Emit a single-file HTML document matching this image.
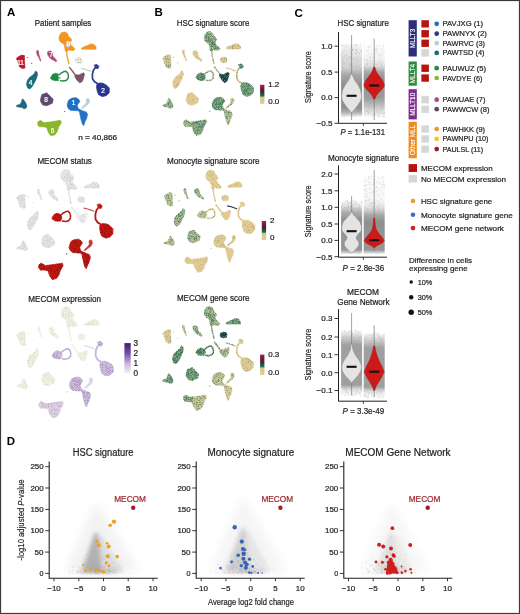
<!DOCTYPE html><html><head><meta charset="utf-8"><style>html,body{margin:0;padding:0;background:#fff;}svg{display:block;will-change:transform;}</style></head><body><svg width="520" height="614" viewBox="0 0 520 614" font-family="Liberation Sans, sans-serif">
<rect x="0" y="0" width="520" height="614" fill="#fff"/>
<defs><filter id="sp35" x="0" y="0" width="520" height="614" filterUnits="userSpaceOnUse"><feTurbulence type="fractalNoise" baseFrequency="1.5" numOctaves="2" seed="3" result="n"/><feColorMatrix in="n" type="matrix" values="0 0 0 0 0  0 0 0 0 0  0 0 0 0 0  0 0 0 6 -2.812" result="m"/><feComposite in="SourceGraphic" in2="m" operator="in" result="c"/><feGaussianBlur in="c" stdDeviation="0.5"/></filter><filter id="sp40" x="0" y="0" width="520" height="614" filterUnits="userSpaceOnUse"><feTurbulence type="fractalNoise" baseFrequency="1.5" numOctaves="2" seed="3" result="n"/><feColorMatrix in="n" type="matrix" values="0 0 0 0 0  0 0 0 0 0  0 0 0 0 0  0 0 0 6 -2.708" result="m"/><feComposite in="SourceGraphic" in2="m" operator="in" result="c"/><feGaussianBlur in="c" stdDeviation="0.5"/></filter><filter id="sp30" x="0" y="0" width="520" height="614" filterUnits="userSpaceOnUse"><feTurbulence type="fractalNoise" baseFrequency="1.5" numOctaves="2" seed="3" result="n"/><feColorMatrix in="n" type="matrix" values="0 0 0 0 0  0 0 0 0 0  0 0 0 0 0  0 0 0 6 -2.917" result="m"/><feComposite in="SourceGraphic" in2="m" operator="in" result="c"/><feGaussianBlur in="c" stdDeviation="0.5"/></filter><filter id="sp32" x="0" y="0" width="520" height="614" filterUnits="userSpaceOnUse"><feTurbulence type="fractalNoise" baseFrequency="1.5" numOctaves="2" seed="3" result="n"/><feColorMatrix in="n" type="matrix" values="0 0 0 0 0  0 0 0 0 0  0 0 0 0 0  0 0 0 6 -2.875" result="m"/><feComposite in="SourceGraphic" in2="m" operator="in" result="c"/><feGaussianBlur in="c" stdDeviation="0.5"/></filter><filter id="sp50" x="0" y="0" width="520" height="614" filterUnits="userSpaceOnUse"><feTurbulence type="fractalNoise" baseFrequency="1.5" numOctaves="2" seed="3" result="n"/><feColorMatrix in="n" type="matrix" values="0 0 0 0 0  0 0 0 0 0  0 0 0 0 0  0 0 0 6 -2.500" result="m"/><feComposite in="SourceGraphic" in2="m" operator="in" result="c"/><feGaussianBlur in="c" stdDeviation="0.5"/></filter><filter id="sp45" x="0" y="0" width="520" height="614" filterUnits="userSpaceOnUse"><feTurbulence type="fractalNoise" baseFrequency="1.5" numOctaves="2" seed="3" result="n"/><feColorMatrix in="n" type="matrix" values="0 0 0 0 0  0 0 0 0 0  0 0 0 0 0  0 0 0 6 -2.604" result="m"/><feComposite in="SourceGraphic" in2="m" operator="in" result="c"/><feGaussianBlur in="c" stdDeviation="0.5"/></filter><filter id="sp42" x="0" y="0" width="520" height="614" filterUnits="userSpaceOnUse"><feTurbulence type="fractalNoise" baseFrequency="1.5" numOctaves="2" seed="3" result="n"/><feColorMatrix in="n" type="matrix" values="0 0 0 0 0  0 0 0 0 0  0 0 0 0 0  0 0 0 6 -2.667" result="m"/><feComposite in="SourceGraphic" in2="m" operator="in" result="c"/><feGaussianBlur in="c" stdDeviation="0.5"/></filter><filter id="sp22" x="0" y="0" width="520" height="614" filterUnits="userSpaceOnUse"><feTurbulence type="fractalNoise" baseFrequency="1.5" numOctaves="2" seed="3" result="n"/><feColorMatrix in="n" type="matrix" values="0 0 0 0 0  0 0 0 0 0  0 0 0 0 0  0 0 0 6 -3.125" result="m"/><feComposite in="SourceGraphic" in2="m" operator="in" result="c"/><feGaussianBlur in="c" stdDeviation="0.5"/></filter><filter id="sp26" x="0" y="0" width="520" height="614" filterUnits="userSpaceOnUse"><feTurbulence type="fractalNoise" baseFrequency="1.5" numOctaves="2" seed="3" result="n"/><feColorMatrix in="n" type="matrix" values="0 0 0 0 0  0 0 0 0 0  0 0 0 0 0  0 0 0 6 -3.000" result="m"/><feComposite in="SourceGraphic" in2="m" operator="in" result="c"/><feGaussianBlur in="c" stdDeviation="0.5"/></filter><filter id="sp33" x="0" y="0" width="520" height="614" filterUnits="userSpaceOnUse"><feTurbulence type="fractalNoise" baseFrequency="1.5" numOctaves="2" seed="3" result="n"/><feColorMatrix in="n" type="matrix" values="0 0 0 0 0  0 0 0 0 0  0 0 0 0 0  0 0 0 6 -2.854" result="m"/><feComposite in="SourceGraphic" in2="m" operator="in" result="c"/><feGaussianBlur in="c" stdDeviation="0.5"/></filter><filter id="sp14" x="0" y="0" width="520" height="614" filterUnits="userSpaceOnUse"><feTurbulence type="fractalNoise" baseFrequency="1.5" numOctaves="2" seed="3" result="n"/><feColorMatrix in="n" type="matrix" values="0 0 0 0 0  0 0 0 0 0  0 0 0 0 0  0 0 0 6 -3.375" result="m"/><feComposite in="SourceGraphic" in2="m" operator="in" result="c"/><feGaussianBlur in="c" stdDeviation="0.5"/></filter><filter id="sp46" x="0" y="0" width="520" height="614" filterUnits="userSpaceOnUse"><feTurbulence type="fractalNoise" baseFrequency="1.5" numOctaves="2" seed="3" result="n"/><feColorMatrix in="n" type="matrix" values="0 0 0 0 0  0 0 0 0 0  0 0 0 0 0  0 0 0 6 -2.583" result="m"/><feComposite in="SourceGraphic" in2="m" operator="in" result="c"/><feGaussianBlur in="c" stdDeviation="0.5"/></filter><filter id="sp48" x="0" y="0" width="520" height="614" filterUnits="userSpaceOnUse"><feTurbulence type="fractalNoise" baseFrequency="1.5" numOctaves="2" seed="3" result="n"/><feColorMatrix in="n" type="matrix" values="0 0 0 0 0  0 0 0 0 0  0 0 0 0 0  0 0 0 6 -2.542" result="m"/><feComposite in="SourceGraphic" in2="m" operator="in" result="c"/><feGaussianBlur in="c" stdDeviation="0.5"/></filter><filter id="sp18" x="0" y="0" width="520" height="614" filterUnits="userSpaceOnUse"><feTurbulence type="fractalNoise" baseFrequency="1.5" numOctaves="2" seed="3" result="n"/><feColorMatrix in="n" type="matrix" values="0 0 0 0 0  0 0 0 0 0  0 0 0 0 0  0 0 0 6 -3.250" result="m"/><feComposite in="SourceGraphic" in2="m" operator="in" result="c"/><feGaussianBlur in="c" stdDeviation="0.5"/></filter><filter id="sp39" x="0" y="0" width="520" height="614" filterUnits="userSpaceOnUse"><feTurbulence type="fractalNoise" baseFrequency="1.5" numOctaves="2" seed="3" result="n"/><feColorMatrix in="n" type="matrix" values="0 0 0 0 0  0 0 0 0 0  0 0 0 0 0  0 0 0 6 -2.729" result="m"/><feComposite in="SourceGraphic" in2="m" operator="in" result="c"/><feGaussianBlur in="c" stdDeviation="0.5"/></filter><filter id="sp65" x="0" y="0" width="520" height="614" filterUnits="userSpaceOnUse"><feTurbulence type="fractalNoise" baseFrequency="1.5" numOctaves="2" seed="3" result="n"/><feColorMatrix in="n" type="matrix" values="0 0 0 0 0  0 0 0 0 0  0 0 0 0 0  0 0 0 6 -2.188" result="m"/><feComposite in="SourceGraphic" in2="m" operator="in" result="c"/><feGaussianBlur in="c" stdDeviation="0.5"/></filter><filter id="sp36" x="0" y="0" width="520" height="614" filterUnits="userSpaceOnUse"><feTurbulence type="fractalNoise" baseFrequency="1.5" numOctaves="2" seed="3" result="n"/><feColorMatrix in="n" type="matrix" values="0 0 0 0 0  0 0 0 0 0  0 0 0 0 0  0 0 0 6 -2.792" result="m"/><feComposite in="SourceGraphic" in2="m" operator="in" result="c"/><feGaussianBlur in="c" stdDeviation="0.5"/></filter><filter id="sp10" x="0" y="0" width="520" height="614" filterUnits="userSpaceOnUse"><feTurbulence type="fractalNoise" baseFrequency="1.5" numOctaves="2" seed="3" result="n"/><feColorMatrix in="n" type="matrix" values="0 0 0 0 0  0 0 0 0 0  0 0 0 0 0  0 0 0 6 -3.500" result="m"/><feComposite in="SourceGraphic" in2="m" operator="in" result="c"/><feGaussianBlur in="c" stdDeviation="0.5"/></filter><filter id="sp47" x="0" y="0" width="520" height="614" filterUnits="userSpaceOnUse"><feTurbulence type="fractalNoise" baseFrequency="1.5" numOctaves="2" seed="3" result="n"/><feColorMatrix in="n" type="matrix" values="0 0 0 0 0  0 0 0 0 0  0 0 0 0 0  0 0 0 6 -2.562" result="m"/><feComposite in="SourceGraphic" in2="m" operator="in" result="c"/><feGaussianBlur in="c" stdDeviation="0.5"/></filter><filter id="sp20" x="0" y="0" width="520" height="614" filterUnits="userSpaceOnUse"><feTurbulence type="fractalNoise" baseFrequency="1.5" numOctaves="2" seed="3" result="n"/><feColorMatrix in="n" type="matrix" values="0 0 0 0 0  0 0 0 0 0  0 0 0 0 0  0 0 0 6 -3.188" result="m"/><feComposite in="SourceGraphic" in2="m" operator="in" result="c"/><feGaussianBlur in="c" stdDeviation="0.5"/></filter></defs>
<text x="7.0" y="16.2" font-size="11.5" fill="#000" text-anchor="start" font-weight="bold" >A</text>
<text x="154.4" y="16.1" font-size="11.5" fill="#000" text-anchor="start" font-weight="bold" >B</text>
<text x="294.5" y="16.6" font-size="11.5" fill="#000" text-anchor="start" font-weight="bold" >C</text>
<text x="6.7" y="444.8" font-size="11.5" fill="#000" text-anchor="start" font-weight="bold" >D</text>
<path d="M81.40,48.30L83.90,46.80L87.80,45.40L90.70,43.90L94.10,44.40L96.10,46.80L96.10,49.30L81.90,49.30Z" fill="#f29422" stroke="#f29422" stroke-width="0.6" stroke-linejoin="round"/><path d="M76.00,58.20L78.50,57.60L81.50,58.00L82.20,60.20L81.50,62.80L78.50,63.00L76.00,62.20L75.40,60.20Z" fill="#cdc7b2" stroke="#cdc7b2" stroke-width="0.6" stroke-linejoin="round"/><path d="M16.30,58.50L18.70,56.50L21.60,55.10L24.50,55.60L24.50,60.40L25.00,68.10L22.60,68.60L19.70,67.10L18.70,64.20L17.80,61.30Z" fill="#c0172b" stroke="#c0172b" stroke-width="0.6" stroke-linejoin="round"/><ellipse cx="27.40" cy="57.50" rx="0.60" ry="0.60" fill="#c0172b"/><ellipse cx="31.70" cy="63.30" rx="0.60" ry="0.60" fill="#c0172b"/><path d="M37.00,50.30L38.40,50.80L38.90,54.60L40.80,60.40L40.40,61.30L38.90,57.50L37.50,55.60L36.50,52.70Z" fill="#b0457a" stroke="#b0457a" stroke-width="0.6" stroke-linejoin="round"/><path d="M47.60,51.70L50.50,50.80L52.40,52.70L52.60,56.00L54.50,58.00L56.70,60.40L56.20,61.80L53.50,60.20L51.50,59.20L49.50,57.50L47.60,54.60Z" fill="#b0457a" stroke="#b0457a" stroke-width="0.6" stroke-linejoin="round"/><path d="M35.50,71.00L37.10,72.10L37.60,74.40L36.60,78.20L34.50,82.50L32.20,86.60L29.90,89.10L27.70,88.00L26.50,84.60L27.20,80.70L29.40,77.60L32.20,75.40L34.50,73.30Z" fill="#1b6a7a" stroke="#1b6a7a" stroke-width="0.6" stroke-linejoin="round"/><path d="M22.60,98.80L24.00,100.20L25.80,103.10L26.90,106.00L26.20,108.10L24.00,108.80L21.90,107.40L18.30,107.00L16.10,106.30L16.90,105.20L19.70,104.50L21.20,102.40L21.90,100.20Z" fill="#1b6a7a" stroke="#1b6a7a" stroke-width="0.6" stroke-linejoin="round"/><path d="M41.90,94.50L46.70,92.80L50.00,96.10L53.20,99.30L52.40,103.30L46.70,105.80L42.70,105.00L40.30,100.90L41.10,96.90Z" fill="#5b4a6e" stroke="#5b4a6e" stroke-width="0.6" stroke-linejoin="round"/><path d="M37.80,121.90L40.30,120.30L44.30,122.70L47.00,122.30L47.20,127.40L42.70,126.80L39.50,126.80L37.80,125.20Z" fill="#8ab52e" stroke="#8ab52e" stroke-width="0.6" stroke-linejoin="round"/><path d="M46.20,122.40L50.00,121.90L55.60,121.10L60.50,120.30L61.30,122.70L58.80,126.80L57.20,131.60L54.80,134.90L50.80,135.70L48.30,132.40L46.70,127.60Z" fill="#8ab52e" stroke="#8ab52e" stroke-width="0.6" stroke-linejoin="round"/><path d="M81.40,68.30L85.00,69.20L88.00,70.20L90.70,71.30" fill="none" stroke="#b4cad4" stroke-width="1.10" stroke-linecap="round" stroke-linejoin="round"/><path d="M69.50,67.40L72.00,70.50L74.50,74.00" fill="none" stroke="#8a5a70" stroke-width="1.40" stroke-linecap="round" stroke-linejoin="round"/><path d="M74.90,74.30L78.80,75.10L81.80,73.50L83.80,72.80L84.50,74.30L83.40,78.90L81.80,82.00L79.50,82.80L77.20,80.50L74.90,77.00Z" fill="#7d5268" stroke="#7d5268" stroke-width="0.6" stroke-linejoin="round"/><path d="M95.50,67.50L93.40,70.30L92.40,74.20L92.50,78.80L94.50,81.80L97.50,83.50" fill="none" stroke="#2f3a92" stroke-width="1.70" stroke-linecap="round" stroke-linejoin="round"/><path d="M94.10,64.90L97.10,64.40L99.00,66.40L98.00,68.80L95.60,68.30Z" fill="#2f3a92" stroke="#2f3a92" stroke-width="0.6" stroke-linejoin="round"/><path d="M96.80,84.50L99.00,83.00L102.40,83.00L106.30,84.90L109.30,87.90L109.30,92.80L106.30,95.70L102.40,96.70L98.50,94.70L97.10,90.80L96.40,87.00Z" fill="#2b3590" stroke="#2b3590" stroke-width="0.6" stroke-linejoin="round"/><path d="M67.40,103.40L68.70,100.10L72.10,98.10L76.20,97.70L78.80,99.40L79.90,101.40L78.20,103.80L77.20,105.50L78.20,108.50L80.20,109.80L76.80,110.80L73.50,110.50L70.10,110.20L68.10,108.20L67.10,105.50Z" fill="#1f6fc5" stroke="#1f6fc5" stroke-width="0.6" stroke-linejoin="round"/><ellipse cx="64.70" cy="111.50" rx="0.70" ry="0.60" fill="#1f6fc5"/><path d="M80.20,109.80L83.60,111.20L86.20,111.90L87.60,114.20L86.90,117.60L85.20,121.60L83.60,125.70L82.50,124.30L81.20,120.30L80.20,115.60L79.50,112.20L78.20,110.50Z" fill="#2272c6" stroke="#2272c6" stroke-width="0.6" stroke-linejoin="round"/><path d="M86.90,98.40L88.90,98.70L89.60,101.40L88.30,104.10L85.60,106.10L82.90,108.20L81.50,108.50L82.50,106.80L84.90,104.80L86.60,102.40L86.20,100.10Z" fill="#b7ccd6" stroke="#b7ccd6" stroke-width="0.6" stroke-linejoin="round"/><path d="M50.30,78.20L52.60,74.30L55.70,73.20L58.80,74.30L60.20,77.40L58.80,80.50L55.70,80.80L52.60,80.10Z" fill="#1e8a3e" stroke="#1e8a3e" stroke-width="0.6" stroke-linejoin="round"/><path d="M58.50,75.50L61.00,73.20L63.50,71.80L65.70,71.20L67.60,72.80L68.40,75.50L68.20,78.20L66.50,80.20L63.50,81.00L60.50,80.60" fill="none" stroke="#2a8a46" stroke-width="1.40" stroke-linecap="round" stroke-linejoin="round"/><path d="M66.40,50.00L66.90,55.30L67.90,59.30L68.90,63.80" fill="none" stroke="#f09a30" stroke-width="1.30" stroke-linecap="round" stroke-linejoin="round"/><path d="M59.60,35.20L61.50,32.60L64.80,31.90L67.40,33.20L68.70,36.50L71.00,38.40L71.60,40.40L70.00,42.30L70.60,44.90L73.20,46.90L74.90,48.80L73.90,50.50L70.60,50.50L68.70,49.50L67.40,51.40L66.30,51.30L65.10,50.80L64.80,47.50L63.80,44.00L61.50,43.00L59.60,41.00L58.90,38.40Z" fill="#f29422" stroke="#f29422" stroke-width="0.6" stroke-linejoin="round"/><ellipse cx="68.00" cy="44.80" rx="2.30" ry="2.60" fill="#d2cad8"/>
<text x="73.5" y="104.8" font-size="6.5" fill="#fff" stroke="#fff" stroke-width="0.22" text-anchor="middle" font-weight="normal" >1</text>
<text x="103" y="93" font-size="6.5" fill="#fff" stroke="#fff" stroke-width="0.22" text-anchor="middle" font-weight="normal" >2</text>
<text x="30.5" y="84.5" font-size="6.5" fill="#fff" stroke="#fff" stroke-width="0.22" text-anchor="middle" font-weight="normal" >4</text>
<text x="60" y="79.5" font-size="6.5" fill="#fff" stroke="#fff" stroke-width="0.22" text-anchor="middle" font-weight="normal" >5</text>
<text x="52.5" y="133" font-size="6.5" fill="#fff" stroke="#fff" stroke-width="0.22" text-anchor="middle" font-weight="normal" >6</text>
<text x="46" y="101.8" font-size="6.5" fill="#fff" stroke="#fff" stroke-width="0.22" text-anchor="middle" font-weight="normal" >8</text>
<text x="20.5" y="64.5" font-size="6.5" fill="#fff" stroke="#fff" stroke-width="0.22" text-anchor="middle" font-weight="normal" >11</text>
<text x="78.5" y="62" font-size="6.5" fill="#fff" stroke="#fff" stroke-width="0.22" text-anchor="middle" font-weight="normal" >10</text>
<text x="68.3" y="46" font-size="6.5" fill="#fff" stroke="#fff" stroke-width="0.22" text-anchor="middle" font-weight="normal" >9</text>
<text x="51" y="57" font-size="6.5" fill="#fff" stroke="#fff" stroke-width="0.22" text-anchor="middle" font-weight="normal" >7</text>
<text x="34.7" y="26" font-size="8.3" fill="#231f20" stroke="#231f20" stroke-width="0.22" text-anchor="start" font-weight="normal" textLength="56.6" lengthAdjust="spacingAndGlyphs" >Patient samples</text>
<text x="78.2" y="140.1" font-size="7.5" fill="#231f20" stroke="#231f20" stroke-width="0.22" text-anchor="start" font-weight="normal" textLength="39" lengthAdjust="spacingAndGlyphs" >n = 40,866</text>
<path d="M83.99,186.89L86.58,185.30L90.62,183.81L93.63,182.23L97.15,182.76L99.22,185.30L99.22,187.94L84.51,187.94Z" fill="#e6e6e6" stroke="#e6e6e6" stroke-width="0.6" stroke-linejoin="round"/><path d="M78.40,197.37L80.99,196.73L84.10,197.16L84.82,199.49L84.10,202.24L80.99,202.45L78.40,201.61L77.78,199.49Z" fill="#e0e0e0" stroke="#e0e0e0" stroke-width="0.6" stroke-linejoin="round"/><path d="M16.55,197.69L19.04,195.57L22.04,194.09L25.04,194.62L25.04,199.70L25.56,207.85L23.08,208.38L20.07,206.79L19.04,203.72L18.10,200.65Z" fill="#e6e6e6" stroke="#e6e6e6" stroke-width="0.6" stroke-linejoin="round"/><ellipse cx="28.05" cy="196.63" rx="0.62" ry="0.64" fill="#e6e6e6"/><ellipse cx="32.50" cy="202.77" rx="0.62" ry="0.64" fill="#e6e6e6"/><path d="M37.99,189.00L39.44,189.53L39.96,193.56L41.93,199.70L41.52,200.65L39.96,196.63L38.51,194.62L37.48,191.54Z" fill="#e6e6e6" stroke="#e6e6e6" stroke-width="0.6" stroke-linejoin="round"/><path d="M48.98,190.49L51.98,189.53L53.95,191.54L54.16,195.04L56.12,197.16L58.40,199.70L57.89,201.18L55.09,199.49L53.02,198.43L50.94,196.63L48.98,193.56Z" fill="#e6e6e6" stroke="#e6e6e6" stroke-width="0.6" stroke-linejoin="round"/><path d="M36.44,210.92L38.10,212.09L38.62,214.53L37.58,218.55L35.40,223.10L33.02,227.44L30.64,230.09L28.36,228.93L27.12,225.33L27.84,221.20L30.12,217.91L33.02,215.58L35.40,213.36Z" fill="#e6e6e6" stroke="#e6e6e6" stroke-width="0.6" stroke-linejoin="round"/><path d="M23.08,240.36L24.53,241.85L26.39,244.92L27.53,247.99L26.81,250.21L24.53,250.95L22.35,249.47L18.62,249.05L16.34,248.31L17.17,247.14L20.07,246.40L21.63,244.18L22.35,241.85Z" fill="#e6e6e6" stroke="#e6e6e6" stroke-width="0.6" stroke-linejoin="round"/><path d="M43.07,235.81L48.04,234.01L51.46,237.51L54.78,240.89L53.95,245.13L48.04,247.78L43.90,246.93L41.41,242.59L42.24,238.35Z" fill="#e6e6e6" stroke="#e6e6e6" stroke-width="0.6" stroke-linejoin="round"/><path d="M38.82,264.83L41.41,263.13L45.56,265.67L48.35,265.25L48.56,270.65L43.90,270.02L40.58,270.02L38.82,268.32Z" fill="#c41c16" stroke="#c41c16" stroke-width="0.6" stroke-linejoin="round"/><path d="M47.53,265.36L51.46,264.83L57.26,263.98L62.34,263.13L63.17,265.67L60.58,270.02L58.92,275.10L56.43,278.59L52.29,279.44L49.70,275.95L48.04,270.86Z" fill="#c41c16" stroke="#c41c16" stroke-width="0.6" stroke-linejoin="round"/><path d="M83.99,208.07L87.72,209.02L90.83,210.08L93.63,211.24" fill="none" stroke="#c9524c" stroke-width="1.16" stroke-linecap="round" stroke-linejoin="round"/><path d="M71.66,207.11L74.25,210.40L76.84,214.10" fill="none" stroke="#e4e4e4" stroke-width="1.47" stroke-linecap="round" stroke-linejoin="round"/><path d="M77.26,214.42L81.30,215.27L84.41,213.57L86.48,212.83L87.20,214.42L86.06,219.29L84.41,222.57L82.02,223.42L79.64,220.99L77.26,217.28Z" fill="#ececec" stroke="#ececec" stroke-width="0.6" stroke-linejoin="round"/><path d="M98.60,207.22L96.42,210.18L95.39,214.31L95.49,219.18L97.56,222.36L100.67,224.16" fill="none" stroke="#b5140f" stroke-width="1.78" stroke-linecap="round" stroke-linejoin="round"/><path d="M97.15,204.46L100.26,203.94L102.23,206.05L101.19,208.59L98.70,208.07Z" fill="#c41c16" stroke="#c41c16" stroke-width="0.6" stroke-linejoin="round"/><path d="M99.95,225.22L102.23,223.63L105.75,223.63L109.79,225.64L112.90,228.82L112.90,234.01L109.79,237.08L105.75,238.14L101.71,236.02L100.26,231.89L99.53,227.87Z" fill="#c41c16" stroke="#c41c16" stroke-width="0.6" stroke-linejoin="round"/><path d="M69.49,245.24L70.84,241.74L74.36,239.62L78.61,239.20L81.30,241.00L82.44,243.12L80.68,245.66L79.64,247.46L80.68,250.64L82.75,252.01L79.23,253.07L75.81,252.76L72.29,252.44L70.21,250.32L69.18,247.46Z" fill="#c41c16" stroke="#c41c16" stroke-width="0.6" stroke-linejoin="round"/><ellipse cx="66.69" cy="253.81" rx="0.73" ry="0.64" fill="#c41c16"/><path d="M82.75,252.01L86.27,253.50L88.97,254.24L90.42,256.67L89.69,260.27L87.93,264.51L86.27,268.85L85.13,267.37L83.79,263.13L82.75,258.16L82.02,254.56L80.68,252.76Z" fill="#c41c16" stroke="#c41c16" stroke-width="0.6" stroke-linejoin="round"/><path d="M89.69,239.94L91.76,240.26L92.49,243.12L91.14,245.98L88.34,248.10L85.55,250.32L84.10,250.64L85.13,248.84L87.62,246.72L89.38,244.18L88.97,241.74Z" fill="#c23a34" stroke="#c23a34" stroke-width="0.6" stroke-linejoin="round"/><path d="M51.77,218.55L54.16,214.42L57.37,213.25L60.58,214.42L62.03,217.70L60.58,220.99L57.37,221.30L54.16,220.56Z" fill="#c41c16" stroke="#c41c16" stroke-width="0.6" stroke-linejoin="round"/><path d="M60.27,215.69L62.86,213.25L65.45,211.77L67.73,211.14L69.70,212.83L70.52,215.69L70.32,218.55L68.56,220.67L65.45,221.51L62.34,221.09" fill="none" stroke="#b5140f" stroke-width="1.47" stroke-linecap="round" stroke-linejoin="round"/><path d="M68.45,188.69L68.97,194.30L70.01,198.53L71.04,203.30" fill="none" stroke="#ececec" stroke-width="1.37" stroke-linecap="round" stroke-linejoin="round"/><path d="M61.41,173.01L63.38,170.26L66.79,169.52L69.49,170.89L70.84,174.39L73.22,176.40L73.84,178.52L72.18,180.53L72.80,183.28L75.50,185.40L77.26,187.41L76.22,189.22L72.80,189.22L70.84,188.16L69.49,190.17L68.35,190.06L67.11,189.53L66.79,186.04L65.76,182.33L63.38,181.27L61.41,179.15L60.68,176.40Z" fill="#e6e6e6" stroke="#e6e6e6" stroke-width="0.6" stroke-linejoin="round"/><ellipse cx="70.11" cy="183.18" rx="2.38" ry="2.75" fill="#e6e6e6"/>
<g filter="url(#sp35)"><path d="M83.99,186.89L86.58,185.30L90.62,183.81L93.63,182.23L97.15,182.76L99.22,185.30L99.22,187.94L84.51,187.94Z" fill="#d0d0d0" stroke="#d0d0d0" stroke-width="0.6" stroke-linejoin="round"/><path d="M16.55,197.69L19.04,195.57L22.04,194.09L25.04,194.62L25.04,199.70L25.56,207.85L23.08,208.38L20.07,206.79L19.04,203.72L18.10,200.65Z" fill="#d0d0d0" stroke="#d0d0d0" stroke-width="0.6" stroke-linejoin="round"/><ellipse cx="28.05" cy="196.63" rx="0.62" ry="0.64" fill="#d0d0d0"/><ellipse cx="32.50" cy="202.77" rx="0.62" ry="0.64" fill="#d0d0d0"/><path d="M37.99,189.00L39.44,189.53L39.96,193.56L41.93,199.70L41.52,200.65L39.96,196.63L38.51,194.62L37.48,191.54Z" fill="#d0d0d0" stroke="#d0d0d0" stroke-width="0.6" stroke-linejoin="round"/><path d="M48.98,190.49L51.98,189.53L53.95,191.54L54.16,195.04L56.12,197.16L58.40,199.70L57.89,201.18L55.09,199.49L53.02,198.43L50.94,196.63L48.98,193.56Z" fill="#d0d0d0" stroke="#d0d0d0" stroke-width="0.6" stroke-linejoin="round"/><path d="M36.44,210.92L38.10,212.09L38.62,214.53L37.58,218.55L35.40,223.10L33.02,227.44L30.64,230.09L28.36,228.93L27.12,225.33L27.84,221.20L30.12,217.91L33.02,215.58L35.40,213.36Z" fill="#d0d0d0" stroke="#d0d0d0" stroke-width="0.6" stroke-linejoin="round"/><path d="M23.08,240.36L24.53,241.85L26.39,244.92L27.53,247.99L26.81,250.21L24.53,250.95L22.35,249.47L18.62,249.05L16.34,248.31L17.17,247.14L20.07,246.40L21.63,244.18L22.35,241.85Z" fill="#d0d0d0" stroke="#d0d0d0" stroke-width="0.6" stroke-linejoin="round"/><path d="M43.07,235.81L48.04,234.01L51.46,237.51L54.78,240.89L53.95,245.13L48.04,247.78L43.90,246.93L41.41,242.59L42.24,238.35Z" fill="#d0d0d0" stroke="#d0d0d0" stroke-width="0.6" stroke-linejoin="round"/><path d="M61.41,173.01L63.38,170.26L66.79,169.52L69.49,170.89L70.84,174.39L73.22,176.40L73.84,178.52L72.18,180.53L72.80,183.28L75.50,185.40L77.26,187.41L76.22,189.22L72.80,189.22L70.84,188.16L69.49,190.17L68.35,190.06L67.11,189.53L66.79,186.04L65.76,182.33L63.38,181.27L61.41,179.15L60.68,176.40Z" fill="#d0d0d0" stroke="#d0d0d0" stroke-width="0.6" stroke-linejoin="round"/><ellipse cx="70.11" cy="183.18" rx="2.38" ry="2.75" fill="#d0d0d0"/></g>
<g filter="url(#sp40)"><path d="M38.82,264.83L41.41,263.13L45.56,265.67L48.35,265.25L48.56,270.65L43.90,270.02L40.58,270.02L38.82,268.32Z" fill="#9e0e0a" stroke="#9e0e0a" stroke-width="0.6" stroke-linejoin="round"/><path d="M47.53,265.36L51.46,264.83L57.26,263.98L62.34,263.13L63.17,265.67L60.58,270.02L58.92,275.10L56.43,278.59L52.29,279.44L49.70,275.95L48.04,270.86Z" fill="#9e0e0a" stroke="#9e0e0a" stroke-width="0.6" stroke-linejoin="round"/><path d="M97.15,204.46L100.26,203.94L102.23,206.05L101.19,208.59L98.70,208.07Z" fill="#9e0e0a" stroke="#9e0e0a" stroke-width="0.6" stroke-linejoin="round"/><path d="M99.95,225.22L102.23,223.63L105.75,223.63L109.79,225.64L112.90,228.82L112.90,234.01L109.79,237.08L105.75,238.14L101.71,236.02L100.26,231.89L99.53,227.87Z" fill="#9e0e0a" stroke="#9e0e0a" stroke-width="0.6" stroke-linejoin="round"/><path d="M69.49,245.24L70.84,241.74L74.36,239.62L78.61,239.20L81.30,241.00L82.44,243.12L80.68,245.66L79.64,247.46L80.68,250.64L82.75,252.01L79.23,253.07L75.81,252.76L72.29,252.44L70.21,250.32L69.18,247.46Z" fill="#9e0e0a" stroke="#9e0e0a" stroke-width="0.6" stroke-linejoin="round"/><ellipse cx="66.69" cy="253.81" rx="0.73" ry="0.64" fill="#9e0e0a"/><path d="M82.75,252.01L86.27,253.50L88.97,254.24L90.42,256.67L89.69,260.27L87.93,264.51L86.27,268.85L85.13,267.37L83.79,263.13L82.75,258.16L82.02,254.56L80.68,252.76Z" fill="#9e0e0a" stroke="#9e0e0a" stroke-width="0.6" stroke-linejoin="round"/><path d="M51.77,218.55L54.16,214.42L57.37,213.25L60.58,214.42L62.03,217.70L60.58,220.99L57.37,221.30L54.16,220.56Z" fill="#9e0e0a" stroke="#9e0e0a" stroke-width="0.6" stroke-linejoin="round"/><path d="M68.45,188.69L68.97,194.30L70.01,198.53L71.04,203.30" fill="none" stroke="#d0d0d0" stroke-width="1.37" stroke-linecap="round" stroke-linejoin="round"/></g>
<g filter="url(#sp30)"><path d="M77.26,214.42L81.30,215.27L84.41,213.57L86.48,212.83L87.20,214.42L86.06,219.29L84.41,222.57L82.02,223.42L79.64,220.99L77.26,217.28Z" fill="#d8d8d8" stroke="#d8d8d8" stroke-width="0.6" stroke-linejoin="round"/></g>
<text x="37.4" y="164.1" font-size="8.4" fill="#231f20" stroke="#231f20" stroke-width="0.22" text-anchor="start" font-weight="normal" textLength="54.5" lengthAdjust="spacingAndGlyphs" >MECOM status</text>
<path d="M84.25,324.17L86.85,322.56L90.91,321.07L93.93,319.46L97.46,320.00L99.54,322.56L99.54,325.24L84.77,325.24Z" fill="#f1f0e4" stroke="#f1f0e4" stroke-width="0.6" stroke-linejoin="round"/><path d="M78.64,334.76L81.24,334.12L84.36,334.55L85.09,336.90L84.36,339.68L81.24,339.90L78.64,339.04L78.01,336.90Z" fill="#efeee2" stroke="#efeee2" stroke-width="0.6" stroke-linejoin="round"/><path d="M16.55,335.08L19.05,332.94L22.06,331.44L25.08,331.98L25.08,337.12L25.60,345.36L23.10,345.89L20.09,344.29L19.05,341.18L18.11,338.08Z" fill="#f1f0e4" stroke="#f1f0e4" stroke-width="0.6" stroke-linejoin="round"/><ellipse cx="28.09" cy="334.01" rx="0.62" ry="0.64" fill="#f1f0e4"/><ellipse cx="32.57" cy="340.22" rx="0.62" ry="0.64" fill="#f1f0e4"/><path d="M38.08,326.31L39.53,326.84L40.05,330.91L42.03,337.12L41.61,338.08L40.05,334.01L38.60,331.98L37.56,328.88Z" fill="#f0efe4" stroke="#f0efe4" stroke-width="0.6" stroke-linejoin="round"/><path d="M49.10,327.81L52.12,326.84L54.09,328.88L54.30,332.41L56.28,334.55L58.57,337.12L58.05,338.61L55.24,336.90L53.16,335.83L51.08,334.01L49.10,330.91Z" fill="#f1f0e4" stroke="#f1f0e4" stroke-width="0.6" stroke-linejoin="round"/><path d="M36.52,348.46L38.18,349.63L38.70,352.10L37.66,356.16L35.48,360.76L33.09,365.15L30.69,367.82L28.41,366.65L27.16,363.01L27.89,358.84L30.17,355.52L33.09,353.17L35.48,350.92Z" fill="#f1f0e4" stroke="#f1f0e4" stroke-width="0.6" stroke-linejoin="round"/><path d="M23.10,378.20L24.56,379.70L26.43,382.81L27.57,385.91L26.85,388.16L24.56,388.90L22.37,387.41L18.63,386.98L16.34,386.23L17.17,385.05L20.09,384.30L21.65,382.06L22.37,379.70Z" fill="#f1f0e4" stroke="#f1f0e4" stroke-width="0.6" stroke-linejoin="round"/><path d="M43.17,373.60L48.17,371.78L51.60,375.31L54.93,378.74L54.09,383.02L48.17,385.69L44.01,384.84L41.51,380.45L42.34,376.17Z" fill="#f1f0e4" stroke="#f1f0e4" stroke-width="0.6" stroke-linejoin="round"/><path d="M38.91,402.92L41.51,401.21L45.67,403.78L48.48,403.35L48.69,408.81L44.01,408.16L40.68,408.16L38.91,406.45Z" fill="#e4d9e5" stroke="#e4d9e5" stroke-width="0.6" stroke-linejoin="round"/><path d="M47.65,403.46L51.60,402.92L57.42,402.06L62.52,401.21L63.35,403.78L60.75,408.16L59.09,413.30L56.59,416.83L52.43,417.69L49.83,414.16L48.17,409.02Z" fill="#e4d9e5" stroke="#e4d9e5" stroke-width="0.6" stroke-linejoin="round"/><path d="M84.25,345.57L88.00,346.53L91.12,347.60L93.93,348.78" fill="none" stroke="#e0d8e6" stroke-width="1.16" stroke-linecap="round" stroke-linejoin="round"/><path d="M71.88,344.61L74.48,347.92L77.08,351.67" fill="none" stroke="#f0efe2" stroke-width="1.47" stroke-linecap="round" stroke-linejoin="round"/><path d="M77.49,351.99L81.55,352.85L84.67,351.13L86.75,350.38L87.48,351.99L86.33,356.91L84.67,360.23L82.28,361.08L79.89,358.62L77.49,354.88Z" fill="#f1f0e6" stroke="#f1f0e6" stroke-width="0.6" stroke-linejoin="round"/><path d="M98.92,344.71L96.73,347.71L95.69,351.88L95.80,356.80L97.88,360.01L101.00,361.83" fill="none" stroke="#c6b4d6" stroke-width="1.78" stroke-linecap="round" stroke-linejoin="round"/><path d="M97.46,341.93L100.58,341.40L102.56,343.54L101.52,346.10L99.02,345.57Z" fill="#d0c0dc" stroke="#d0c0dc" stroke-width="0.6" stroke-linejoin="round"/><path d="M100.27,362.90L102.56,361.30L106.09,361.30L110.15,363.33L113.27,366.54L113.27,371.78L110.15,374.89L106.09,375.96L102.04,373.82L100.58,369.64L99.85,365.58Z" fill="#d0c0dc" stroke="#d0c0dc" stroke-width="0.6" stroke-linejoin="round"/><path d="M69.69,383.13L71.05,379.60L74.58,377.46L78.85,377.03L81.55,378.85L82.69,380.99L80.93,383.55L79.89,385.37L80.93,388.58L83.01,389.97L79.47,391.04L76.04,390.72L72.50,390.40L70.42,388.26L69.38,385.37Z" fill="#d0c0dc" stroke="#d0c0dc" stroke-width="0.6" stroke-linejoin="round"/><ellipse cx="66.89" cy="391.79" rx="0.73" ry="0.64" fill="#d0c0dc"/><path d="M83.01,389.97L86.54,391.47L89.25,392.22L90.70,394.68L89.97,398.32L88.21,402.60L86.54,406.99L85.40,405.49L84.05,401.21L83.01,396.18L82.28,392.54L80.93,390.72Z" fill="#d0c0dc" stroke="#d0c0dc" stroke-width="0.6" stroke-linejoin="round"/><path d="M89.97,377.78L92.05,378.10L92.78,380.99L91.43,383.88L88.62,386.01L85.81,388.26L84.36,388.58L85.40,386.76L87.89,384.62L89.66,382.06L89.25,379.60Z" fill="#ddd3e3" stroke="#ddd3e3" stroke-width="0.6" stroke-linejoin="round"/><path d="M51.91,356.16L54.30,351.99L57.53,350.81L60.75,351.99L62.21,355.31L60.75,358.62L57.53,358.94L54.30,358.19Z" fill="#d0c0dc" stroke="#d0c0dc" stroke-width="0.6" stroke-linejoin="round"/><path d="M60.44,353.27L63.04,350.81L65.64,349.31L67.93,348.67L69.90,350.38L70.73,353.27L70.53,356.16L68.76,358.30L65.64,359.16L62.52,358.73" fill="none" stroke="#bea9d2" stroke-width="1.47" stroke-linecap="round" stroke-linejoin="round"/><path d="M68.65,325.99L69.17,331.66L70.21,335.94L71.25,340.75" fill="none" stroke="#f0efe2" stroke-width="1.37" stroke-linecap="round" stroke-linejoin="round"/><path d="M61.58,310.15L63.56,307.37L66.99,306.62L69.69,308.01L71.05,311.54L73.44,313.58L74.06,315.72L72.40,317.75L73.02,320.53L75.73,322.67L77.49,324.70L76.45,326.52L73.02,326.52L71.05,325.45L69.69,327.49L68.55,327.38L67.30,326.84L66.99,323.31L65.95,319.57L63.56,318.50L61.58,316.36L60.85,313.58Z" fill="#f1f0e4" stroke="#f1f0e4" stroke-width="0.6" stroke-linejoin="round"/><ellipse cx="70.32" cy="320.42" rx="2.39" ry="2.78" fill="#f1f0e4"/>
<g filter="url(#sp32)"><path d="M84.25,324.17L86.85,322.56L90.91,321.07L93.93,319.46L97.46,320.00L99.54,322.56L99.54,325.24L84.77,325.24Z" fill="#e0dec4" stroke="#e0dec4" stroke-width="0.6" stroke-linejoin="round"/><path d="M16.55,335.08L19.05,332.94L22.06,331.44L25.08,331.98L25.08,337.12L25.60,345.36L23.10,345.89L20.09,344.29L19.05,341.18L18.11,338.08Z" fill="#e0dec4" stroke="#e0dec4" stroke-width="0.6" stroke-linejoin="round"/><ellipse cx="28.09" cy="334.01" rx="0.62" ry="0.64" fill="#e0dec4"/><ellipse cx="32.57" cy="340.22" rx="0.62" ry="0.64" fill="#e0dec4"/><path d="M49.10,327.81L52.12,326.84L54.09,328.88L54.30,332.41L56.28,334.55L58.57,337.12L58.05,338.61L55.24,336.90L53.16,335.83L51.08,334.01L49.10,330.91Z" fill="#e0dec4" stroke="#e0dec4" stroke-width="0.6" stroke-linejoin="round"/><path d="M36.52,348.46L38.18,349.63L38.70,352.10L37.66,356.16L35.48,360.76L33.09,365.15L30.69,367.82L28.41,366.65L27.16,363.01L27.89,358.84L30.17,355.52L33.09,353.17L35.48,350.92Z" fill="#e0dec4" stroke="#e0dec4" stroke-width="0.6" stroke-linejoin="round"/><path d="M23.10,378.20L24.56,379.70L26.43,382.81L27.57,385.91L26.85,388.16L24.56,388.90L22.37,387.41L18.63,386.98L16.34,386.23L17.17,385.05L20.09,384.30L21.65,382.06L22.37,379.70Z" fill="#e0dec4" stroke="#e0dec4" stroke-width="0.6" stroke-linejoin="round"/><path d="M43.17,373.60L48.17,371.78L51.60,375.31L54.93,378.74L54.09,383.02L48.17,385.69L44.01,384.84L41.51,380.45L42.34,376.17Z" fill="#e0dec4" stroke="#e0dec4" stroke-width="0.6" stroke-linejoin="round"/><path d="M61.58,310.15L63.56,307.37L66.99,306.62L69.69,308.01L71.05,311.54L73.44,313.58L74.06,315.72L72.40,317.75L73.02,320.53L75.73,322.67L77.49,324.70L76.45,326.52L73.02,326.52L71.05,325.45L69.69,327.49L68.55,327.38L67.30,326.84L66.99,323.31L65.95,319.57L63.56,318.50L61.58,316.36L60.85,313.58Z" fill="#e0dec4" stroke="#e0dec4" stroke-width="0.6" stroke-linejoin="round"/><ellipse cx="70.32" cy="320.42" rx="2.39" ry="2.78" fill="#e0dec4"/></g>
<g filter="url(#sp50)"><path d="M38.91,402.92L41.51,401.21L45.67,403.78L48.48,403.35L48.69,408.81L44.01,408.16L40.68,408.16L38.91,406.45Z" fill="#c7b5cd" stroke="#c7b5cd" stroke-width="0.6" stroke-linejoin="round"/></g>
<g filter="url(#sp45)"><path d="M47.65,403.46L51.60,402.92L57.42,402.06L62.52,401.21L63.35,403.78L60.75,408.16L59.09,413.30L56.59,416.83L52.43,417.69L49.83,414.16L48.17,409.02Z" fill="#c7b5cd" stroke="#c7b5cd" stroke-width="0.6" stroke-linejoin="round"/></g>
<g filter="url(#sp30)"><path d="M77.49,351.99L81.55,352.85L84.67,351.13L86.75,350.38L87.48,351.99L86.33,356.91L84.67,360.23L82.28,361.08L79.89,358.62L77.49,354.88Z" fill="#e2dfca" stroke="#e2dfca" stroke-width="0.6" stroke-linejoin="round"/></g>
<g filter="url(#sp42)"><path d="M97.46,341.93L100.58,341.40L102.56,343.54L101.52,346.10L99.02,345.57Z" fill="#ac96c6" stroke="#ac96c6" stroke-width="0.6" stroke-linejoin="round"/><path d="M100.27,362.90L102.56,361.30L106.09,361.30L110.15,363.33L113.27,366.54L113.27,371.78L110.15,374.89L106.09,375.96L102.04,373.82L100.58,369.64L99.85,365.58Z" fill="#ac96c6" stroke="#ac96c6" stroke-width="0.6" stroke-linejoin="round"/><path d="M69.69,383.13L71.05,379.60L74.58,377.46L78.85,377.03L81.55,378.85L82.69,380.99L80.93,383.55L79.89,385.37L80.93,388.58L83.01,389.97L79.47,391.04L76.04,390.72L72.50,390.40L70.42,388.26L69.38,385.37Z" fill="#ac96c6" stroke="#ac96c6" stroke-width="0.6" stroke-linejoin="round"/><ellipse cx="66.89" cy="391.79" rx="0.73" ry="0.64" fill="#ac96c6"/><path d="M83.01,389.97L86.54,391.47L89.25,392.22L90.70,394.68L89.97,398.32L88.21,402.60L86.54,406.99L85.40,405.49L84.05,401.21L83.01,396.18L82.28,392.54L80.93,390.72Z" fill="#ac96c6" stroke="#ac96c6" stroke-width="0.6" stroke-linejoin="round"/><path d="M51.91,356.16L54.30,351.99L57.53,350.81L60.75,351.99L62.21,355.31L60.75,358.62L57.53,358.94L54.30,358.19Z" fill="#ac96c6" stroke="#ac96c6" stroke-width="0.6" stroke-linejoin="round"/></g>
<text x="28.3" y="301.8" font-size="8.4" fill="#231f20" stroke="#231f20" stroke-width="0.22" text-anchor="start" font-weight="normal" textLength="72.7" lengthAdjust="spacingAndGlyphs" >MECOM expression</text>
<defs><linearGradient id="gpu" x1="0" y1="0" x2="0" y2="1"><stop offset="0" stop-color="#3b1d6e"/><stop offset="0.35" stop-color="#7b4fae"/><stop offset="0.7" stop-color="#cdb8e0"/><stop offset="1" stop-color="#f6eeea"/></linearGradient>
<linearGradient id="gsc" x1="0" y1="0" x2="0" y2="1"><stop offset="0" stop-color="#a8203c"/><stop offset="0.3" stop-color="#5a1a30"/><stop offset="0.45" stop-color="#1c4a3e"/><stop offset="0.58" stop-color="#207050"/><stop offset="0.66" stop-color="#d8c48e"/><stop offset="1" stop-color="#e6cb92"/></linearGradient></defs>
<rect x="124.4" y="343.1" width="6.3" height="30.1" fill="url(#gpu)"/>
<text x="133.5" y="345.5" font-size="8.2" fill="#231f20" stroke="#231f20" stroke-width="0.22" text-anchor="start" font-weight="normal" >3</text>
<text x="133.5" y="356" font-size="8.2" fill="#231f20" stroke="#231f20" stroke-width="0.22" text-anchor="start" font-weight="normal" >2</text>
<text x="133.5" y="365.6" font-size="8.2" fill="#231f20" stroke="#231f20" stroke-width="0.22" text-anchor="start" font-weight="normal" >1</text>
<text x="133.5" y="375.5" font-size="8.2" fill="#231f20" stroke="#231f20" stroke-width="0.22" text-anchor="start" font-weight="normal" >0</text>
<path d="M226.11,47.97L228.54,46.47L232.35,45.07L235.17,43.58L238.49,44.07L240.44,46.47L240.44,48.96L226.59,48.96Z" fill="#ddc994" stroke="#ddc994" stroke-width="0.6" stroke-linejoin="round"/><path d="M220.84,57.85L223.28,57.25L226.20,57.65L226.89,59.84L226.20,62.44L223.28,62.64L220.84,61.84L220.26,59.84Z" fill="#dac894" stroke="#dac894" stroke-width="0.6" stroke-linejoin="round"/><path d="M162.63,58.15L164.97,56.15L167.80,54.75L170.63,55.25L170.63,60.04L171.12,67.73L168.78,68.23L165.95,66.73L164.97,63.83L164.10,60.94Z" fill="#d2c696" stroke="#d2c696" stroke-width="0.6" stroke-linejoin="round"/><ellipse cx="173.46" cy="57.15" rx="0.59" ry="0.60" fill="#d2c696"/><ellipse cx="177.65" cy="62.94" rx="0.59" ry="0.60" fill="#d2c696"/><path d="M182.82,49.96L184.18,50.46L184.67,54.25L186.52,60.04L186.13,60.94L184.67,57.15L183.30,55.25L182.33,52.36Z" fill="#ddc994" stroke="#ddc994" stroke-width="0.6" stroke-linejoin="round"/><path d="M193.15,51.36L195.98,50.46L197.83,52.36L198.03,55.65L199.88,57.65L202.02,60.04L201.54,61.44L198.90,59.84L196.95,58.84L195.00,57.15L193.15,54.25Z" fill="#ddc994" stroke="#ddc994" stroke-width="0.6" stroke-linejoin="round"/><path d="M181.35,70.62L182.91,71.72L183.40,74.01L182.43,77.81L180.38,82.10L178.14,86.19L175.89,88.68L173.75,87.59L172.58,84.19L173.26,80.30L175.41,77.21L178.14,75.01L180.38,72.92Z" fill="#e2ca93" stroke="#e2ca93" stroke-width="0.6" stroke-linejoin="round"/><path d="M168.78,98.37L170.14,99.76L171.90,102.66L172.97,105.55L172.29,107.65L170.14,108.35L168.09,106.95L164.58,106.55L162.44,105.85L163.22,104.75L165.95,104.05L167.41,101.96L168.09,99.76Z" fill="#b0bd97" stroke="#b0bd97" stroke-width="0.6" stroke-linejoin="round"/><path d="M187.59,94.07L192.27,92.38L195.49,95.67L198.61,98.86L197.83,102.86L192.27,105.35L188.37,104.55L186.03,100.46L186.81,96.47Z" fill="#e2ca93" stroke="#e2ca93" stroke-width="0.6" stroke-linejoin="round"/><path d="M183.60,121.42L186.03,119.82L189.93,122.22L192.57,121.82L192.76,126.91L188.37,126.31L185.25,126.31L183.60,124.71Z" fill="#bec299" stroke="#bec299" stroke-width="0.6" stroke-linejoin="round"/><path d="M191.79,121.92L195.49,121.42L200.95,120.62L205.73,119.82L206.51,122.22L204.07,126.31L202.51,131.10L200.17,134.39L196.27,135.19L193.83,131.90L192.27,127.11Z" fill="#9fb692" stroke="#9fb692" stroke-width="0.6" stroke-linejoin="round"/><path d="M226.11,67.93L229.62,68.82L232.54,69.82L235.17,70.92" fill="none" stroke="#dfc993" stroke-width="1.10" stroke-linecap="round" stroke-linejoin="round"/><path d="M214.50,67.03L216.94,70.12L219.38,73.62" fill="none" stroke="#c5c398" stroke-width="1.40" stroke-linecap="round" stroke-linejoin="round"/><path d="M219.77,73.91L223.57,74.71L226.50,73.12L228.45,72.42L229.13,73.91L228.06,78.51L226.50,81.60L224.25,82.40L222.01,80.10L219.77,76.61Z" fill="#58806a" stroke="#58806a" stroke-width="0.6" stroke-linejoin="round"/><path d="M239.85,67.13L237.81,69.92L236.83,73.81L236.93,78.41L238.88,81.40L241.80,83.10" fill="none" stroke="#dac894" stroke-width="1.70" stroke-linecap="round" stroke-linejoin="round"/><path d="M238.49,64.53L241.41,64.03L243.27,66.03L242.29,68.43L239.95,67.93Z" fill="#82a782" stroke="#82a782" stroke-width="0.6" stroke-linejoin="round"/><path d="M241.12,84.09L243.27,82.60L246.58,82.60L250.38,84.49L253.31,87.49L253.31,92.38L250.38,95.27L246.58,96.27L242.78,94.27L241.41,90.38L240.73,86.59Z" fill="#8fb08c" stroke="#8fb08c" stroke-width="0.6" stroke-linejoin="round"/><path d="M212.46,102.96L213.72,99.66L217.04,97.67L221.04,97.27L223.57,98.96L224.64,100.96L222.99,103.36L222.01,105.05L222.99,108.05L224.94,109.34L221.62,110.34L218.40,110.04L215.09,109.74L213.14,107.75L212.16,105.05Z" fill="#8fb08c" stroke="#8fb08c" stroke-width="0.6" stroke-linejoin="round"/><ellipse cx="209.82" cy="111.04" rx="0.68" ry="0.60" fill="#8fb08c"/><path d="M224.94,109.34L228.25,110.74L230.79,111.44L232.15,113.73L231.47,117.13L229.81,121.12L228.25,125.21L227.18,123.81L225.91,119.82L224.94,115.13L224.25,111.74L222.99,110.04Z" fill="#c5c398" stroke="#c5c398" stroke-width="0.6" stroke-linejoin="round"/><path d="M231.47,97.97L233.42,98.27L234.10,100.96L232.83,103.66L230.20,105.65L227.57,107.75L226.20,108.05L227.18,106.35L229.52,104.35L231.18,101.96L230.79,99.66Z" fill="#d2c696" stroke="#d2c696" stroke-width="0.6" stroke-linejoin="round"/><path d="M195.78,77.81L198.03,73.91L201.05,72.82L204.07,73.91L205.44,77.01L204.07,80.10L201.05,80.40L198.03,79.70Z" fill="#82a782" stroke="#82a782" stroke-width="0.6" stroke-linejoin="round"/><path d="M203.78,75.11L206.22,72.82L208.65,71.42L210.80,70.82L212.65,72.42L213.43,75.11L213.24,77.81L211.58,79.80L208.65,80.60L205.73,80.20" fill="none" stroke="#bec299" stroke-width="1.40" stroke-linecap="round" stroke-linejoin="round"/><path d="M211.48,49.66L211.97,54.95L212.94,58.94L213.92,63.44" fill="none" stroke="#cbc597" stroke-width="1.30" stroke-linecap="round" stroke-linejoin="round"/><path d="M204.85,34.89L206.70,32.30L209.92,31.60L212.46,32.90L213.72,36.19L215.97,38.09L216.55,40.08L214.99,41.98L215.58,44.57L218.11,46.57L219.77,48.47L218.79,50.16L215.58,50.16L213.72,49.16L212.46,51.06L211.38,50.96L210.21,50.46L209.92,47.17L208.95,43.68L206.70,42.68L204.85,40.68L204.17,38.09Z" fill="#b0bd97" stroke="#b0bd97" stroke-width="0.6" stroke-linejoin="round"/><ellipse cx="213.04" cy="44.47" rx="2.24" ry="2.59" fill="#8fb08c"/>
<g filter="url(#sp22)"><path d="M226.11,47.97L228.54,46.47L232.35,45.07L235.17,43.58L238.49,44.07L240.44,46.47L240.44,48.96L226.59,48.96Z" fill="#a3aa7f" stroke="#a3aa7f" stroke-width="0.6" stroke-linejoin="round"/><path d="M182.82,49.96L184.18,50.46L184.67,54.25L186.52,60.04L186.13,60.94L184.67,57.15L183.30,55.25L182.33,52.36Z" fill="#a3aa7f" stroke="#a3aa7f" stroke-width="0.6" stroke-linejoin="round"/><path d="M193.15,51.36L195.98,50.46L197.83,52.36L198.03,55.65L199.88,57.65L202.02,60.04L201.54,61.44L198.90,59.84L196.95,58.84L195.00,57.15L193.15,54.25Z" fill="#a3aa7f" stroke="#a3aa7f" stroke-width="0.6" stroke-linejoin="round"/></g>
<g filter="url(#sp26)"><path d="M220.84,57.85L223.28,57.25L226.20,57.65L226.89,59.84L226.20,62.44L223.28,62.64L220.84,61.84L220.26,59.84Z" fill="#97a67d" stroke="#97a67d" stroke-width="0.6" stroke-linejoin="round"/><path d="M239.85,67.13L237.81,69.92L236.83,73.81L236.93,78.41L238.88,81.40L241.80,83.10" fill="none" stroke="#97a67d" stroke-width="1.70" stroke-linecap="round" stroke-linejoin="round"/></g>
<g filter="url(#sp33)"><path d="M162.63,58.15L164.97,56.15L167.80,54.75L170.63,55.25L170.63,60.04L171.12,67.73L168.78,68.23L165.95,66.73L164.97,63.83L164.10,60.94Z" fill="#819d78" stroke="#819d78" stroke-width="0.6" stroke-linejoin="round"/><ellipse cx="173.46" cy="57.15" rx="0.59" ry="0.60" fill="#819d78"/><ellipse cx="177.65" cy="62.94" rx="0.59" ry="0.60" fill="#819d78"/><path d="M231.47,97.97L233.42,98.27L234.10,100.96L232.83,103.66L230.20,105.65L227.57,107.75L226.20,108.05L227.18,106.35L229.52,104.35L231.18,101.96L230.79,99.66Z" fill="#819d78" stroke="#819d78" stroke-width="0.6" stroke-linejoin="round"/></g>
<g filter="url(#sp14)"><path d="M181.35,70.62L182.91,71.72L183.40,74.01L182.43,77.81L180.38,82.10L178.14,86.19L175.89,88.68L173.75,87.59L172.58,84.19L173.26,80.30L175.41,77.21L178.14,75.01L180.38,72.92Z" fill="#bcb182" stroke="#bcb182" stroke-width="0.6" stroke-linejoin="round"/><path d="M187.59,94.07L192.27,92.38L195.49,95.67L198.61,98.86L197.83,102.86L192.27,105.35L188.37,104.55L186.03,100.46L186.81,96.47Z" fill="#bcb182" stroke="#bcb182" stroke-width="0.6" stroke-linejoin="round"/></g>
<g filter="url(#sp46)"><path d="M168.78,98.37L170.14,99.76L171.90,102.66L172.97,105.55L172.29,107.65L170.14,108.35L168.09,106.95L164.58,106.55L162.44,105.85L163.22,104.75L165.95,104.05L167.41,101.96L168.09,99.76Z" fill="#5b8766" stroke="#5b8766" stroke-width="0.6" stroke-linejoin="round"/><path d="M204.85,34.89L206.70,32.30L209.92,31.60L212.46,32.90L213.72,36.19L215.97,38.09L216.55,40.08L214.99,41.98L215.58,44.57L218.11,46.57L219.77,48.47L218.79,50.16L215.58,50.16L213.72,49.16L212.46,51.06L211.38,50.96L210.21,50.46L209.92,47.17L208.95,43.68L206.70,42.68L204.85,40.68L204.17,38.09Z" fill="#5b8766" stroke="#5b8766" stroke-width="0.6" stroke-linejoin="round"/></g>
<g filter="url(#sp42)"><path d="M183.60,121.42L186.03,119.82L189.93,122.22L192.57,121.82L192.76,126.91L188.37,126.31L185.25,126.31L183.60,124.71Z" fill="#688f6c" stroke="#688f6c" stroke-width="0.6" stroke-linejoin="round"/><path d="M203.78,75.11L206.22,72.82L208.65,71.42L210.80,70.82L212.65,72.42L213.43,75.11L213.24,77.81L211.58,79.80L208.65,80.60L205.73,80.20" fill="none" stroke="#688f6c" stroke-width="1.40" stroke-linecap="round" stroke-linejoin="round"/></g>
<g filter="url(#sp48)"><path d="M191.79,121.92L195.49,121.42L200.95,120.62L205.73,119.82L206.51,122.22L204.07,126.31L202.51,131.10L200.17,134.39L196.27,135.19L193.83,131.90L192.27,127.11Z" fill="#528061" stroke="#528061" stroke-width="0.6" stroke-linejoin="round"/></g>
<g filter="url(#sp18)"><path d="M226.11,67.93L229.62,68.82L232.54,69.82L235.17,70.92" fill="none" stroke="#b0ad80" stroke-width="1.10" stroke-linecap="round" stroke-linejoin="round"/></g>
<g filter="url(#sp39)"><path d="M214.50,67.03L216.94,70.12L219.38,73.62" fill="none" stroke="#709470" stroke-width="1.40" stroke-linecap="round" stroke-linejoin="round"/><path d="M224.94,109.34L228.25,110.74L230.79,111.44L232.15,113.73L231.47,117.13L229.81,121.12L228.25,125.21L227.18,123.81L225.91,119.82L224.94,115.13L224.25,111.74L222.99,110.04Z" fill="#709470" stroke="#709470" stroke-width="0.6" stroke-linejoin="round"/></g>
<g filter="url(#sp65)"><path d="M219.77,73.91L223.57,74.71L226.50,73.12L228.45,72.42L229.13,73.91L228.06,78.51L226.50,81.60L224.25,82.40L222.01,80.10L219.77,76.61Z" fill="#1a3c3e" stroke="#1a3c3e" stroke-width="0.6" stroke-linejoin="round"/></g>
<g filter="url(#sp50)"><path d="M238.49,64.53L241.41,64.03L243.27,66.03L242.29,68.43L239.95,67.93Z" fill="#3f6f55" stroke="#3f6f55" stroke-width="0.6" stroke-linejoin="round"/><path d="M195.78,77.81L198.03,73.91L201.05,72.82L204.07,73.91L205.44,77.01L204.07,80.10L201.05,80.40L198.03,79.70Z" fill="#3f6f55" stroke="#3f6f55" stroke-width="0.6" stroke-linejoin="round"/><path d="M241.12,84.09L243.27,82.60L246.58,82.60L250.38,84.49L253.31,87.49L253.31,92.38L250.38,95.27L246.58,96.27L242.78,94.27L241.41,90.38L240.73,86.59Z" fill="#4a7a5c" stroke="#4a7a5c" stroke-width="0.6" stroke-linejoin="round"/><path d="M212.46,102.96L213.72,99.66L217.04,97.67L221.04,97.27L223.57,98.96L224.64,100.96L222.99,103.36L222.01,105.05L222.99,108.05L224.94,109.34L221.62,110.34L218.40,110.04L215.09,109.74L213.14,107.75L212.16,105.05Z" fill="#4a7a5c" stroke="#4a7a5c" stroke-width="0.6" stroke-linejoin="round"/><ellipse cx="209.82" cy="111.04" rx="0.68" ry="0.60" fill="#4a7a5c"/><ellipse cx="213.04" cy="44.47" rx="2.24" ry="2.59" fill="#4a7a5c"/></g>
<g filter="url(#sp36)"><path d="M211.48,49.66L211.97,54.95L212.94,58.94L213.92,63.44" fill="none" stroke="#799874" stroke-width="1.30" stroke-linecap="round" stroke-linejoin="round"/></g>
<text x="176.8" y="25.8" font-size="8.3" fill="#231f20" stroke="#231f20" stroke-width="0.22" text-anchor="start" font-weight="normal" textLength="72.5" lengthAdjust="spacingAndGlyphs" >HSC signature score</text>
<rect x="260.1" y="84.8" width="4.3" height="19.1" fill="url(#gsc)"/>
<text x="268.2" y="86.8" font-size="8" fill="#231f20" stroke="#231f20" stroke-width="0.22" text-anchor="start" font-weight="normal" >1.2</text>
<text x="268.2" y="104.4" font-size="8" fill="#231f20" stroke="#231f20" stroke-width="0.22" text-anchor="start" font-weight="normal" >0.0</text>
<path d="M227.61,186.15L230.04,184.67L233.85,183.29L236.67,181.82L239.99,182.31L241.94,184.67L241.94,187.13L228.09,187.13Z" fill="#e4ca92" stroke="#e4ca92" stroke-width="0.6" stroke-linejoin="round"/><path d="M222.34,195.90L224.78,195.31L227.70,195.70L228.39,197.87L227.70,200.43L224.78,200.63L222.34,199.84L221.76,197.87Z" fill="#dfc993" stroke="#dfc993" stroke-width="0.6" stroke-linejoin="round"/><path d="M164.13,196.20L166.47,194.23L169.30,192.85L172.13,193.34L172.13,198.07L172.62,205.65L170.28,206.14L167.45,204.67L166.47,201.81L165.60,198.95Z" fill="#cbc597" stroke="#cbc597" stroke-width="0.6" stroke-linejoin="round"/><ellipse cx="174.96" cy="195.21" rx="0.59" ry="0.59" fill="#cbc597"/><ellipse cx="179.15" cy="200.92" rx="0.59" ry="0.59" fill="#cbc597"/><path d="M184.32,188.12L185.68,188.61L186.17,192.35L188.02,198.07L187.63,198.95L186.17,195.21L184.80,193.34L183.83,190.48Z" fill="#b8c09a" stroke="#b8c09a" stroke-width="0.6" stroke-linejoin="round"/><path d="M194.65,189.50L197.48,188.61L199.33,190.48L199.53,193.73L201.38,195.70L203.52,198.07L203.04,199.45L200.40,197.87L198.45,196.89L196.50,195.21L194.65,192.35Z" fill="#bec299" stroke="#bec299" stroke-width="0.6" stroke-linejoin="round"/><path d="M182.85,208.51L184.41,209.59L184.90,211.86L183.93,215.60L181.88,219.84L179.64,223.87L177.39,226.34L175.25,225.25L174.08,221.90L174.76,218.06L176.91,215.01L179.64,212.84L181.88,210.77Z" fill="#b8c09a" stroke="#b8c09a" stroke-width="0.6" stroke-linejoin="round"/><path d="M170.28,235.89L171.64,237.27L173.40,240.13L174.47,242.98L173.79,245.05L171.64,245.74L169.59,244.36L166.08,243.97L163.94,243.28L164.72,242.20L167.45,241.51L168.91,239.44L169.59,237.27Z" fill="#c5c398" stroke="#c5c398" stroke-width="0.6" stroke-linejoin="round"/><path d="M189.09,231.66L193.77,229.98L196.99,233.23L200.11,236.38L199.33,240.32L193.77,242.79L189.87,242.00L187.53,237.96L188.31,234.02Z" fill="#bec299" stroke="#bec299" stroke-width="0.6" stroke-linejoin="round"/><path d="M185.10,258.65L187.53,257.07L191.43,259.43L194.07,259.04L194.26,264.06L189.87,263.47L186.75,263.47L185.10,261.90Z" fill="#e2ca93" stroke="#e2ca93" stroke-width="0.6" stroke-linejoin="round"/><path d="M193.29,259.14L196.99,258.65L202.45,257.86L207.23,257.07L208.01,259.43L205.57,263.47L204.01,268.20L201.67,271.45L197.77,272.24L195.33,268.99L193.77,264.26Z" fill="#e2ca93" stroke="#e2ca93" stroke-width="0.6" stroke-linejoin="round"/><path d="M227.61,205.85L231.12,206.74L234.04,207.72L236.67,208.80" fill="none" stroke="#26304e" stroke-width="1.10" stroke-linecap="round" stroke-linejoin="round"/><path d="M216.00,204.96L218.44,208.02L220.88,211.46" fill="none" stroke="#e4ca92" stroke-width="1.40" stroke-linecap="round" stroke-linejoin="round"/><path d="M221.27,211.76L225.07,212.55L228.00,210.97L229.95,210.28L230.63,211.76L229.56,216.29L228.00,219.34L225.75,220.13L223.51,217.87L221.27,214.42Z" fill="#e4ca92" stroke="#e4ca92" stroke-width="0.6" stroke-linejoin="round"/><path d="M241.35,205.06L239.31,207.82L238.33,211.66L238.43,216.19L240.38,219.15L243.30,220.82" fill="none" stroke="#e4ca92" stroke-width="1.70" stroke-linecap="round" stroke-linejoin="round"/><path d="M239.99,202.50L242.91,202.01L244.77,203.98L243.79,206.34L241.45,205.85Z" fill="#e4ca92" stroke="#e4ca92" stroke-width="0.6" stroke-linejoin="round"/><path d="M242.62,221.81L244.77,220.33L248.08,220.33L251.88,222.20L254.81,225.16L254.81,229.98L251.88,232.84L248.08,233.82L244.28,231.85L242.91,228.01L242.23,224.27Z" fill="#e2ca93" stroke="#e2ca93" stroke-width="0.6" stroke-linejoin="round"/><path d="M213.96,240.42L215.22,237.17L218.54,235.20L222.54,234.81L225.07,236.48L226.14,238.45L224.49,240.82L223.51,242.49L224.49,245.45L226.44,246.73L223.12,247.71L219.90,247.42L216.59,247.12L214.64,245.15L213.66,242.49Z" fill="#e2ca93" stroke="#e2ca93" stroke-width="0.6" stroke-linejoin="round"/><ellipse cx="211.32" cy="248.40" rx="0.68" ry="0.59" fill="#e2ca93"/><path d="M226.44,246.73L229.75,248.11L232.29,248.80L233.65,251.06L232.97,254.41L231.31,258.35L229.75,262.39L228.68,261.01L227.41,257.07L226.44,252.44L225.75,249.09L224.49,247.42Z" fill="#e4ca92" stroke="#e4ca92" stroke-width="0.6" stroke-linejoin="round"/><path d="M232.97,235.50L234.92,235.79L235.60,238.45L234.33,241.11L231.70,243.08L229.07,245.15L227.70,245.45L228.68,243.77L231.02,241.80L232.68,239.44L232.29,237.17Z" fill="#dac894" stroke="#dac894" stroke-width="0.6" stroke-linejoin="round"/><path d="M197.28,215.60L199.53,211.76L202.55,210.68L205.57,211.76L206.94,214.81L205.57,217.87L202.55,218.16L199.53,217.47Z" fill="#d2c696" stroke="#d2c696" stroke-width="0.6" stroke-linejoin="round"/><path d="M205.28,212.94L207.72,210.68L210.15,209.30L212.30,208.71L214.15,210.28L214.93,212.94L214.74,215.60L213.08,217.57L210.15,218.36L207.23,217.96" fill="none" stroke="#dac894" stroke-width="1.40" stroke-linecap="round" stroke-linejoin="round"/><path d="M212.98,187.82L213.47,193.04L214.44,196.98L215.42,201.42" fill="none" stroke="#e4ca92" stroke-width="1.30" stroke-linecap="round" stroke-linejoin="round"/><path d="M206.35,173.25L208.20,170.69L211.42,170.00L213.96,171.28L215.22,174.53L217.47,176.40L218.05,178.37L216.49,180.24L217.08,182.80L219.61,184.77L221.27,186.64L220.29,188.32L217.08,188.32L215.22,187.33L213.96,189.20L212.88,189.10L211.71,188.61L211.42,185.36L210.45,181.91L208.20,180.93L206.35,178.96L205.67,176.40Z" fill="#e2ca93" stroke="#e2ca93" stroke-width="0.6" stroke-linejoin="round"/><ellipse cx="214.54" cy="182.70" rx="2.24" ry="2.56" fill="#e4ca92"/>
<g filter="url(#sp10)"><path d="M227.61,186.15L230.04,184.67L233.85,183.29L236.67,181.82L239.99,182.31L241.94,184.67L241.94,187.13L228.09,187.13Z" fill="#c9b583" stroke="#c9b583" stroke-width="0.6" stroke-linejoin="round"/><path d="M216.00,204.96L218.44,208.02L220.88,211.46" fill="none" stroke="#c9b583" stroke-width="1.40" stroke-linecap="round" stroke-linejoin="round"/><path d="M221.27,211.76L225.07,212.55L228.00,210.97L229.95,210.28L230.63,211.76L229.56,216.29L228.00,219.34L225.75,220.13L223.51,217.87L221.27,214.42Z" fill="#c9b583" stroke="#c9b583" stroke-width="0.6" stroke-linejoin="round"/><path d="M241.35,205.06L239.31,207.82L238.33,211.66L238.43,216.19L240.38,219.15L243.30,220.82" fill="none" stroke="#c9b583" stroke-width="1.70" stroke-linecap="round" stroke-linejoin="round"/><path d="M239.99,202.50L242.91,202.01L244.77,203.98L243.79,206.34L241.45,205.85Z" fill="#c9b583" stroke="#c9b583" stroke-width="0.6" stroke-linejoin="round"/><path d="M226.44,246.73L229.75,248.11L232.29,248.80L233.65,251.06L232.97,254.41L231.31,258.35L229.75,262.39L228.68,261.01L227.41,257.07L226.44,252.44L225.75,249.09L224.49,247.42Z" fill="#c9b583" stroke="#c9b583" stroke-width="0.6" stroke-linejoin="round"/><path d="M212.98,187.82L213.47,193.04L214.44,196.98L215.42,201.42" fill="none" stroke="#c9b583" stroke-width="1.30" stroke-linecap="round" stroke-linejoin="round"/><ellipse cx="214.54" cy="182.70" rx="2.24" ry="2.56" fill="#c9b583"/></g>
<g filter="url(#sp18)"><path d="M222.34,195.90L224.78,195.31L227.70,195.70L228.39,197.87L227.70,200.43L224.78,200.63L222.34,199.84L221.76,197.87Z" fill="#b0ad80" stroke="#b0ad80" stroke-width="0.6" stroke-linejoin="round"/></g>
<g filter="url(#sp36)"><path d="M164.13,196.20L166.47,194.23L169.30,192.85L172.13,193.34L172.13,198.07L172.62,205.65L170.28,206.14L167.45,204.67L166.47,201.81L165.60,198.95Z" fill="#799874" stroke="#799874" stroke-width="0.6" stroke-linejoin="round"/><ellipse cx="174.96" cy="195.21" rx="0.59" ry="0.59" fill="#799874"/><ellipse cx="179.15" cy="200.92" rx="0.59" ry="0.59" fill="#799874"/></g>
<g filter="url(#sp45)"><path d="M184.32,188.12L185.68,188.61L186.17,192.35L188.02,198.07L187.63,198.95L186.17,195.21L184.80,193.34L183.83,190.48Z" fill="#5f8a68" stroke="#5f8a68" stroke-width="0.6" stroke-linejoin="round"/><path d="M182.85,208.51L184.41,209.59L184.90,211.86L183.93,215.60L181.88,219.84L179.64,223.87L177.39,226.34L175.25,225.25L174.08,221.90L174.76,218.06L176.91,215.01L179.64,212.84L181.88,210.77Z" fill="#5f8a68" stroke="#5f8a68" stroke-width="0.6" stroke-linejoin="round"/></g>
<g filter="url(#sp42)"><path d="M194.65,189.50L197.48,188.61L199.33,190.48L199.53,193.73L201.38,195.70L203.52,198.07L203.04,199.45L200.40,197.87L198.45,196.89L196.50,195.21L194.65,192.35Z" fill="#688f6c" stroke="#688f6c" stroke-width="0.6" stroke-linejoin="round"/><path d="M189.09,231.66L193.77,229.98L196.99,233.23L200.11,236.38L199.33,240.32L193.77,242.79L189.87,242.00L187.53,237.96L188.31,234.02Z" fill="#688f6c" stroke="#688f6c" stroke-width="0.6" stroke-linejoin="round"/></g>
<g filter="url(#sp39)"><path d="M170.28,235.89L171.64,237.27L173.40,240.13L174.47,242.98L173.79,245.05L171.64,245.74L169.59,244.36L166.08,243.97L163.94,243.28L164.72,242.20L167.45,241.51L168.91,239.44L169.59,237.27Z" fill="#709470" stroke="#709470" stroke-width="0.6" stroke-linejoin="round"/></g>
<g filter="url(#sp14)"><path d="M185.10,258.65L187.53,257.07L191.43,259.43L194.07,259.04L194.26,264.06L189.87,263.47L186.75,263.47L185.10,261.90Z" fill="#bcb182" stroke="#bcb182" stroke-width="0.6" stroke-linejoin="round"/><path d="M193.29,259.14L196.99,258.65L202.45,257.86L207.23,257.07L208.01,259.43L205.57,263.47L204.01,268.20L201.67,271.45L197.77,272.24L195.33,268.99L193.77,264.26Z" fill="#bcb182" stroke="#bcb182" stroke-width="0.6" stroke-linejoin="round"/><path d="M242.62,221.81L244.77,220.33L248.08,220.33L251.88,222.20L254.81,225.16L254.81,229.98L251.88,232.84L248.08,233.82L244.28,231.85L242.91,228.01L242.23,224.27Z" fill="#bcb182" stroke="#bcb182" stroke-width="0.6" stroke-linejoin="round"/><path d="M213.96,240.42L215.22,237.17L218.54,235.20L222.54,234.81L225.07,236.48L226.14,238.45L224.49,240.82L223.51,242.49L224.49,245.45L226.44,246.73L223.12,247.71L219.90,247.42L216.59,247.12L214.64,245.15L213.66,242.49Z" fill="#bcb182" stroke="#bcb182" stroke-width="0.6" stroke-linejoin="round"/><ellipse cx="211.32" cy="248.40" rx="0.68" ry="0.59" fill="#bcb182"/><path d="M206.35,173.25L208.20,170.69L211.42,170.00L213.96,171.28L215.22,174.53L217.47,176.40L218.05,178.37L216.49,180.24L217.08,182.80L219.61,184.77L221.27,186.64L220.29,188.32L217.08,188.32L215.22,187.33L213.96,189.20L212.88,189.10L211.71,188.61L211.42,185.36L210.45,181.91L208.20,180.93L206.35,178.96L205.67,176.40Z" fill="#bcb182" stroke="#bcb182" stroke-width="0.6" stroke-linejoin="round"/></g>
<g filter="url(#sp26)"><path d="M232.97,235.50L234.92,235.79L235.60,238.45L234.33,241.11L231.70,243.08L229.07,245.15L227.70,245.45L228.68,243.77L231.02,241.80L232.68,239.44L232.29,237.17Z" fill="#97a67d" stroke="#97a67d" stroke-width="0.6" stroke-linejoin="round"/><path d="M205.28,212.94L207.72,210.68L210.15,209.30L212.30,208.71L214.15,210.28L214.93,212.94L214.74,215.60L213.08,217.57L210.15,218.36L207.23,217.96" fill="none" stroke="#97a67d" stroke-width="1.40" stroke-linecap="round" stroke-linejoin="round"/></g>
<g filter="url(#sp33)"><path d="M197.28,215.60L199.53,211.76L202.55,210.68L205.57,211.76L206.94,214.81L205.57,217.87L202.55,218.16L199.53,217.47Z" fill="#819d78" stroke="#819d78" stroke-width="0.6" stroke-linejoin="round"/></g>
<text x="166.9" y="164.4" font-size="8.3" fill="#231f20" stroke="#231f20" stroke-width="0.22" text-anchor="start" font-weight="normal" textLength="92.7" lengthAdjust="spacingAndGlyphs" >Monocyte signature score</text>
<rect x="261.8" y="221" width="4.3" height="19.1" fill="url(#gsc)"/>
<text x="269.9" y="222.6" font-size="8" fill="#231f20" stroke="#231f20" stroke-width="0.22" text-anchor="start" font-weight="normal" >2</text>
<text x="269.9" y="240.1" font-size="8" fill="#231f20" stroke="#231f20" stroke-width="0.22" text-anchor="start" font-weight="normal" >0</text>
<path d="M226.11,323.00L228.54,321.50L232.35,320.10L235.17,318.60L238.49,319.10L240.44,321.50L240.44,324.00L226.59,324.00Z" fill="#8fb08c" stroke="#8fb08c" stroke-width="0.6" stroke-linejoin="round"/><path d="M220.84,332.90L223.28,332.30L226.20,332.70L226.89,334.90L226.20,337.50L223.28,337.70L220.84,336.90L220.26,334.90Z" fill="#58806a" stroke="#58806a" stroke-width="0.6" stroke-linejoin="round"/><path d="M162.63,333.20L164.97,331.20L167.80,329.80L170.63,330.30L170.63,335.10L171.12,342.80L168.78,343.30L165.95,341.80L164.97,338.90L164.10,336.00Z" fill="#ddc994" stroke="#ddc994" stroke-width="0.6" stroke-linejoin="round"/><ellipse cx="173.46" cy="332.20" rx="0.59" ry="0.60" fill="#ddc994"/><ellipse cx="177.65" cy="338.00" rx="0.59" ry="0.60" fill="#ddc994"/><path d="M182.82,325.00L184.18,325.50L184.67,329.30L186.52,335.10L186.13,336.00L184.67,332.20L183.30,330.30L182.33,327.40Z" fill="#d2c696" stroke="#d2c696" stroke-width="0.6" stroke-linejoin="round"/><path d="M193.15,326.40L195.98,325.50L197.83,327.40L198.03,330.70L199.88,332.70L202.02,335.10L201.54,336.50L198.90,334.90L196.95,333.90L195.00,332.20L193.15,329.30Z" fill="#b0bd97" stroke="#b0bd97" stroke-width="0.6" stroke-linejoin="round"/><path d="M181.35,345.70L182.91,346.80L183.40,349.10L182.43,352.90L180.38,357.20L178.14,361.30L175.89,363.80L173.75,362.70L172.58,359.30L173.26,355.40L175.41,352.30L178.14,350.10L180.38,348.00Z" fill="#82a782" stroke="#82a782" stroke-width="0.6" stroke-linejoin="round"/><path d="M168.78,373.50L170.14,374.90L171.90,377.80L172.97,380.70L172.29,382.80L170.14,383.50L168.09,382.10L164.58,381.70L162.44,381.00L163.22,379.90L165.95,379.20L167.41,377.10L168.09,374.90Z" fill="#8fb08c" stroke="#8fb08c" stroke-width="0.6" stroke-linejoin="round"/><path d="M187.59,369.20L192.27,367.50L195.49,370.80L198.61,374.00L197.83,378.00L192.27,380.50L188.37,379.70L186.03,375.60L186.81,371.60Z" fill="#8fb08c" stroke="#8fb08c" stroke-width="0.6" stroke-linejoin="round"/><path d="M183.60,396.60L186.03,395.00L189.93,397.40L192.57,397.00L192.76,402.10L188.37,401.50L185.25,401.50L183.60,399.90Z" fill="#9fb692" stroke="#9fb692" stroke-width="0.6" stroke-linejoin="round"/><path d="M191.79,397.10L195.49,396.60L200.95,395.80L205.73,395.00L206.51,397.40L204.07,401.50L202.51,406.30L200.17,409.60L196.27,410.40L193.83,407.10L192.27,402.30Z" fill="#d2c696" stroke="#d2c696" stroke-width="0.6" stroke-linejoin="round"/><path d="M226.11,343.00L229.62,343.90L232.54,344.90L235.17,346.00" fill="none" stroke="#b8c09a" stroke-width="1.10" stroke-linecap="round" stroke-linejoin="round"/><path d="M214.50,342.10L216.94,345.20L219.38,348.70" fill="none" stroke="#a8ba94" stroke-width="1.40" stroke-linecap="round" stroke-linejoin="round"/><path d="M219.77,349.00L223.57,349.80L226.50,348.20L228.45,347.50L229.13,349.00L228.06,353.60L226.50,356.70L224.25,357.50L222.01,355.20L219.77,351.70Z" fill="#c5c398" stroke="#c5c398" stroke-width="0.6" stroke-linejoin="round"/><path d="M239.85,342.20L237.81,345.00L236.83,348.90L236.93,353.50L238.88,356.50L241.80,358.20" fill="none" stroke="#e2ca93" stroke-width="1.70" stroke-linecap="round" stroke-linejoin="round"/><path d="M238.49,339.60L241.41,339.10L243.27,341.10L242.29,343.50L239.95,343.00Z" fill="#e2ca93" stroke="#e2ca93" stroke-width="0.6" stroke-linejoin="round"/><path d="M241.12,359.20L243.27,357.70L246.58,357.70L250.38,359.60L253.31,362.60L253.31,367.50L250.38,370.40L246.58,371.40L242.78,369.40L241.41,365.50L240.73,361.70Z" fill="#dec993" stroke="#dec993" stroke-width="0.6" stroke-linejoin="round"/><path d="M212.46,378.10L213.72,374.80L217.04,372.80L221.04,372.40L223.57,374.10L224.64,376.10L222.99,378.50L222.01,380.20L222.99,383.20L224.94,384.50L221.62,385.50L218.40,385.20L215.09,384.90L213.14,382.90L212.16,380.20Z" fill="#cbc597" stroke="#cbc597" stroke-width="0.6" stroke-linejoin="round"/><ellipse cx="209.82" cy="386.20" rx="0.68" ry="0.60" fill="#cbc597"/><path d="M224.94,384.50L228.25,385.90L230.79,386.60L232.15,388.90L231.47,392.30L229.81,396.30L228.25,400.40L227.18,399.00L225.91,395.00L224.94,390.30L224.25,386.90L222.99,385.20Z" fill="#dac894" stroke="#dac894" stroke-width="0.6" stroke-linejoin="round"/><path d="M231.47,373.10L233.42,373.40L234.10,376.10L232.83,378.80L230.20,380.80L227.57,382.90L226.20,383.20L227.18,381.50L229.52,379.50L231.18,377.10L230.79,374.80Z" fill="#d2c696" stroke="#d2c696" stroke-width="0.6" stroke-linejoin="round"/><path d="M195.78,352.90L198.03,349.00L201.05,347.90L204.07,349.00L205.44,352.10L204.07,355.20L201.05,355.50L198.03,354.80Z" fill="#7ba37e" stroke="#7ba37e" stroke-width="0.6" stroke-linejoin="round"/><path d="M203.78,350.20L206.22,347.90L208.65,346.50L210.80,345.90L212.65,347.50L213.43,350.20L213.24,352.90L211.58,354.90L208.65,355.70L205.73,355.30" fill="none" stroke="#82a782" stroke-width="1.40" stroke-linecap="round" stroke-linejoin="round"/><path d="M211.48,324.70L211.97,330.00L212.94,334.00L213.92,338.50" fill="none" stroke="#b8c09a" stroke-width="1.30" stroke-linecap="round" stroke-linejoin="round"/><path d="M204.85,309.90L206.70,307.30L209.92,306.60L212.46,307.90L213.72,311.20L215.97,313.10L216.55,315.10L214.99,317.00L215.58,319.60L218.11,321.60L219.77,323.50L218.79,325.20L215.58,325.20L213.72,324.20L212.46,326.10L211.38,326.00L210.21,325.50L209.92,322.20L208.95,318.70L206.70,317.70L204.85,315.70L204.17,313.10Z" fill="#b0bd97" stroke="#b0bd97" stroke-width="0.6" stroke-linejoin="round"/><ellipse cx="213.04" cy="319.50" rx="2.24" ry="2.60" fill="#a8ba94"/>
<g filter="url(#sp50)"><path d="M226.11,323.00L228.54,321.50L232.35,320.10L235.17,318.60L238.49,319.10L240.44,321.50L240.44,324.00L226.59,324.00Z" fill="#4a7a5c" stroke="#4a7a5c" stroke-width="0.6" stroke-linejoin="round"/><path d="M168.78,373.50L170.14,374.90L171.90,377.80L172.97,380.70L172.29,382.80L170.14,383.50L168.09,382.10L164.58,381.70L162.44,381.00L163.22,379.90L165.95,379.20L167.41,377.10L168.09,374.90Z" fill="#4a7a5c" stroke="#4a7a5c" stroke-width="0.6" stroke-linejoin="round"/><path d="M187.59,369.20L192.27,367.50L195.49,370.80L198.61,374.00L197.83,378.00L192.27,380.50L188.37,379.70L186.03,375.60L186.81,371.60Z" fill="#4a7a5c" stroke="#4a7a5c" stroke-width="0.6" stroke-linejoin="round"/><path d="M181.35,345.70L182.91,346.80L183.40,349.10L182.43,352.90L180.38,357.20L178.14,361.30L175.89,363.80L173.75,362.70L172.58,359.30L173.26,355.40L175.41,352.30L178.14,350.10L180.38,348.00Z" fill="#3f6f55" stroke="#3f6f55" stroke-width="0.6" stroke-linejoin="round"/><path d="M203.78,350.20L206.22,347.90L208.65,346.50L210.80,345.90L212.65,347.50L213.43,350.20L213.24,352.90L211.58,354.90L208.65,355.70L205.73,355.30" fill="none" stroke="#3f6f55" stroke-width="1.40" stroke-linecap="round" stroke-linejoin="round"/><path d="M195.78,352.90L198.03,349.00L201.05,347.90L204.07,349.00L205.44,352.10L204.07,355.20L201.05,355.50L198.03,354.80Z" fill="#3a6951" stroke="#3a6951" stroke-width="0.6" stroke-linejoin="round"/></g>
<g filter="url(#sp65)"><path d="M220.84,332.90L223.28,332.30L226.20,332.70L226.89,334.90L226.20,337.50L223.28,337.70L220.84,336.90L220.26,334.90Z" fill="#1a3c3e" stroke="#1a3c3e" stroke-width="0.6" stroke-linejoin="round"/></g>
<g filter="url(#sp22)"><path d="M162.63,333.20L164.97,331.20L167.80,329.80L170.63,330.30L170.63,335.10L171.12,342.80L168.78,343.30L165.95,341.80L164.97,338.90L164.10,336.00Z" fill="#a3aa7f" stroke="#a3aa7f" stroke-width="0.6" stroke-linejoin="round"/><ellipse cx="173.46" cy="332.20" rx="0.59" ry="0.60" fill="#a3aa7f"/><ellipse cx="177.65" cy="338.00" rx="0.59" ry="0.60" fill="#a3aa7f"/></g>
<g filter="url(#sp33)"><path d="M182.82,325.00L184.18,325.50L184.67,329.30L186.52,335.10L186.13,336.00L184.67,332.20L183.30,330.30L182.33,327.40Z" fill="#819d78" stroke="#819d78" stroke-width="0.6" stroke-linejoin="round"/><path d="M191.79,397.10L195.49,396.60L200.95,395.80L205.73,395.00L206.51,397.40L204.07,401.50L202.51,406.30L200.17,409.60L196.27,410.40L193.83,407.10L192.27,402.30Z" fill="#819d78" stroke="#819d78" stroke-width="0.6" stroke-linejoin="round"/><path d="M231.47,373.10L233.42,373.40L234.10,376.10L232.83,378.80L230.20,380.80L227.57,382.90L226.20,383.20L227.18,381.50L229.52,379.50L231.18,377.10L230.79,374.80Z" fill="#819d78" stroke="#819d78" stroke-width="0.6" stroke-linejoin="round"/></g>
<g filter="url(#sp46)"><path d="M193.15,326.40L195.98,325.50L197.83,327.40L198.03,330.70L199.88,332.70L202.02,335.10L201.54,336.50L198.90,334.90L196.95,333.90L195.00,332.20L193.15,329.30Z" fill="#5b8766" stroke="#5b8766" stroke-width="0.6" stroke-linejoin="round"/><path d="M204.85,309.90L206.70,307.30L209.92,306.60L212.46,307.90L213.72,311.20L215.97,313.10L216.55,315.10L214.99,317.00L215.58,319.60L218.11,321.60L219.77,323.50L218.79,325.20L215.58,325.20L213.72,324.20L212.46,326.10L211.38,326.00L210.21,325.50L209.92,322.20L208.95,318.70L206.70,317.70L204.85,315.70L204.17,313.10Z" fill="#5b8766" stroke="#5b8766" stroke-width="0.6" stroke-linejoin="round"/></g>
<g filter="url(#sp48)"><path d="M183.60,396.60L186.03,395.00L189.93,397.40L192.57,397.00L192.76,402.10L188.37,401.50L185.25,401.50L183.60,399.90Z" fill="#528061" stroke="#528061" stroke-width="0.6" stroke-linejoin="round"/></g>
<g filter="url(#sp45)"><path d="M226.11,343.00L229.62,343.90L232.54,344.90L235.17,346.00" fill="none" stroke="#5f8a68" stroke-width="1.10" stroke-linecap="round" stroke-linejoin="round"/><path d="M211.48,324.70L211.97,330.00L212.94,334.00L213.92,338.50" fill="none" stroke="#5f8a68" stroke-width="1.30" stroke-linecap="round" stroke-linejoin="round"/></g>
<g filter="url(#sp47)"><path d="M214.50,342.10L216.94,345.20L219.38,348.70" fill="none" stroke="#578463" stroke-width="1.40" stroke-linecap="round" stroke-linejoin="round"/><ellipse cx="213.04" cy="319.50" rx="2.24" ry="2.60" fill="#578463"/></g>
<g filter="url(#sp39)"><path d="M219.77,349.00L223.57,349.80L226.50,348.20L228.45,347.50L229.13,349.00L228.06,353.60L226.50,356.70L224.25,357.50L222.01,355.20L219.77,351.70Z" fill="#709470" stroke="#709470" stroke-width="0.6" stroke-linejoin="round"/></g>
<g filter="url(#sp14)"><path d="M239.85,342.20L237.81,345.00L236.83,348.90L236.93,353.50L238.88,356.50L241.80,358.20" fill="none" stroke="#bcb182" stroke-width="1.70" stroke-linecap="round" stroke-linejoin="round"/><path d="M238.49,339.60L241.41,339.10L243.27,341.10L242.29,343.50L239.95,343.00Z" fill="#bcb182" stroke="#bcb182" stroke-width="0.6" stroke-linejoin="round"/></g>
<g filter="url(#sp20)"><path d="M241.12,359.20L243.27,357.70L246.58,357.70L250.38,359.60L253.31,362.60L253.31,367.50L250.38,370.40L246.58,371.40L242.78,369.40L241.41,365.50L240.73,361.70Z" fill="#abac80" stroke="#abac80" stroke-width="0.6" stroke-linejoin="round"/></g>
<g filter="url(#sp36)"><path d="M212.46,378.10L213.72,374.80L217.04,372.80L221.04,372.40L223.57,374.10L224.64,376.10L222.99,378.50L222.01,380.20L222.99,383.20L224.94,384.50L221.62,385.50L218.40,385.20L215.09,384.90L213.14,382.90L212.16,380.20Z" fill="#799874" stroke="#799874" stroke-width="0.6" stroke-linejoin="round"/><ellipse cx="209.82" cy="386.20" rx="0.68" ry="0.60" fill="#799874"/></g>
<g filter="url(#sp26)"><path d="M224.94,384.50L228.25,385.90L230.79,386.60L232.15,388.90L231.47,392.30L229.81,396.30L228.25,400.40L227.18,399.00L225.91,395.00L224.94,390.30L224.25,386.90L222.99,385.20Z" fill="#97a67d" stroke="#97a67d" stroke-width="0.6" stroke-linejoin="round"/></g>
<text x="176.9" y="301.3" font-size="8.3" fill="#231f20" stroke="#231f20" stroke-width="0.22" text-anchor="start" font-weight="normal" textLength="72.7" lengthAdjust="spacingAndGlyphs" >MECOM gene score</text>
<rect x="260.1" y="354.6" width="4.3" height="20.5" fill="url(#gsc)"/>
<text x="268.2" y="356.6" font-size="8" fill="#231f20" stroke="#231f20" stroke-width="0.22" text-anchor="start" font-weight="normal" >0.3</text>
<text x="268.2" y="375.1" font-size="8" fill="#231f20" stroke="#231f20" stroke-width="0.22" text-anchor="start" font-weight="normal" >0.0</text>
<defs><linearGradient id="cl1" x1="0" y1="44" x2="0" y2="117" gradientUnits="userSpaceOnUse"><stop offset="0.000" stop-color="#606060" stop-opacity="0.05"/><stop offset="0.151" stop-color="#606060" stop-opacity="0.18"/><stop offset="0.329" stop-color="#606060" stop-opacity="0.3"/><stop offset="0.425" stop-color="#606060" stop-opacity="0.55"/><stop offset="0.562" stop-color="#606060" stop-opacity="0.7"/><stop offset="0.877" stop-color="#606060" stop-opacity="0.7"/><stop offset="0.945" stop-color="#606060" stop-opacity="0.45"/><stop offset="1.000" stop-color="#606060" stop-opacity="0.05"/></linearGradient></defs>
<rect x="341.1" y="44" width="21.0" height="73" fill="url(#cl1)"/>
<g fill="#8a8a8a" fill-opacity="0.55"><circle cx="354.3" cy="57.5" r="0.45"/><circle cx="347.5" cy="101.9" r="0.45"/><circle cx="361.7" cy="94.6" r="0.45"/><circle cx="342.4" cy="45.1" r="0.45"/><circle cx="341.7" cy="57.9" r="0.45"/><circle cx="342.6" cy="60.8" r="0.45"/><circle cx="360.2" cy="44.0" r="0.45"/><circle cx="354.3" cy="73.0" r="0.45"/><circle cx="361.3" cy="50.4" r="0.45"/><circle cx="346.3" cy="99.3" r="0.45"/><circle cx="357.8" cy="51.4" r="0.45"/><circle cx="350.5" cy="57.0" r="0.45"/><circle cx="343.5" cy="53.6" r="0.45"/><circle cx="361.9" cy="90.9" r="0.45"/><circle cx="357.3" cy="59.6" r="0.45"/><circle cx="342.6" cy="68.0" r="0.45"/><circle cx="346.2" cy="50.6" r="0.45"/><circle cx="361.3" cy="51.6" r="0.45"/><circle cx="352.8" cy="49.0" r="0.45"/><circle cx="346.8" cy="58.9" r="0.45"/><circle cx="344.8" cy="76.5" r="0.45"/><circle cx="359.8" cy="53.6" r="0.45"/><circle cx="341.5" cy="54.2" r="0.45"/><circle cx="354.5" cy="114.3" r="0.45"/><circle cx="356.6" cy="49.5" r="0.45"/><circle cx="354.5" cy="88.4" r="0.45"/><circle cx="351.2" cy="46.2" r="0.45"/><circle cx="355.3" cy="44.8" r="0.45"/><circle cx="360.1" cy="58.8" r="0.45"/><circle cx="351.5" cy="67.1" r="0.45"/><circle cx="350.6" cy="64.2" r="0.45"/><circle cx="349.8" cy="64.1" r="0.45"/><circle cx="342.7" cy="115.7" r="0.45"/><circle cx="344.0" cy="101.8" r="0.45"/><circle cx="358.5" cy="77.2" r="0.45"/><circle cx="342.1" cy="61.3" r="0.45"/><circle cx="356.1" cy="44.8" r="0.45"/><circle cx="348.4" cy="57.1" r="0.45"/><circle cx="360.7" cy="110.2" r="0.45"/><circle cx="350.6" cy="96.7" r="0.45"/><circle cx="352.7" cy="50.0" r="0.45"/><circle cx="357.6" cy="56.6" r="0.45"/><circle cx="351.9" cy="54.3" r="0.45"/><circle cx="352.2" cy="50.3" r="0.45"/><circle cx="358.9" cy="66.8" r="0.45"/><circle cx="351.7" cy="58.7" r="0.45"/><circle cx="361.5" cy="88.2" r="0.45"/><circle cx="349.8" cy="48.8" r="0.45"/><circle cx="343.8" cy="63.7" r="0.45"/><circle cx="354.1" cy="67.2" r="0.45"/><circle cx="357.5" cy="111.5" r="0.45"/><circle cx="345.9" cy="45.7" r="0.45"/><circle cx="346.4" cy="53.0" r="0.45"/><circle cx="350.3" cy="58.4" r="0.45"/><circle cx="354.5" cy="58.9" r="0.45"/><circle cx="360.5" cy="67.1" r="0.45"/><circle cx="346.1" cy="108.8" r="0.45"/><circle cx="355.5" cy="53.2" r="0.45"/><circle cx="355.4" cy="45.3" r="0.45"/><circle cx="357.0" cy="52.4" r="0.45"/><circle cx="343.3" cy="57.8" r="0.45"/><circle cx="351.9" cy="46.7" r="0.45"/><circle cx="345.0" cy="85.5" r="0.45"/><circle cx="361.1" cy="51.0" r="0.45"/><circle cx="351.9" cy="67.9" r="0.45"/><circle cx="341.4" cy="56.1" r="0.45"/><circle cx="348.3" cy="96.8" r="0.45"/><circle cx="348.6" cy="78.2" r="0.45"/><circle cx="355.8" cy="117.0" r="0.45"/><circle cx="356.6" cy="45.7" r="0.45"/><circle cx="342.2" cy="62.7" r="0.45"/><circle cx="343.2" cy="58.3" r="0.45"/><circle cx="362.0" cy="114.6" r="0.45"/><circle cx="357.0" cy="49.6" r="0.45"/><circle cx="344.7" cy="55.7" r="0.45"/><circle cx="342.0" cy="45.0" r="0.45"/><circle cx="361.9" cy="98.6" r="0.45"/><circle cx="360.1" cy="112.9" r="0.45"/><circle cx="352.1" cy="115.0" r="0.45"/><circle cx="350.7" cy="52.4" r="0.45"/><circle cx="352.2" cy="58.9" r="0.45"/><circle cx="355.1" cy="53.1" r="0.45"/><circle cx="346.8" cy="46.9" r="0.45"/><circle cx="342.6" cy="51.5" r="0.45"/><circle cx="356.7" cy="59.4" r="0.45"/><circle cx="343.6" cy="105.2" r="0.45"/><circle cx="356.8" cy="67.8" r="0.45"/><circle cx="359.5" cy="71.0" r="0.45"/><circle cx="352.9" cy="49.7" r="0.45"/><circle cx="355.0" cy="49.6" r="0.45"/><circle cx="356.3" cy="50.0" r="0.45"/><circle cx="356.3" cy="54.4" r="0.45"/><circle cx="356.0" cy="70.7" r="0.45"/><circle cx="349.5" cy="66.2" r="0.45"/><circle cx="348.8" cy="62.1" r="0.45"/><circle cx="351.9" cy="64.5" r="0.45"/><circle cx="352.6" cy="102.7" r="0.45"/><circle cx="342.8" cy="101.5" r="0.45"/><circle cx="344.1" cy="50.2" r="0.45"/><circle cx="357.2" cy="61.9" r="0.45"/><circle cx="356.7" cy="74.7" r="0.45"/><circle cx="344.6" cy="116.3" r="0.45"/><circle cx="347.2" cy="58.9" r="0.45"/><circle cx="347.6" cy="114.8" r="0.45"/><circle cx="357.4" cy="52.4" r="0.45"/><circle cx="350.7" cy="57.1" r="0.45"/><circle cx="345.0" cy="46.7" r="0.45"/><circle cx="356.2" cy="59.9" r="0.45"/><circle cx="344.7" cy="57.5" r="0.45"/><circle cx="361.2" cy="69.0" r="0.45"/><circle cx="348.9" cy="44.8" r="0.45"/><circle cx="346.5" cy="55.5" r="0.45"/><circle cx="344.3" cy="63.5" r="0.45"/><circle cx="358.3" cy="100.2" r="0.45"/><circle cx="356.1" cy="50.0" r="0.45"/><circle cx="350.9" cy="51.1" r="0.45"/><circle cx="358.5" cy="110.9" r="0.45"/><circle cx="352.1" cy="59.2" r="0.45"/><circle cx="342.7" cy="66.7" r="0.45"/><circle cx="356.1" cy="66.3" r="0.45"/></g>
<defs><linearGradient id="cl2" x1="0" y1="44" x2="0" y2="117" gradientUnits="userSpaceOnUse"><stop offset="0.000" stop-color="#606060" stop-opacity="0.0"/><stop offset="0.192" stop-color="#606060" stop-opacity="0.08"/><stop offset="0.301" stop-color="#606060" stop-opacity="0.2"/><stop offset="0.384" stop-color="#606060" stop-opacity="0.55"/><stop offset="0.493" stop-color="#606060" stop-opacity="0.7"/><stop offset="0.740" stop-color="#606060" stop-opacity="0.62"/><stop offset="0.822" stop-color="#606060" stop-opacity="0.45"/><stop offset="0.904" stop-color="#606060" stop-opacity="0.25"/><stop offset="1.000" stop-color="#606060" stop-opacity="0.03"/></linearGradient></defs>
<rect x="363.7" y="44" width="21.0" height="73" fill="url(#cl2)"/>
<g fill="#8a8a8a" fill-opacity="0.55"><circle cx="374.0" cy="68.4" r="0.45"/><circle cx="368.7" cy="112.9" r="0.45"/><circle cx="363.8" cy="59.8" r="0.45"/><circle cx="379.0" cy="115.2" r="0.45"/><circle cx="383.1" cy="52.4" r="0.45"/><circle cx="378.5" cy="79.1" r="0.45"/><circle cx="366.9" cy="50.5" r="0.45"/><circle cx="375.1" cy="49.8" r="0.45"/><circle cx="380.9" cy="108.5" r="0.45"/><circle cx="369.4" cy="57.2" r="0.45"/><circle cx="381.5" cy="54.5" r="0.45"/><circle cx="384.6" cy="66.0" r="0.45"/><circle cx="375.7" cy="83.5" r="0.45"/><circle cx="379.2" cy="54.7" r="0.45"/><circle cx="379.8" cy="77.5" r="0.45"/><circle cx="380.2" cy="55.0" r="0.45"/><circle cx="381.1" cy="65.7" r="0.45"/><circle cx="381.3" cy="63.1" r="0.45"/><circle cx="376.0" cy="53.5" r="0.45"/><circle cx="376.4" cy="48.7" r="0.45"/><circle cx="383.1" cy="116.7" r="0.45"/><circle cx="369.1" cy="102.6" r="0.45"/><circle cx="367.1" cy="64.0" r="0.45"/><circle cx="381.4" cy="76.0" r="0.45"/><circle cx="378.6" cy="82.7" r="0.45"/><circle cx="384.2" cy="113.3" r="0.45"/><circle cx="375.0" cy="50.8" r="0.45"/><circle cx="377.3" cy="77.2" r="0.45"/><circle cx="384.6" cy="112.3" r="0.45"/><circle cx="379.5" cy="45.3" r="0.45"/><circle cx="366.6" cy="64.5" r="0.45"/><circle cx="366.4" cy="91.1" r="0.45"/><circle cx="383.1" cy="45.3" r="0.45"/><circle cx="368.8" cy="54.0" r="0.45"/><circle cx="376.4" cy="64.1" r="0.45"/><circle cx="383.0" cy="116.4" r="0.45"/><circle cx="368.2" cy="107.5" r="0.45"/><circle cx="372.4" cy="116.5" r="0.45"/><circle cx="368.9" cy="46.1" r="0.45"/><circle cx="367.8" cy="63.2" r="0.45"/><circle cx="377.5" cy="71.2" r="0.45"/><circle cx="365.6" cy="115.1" r="0.45"/><circle cx="384.0" cy="113.9" r="0.45"/><circle cx="370.7" cy="107.8" r="0.45"/><circle cx="368.7" cy="111.8" r="0.45"/><circle cx="380.8" cy="57.3" r="0.45"/><circle cx="366.3" cy="58.8" r="0.45"/><circle cx="377.8" cy="112.8" r="0.45"/><circle cx="372.5" cy="61.1" r="0.45"/><circle cx="377.8" cy="52.5" r="0.45"/><circle cx="367.7" cy="60.8" r="0.45"/><circle cx="371.8" cy="54.7" r="0.45"/><circle cx="367.8" cy="111.3" r="0.45"/><circle cx="379.7" cy="116.6" r="0.45"/><circle cx="374.6" cy="114.1" r="0.45"/><circle cx="382.1" cy="105.7" r="0.45"/><circle cx="381.7" cy="109.7" r="0.45"/><circle cx="370.3" cy="57.4" r="0.45"/><circle cx="381.6" cy="113.0" r="0.45"/><circle cx="378.5" cy="113.8" r="0.45"/><circle cx="372.4" cy="73.7" r="0.45"/><circle cx="376.8" cy="46.3" r="0.45"/><circle cx="367.1" cy="111.9" r="0.45"/><circle cx="371.9" cy="44.5" r="0.45"/><circle cx="370.8" cy="114.0" r="0.45"/><circle cx="371.7" cy="75.4" r="0.45"/><circle cx="376.7" cy="68.0" r="0.45"/><circle cx="374.6" cy="48.2" r="0.45"/><circle cx="379.3" cy="62.4" r="0.45"/><circle cx="378.0" cy="116.6" r="0.45"/><circle cx="370.7" cy="47.8" r="0.45"/><circle cx="375.0" cy="114.6" r="0.45"/><circle cx="369.8" cy="108.7" r="0.45"/><circle cx="376.6" cy="50.0" r="0.45"/><circle cx="364.0" cy="67.3" r="0.45"/><circle cx="378.8" cy="63.8" r="0.45"/><circle cx="370.0" cy="67.0" r="0.45"/><circle cx="374.5" cy="96.3" r="0.45"/><circle cx="378.4" cy="116.0" r="0.45"/><circle cx="373.1" cy="57.0" r="0.45"/><circle cx="370.7" cy="59.9" r="0.45"/><circle cx="383.1" cy="113.8" r="0.45"/><circle cx="371.3" cy="50.4" r="0.45"/><circle cx="364.7" cy="113.4" r="0.45"/><circle cx="373.9" cy="64.4" r="0.45"/><circle cx="366.9" cy="59.4" r="0.45"/><circle cx="378.2" cy="48.1" r="0.45"/><circle cx="368.4" cy="47.9" r="0.45"/><circle cx="370.7" cy="63.8" r="0.45"/><circle cx="367.4" cy="100.1" r="0.45"/><circle cx="382.9" cy="107.4" r="0.45"/><circle cx="364.5" cy="44.0" r="0.45"/><circle cx="381.5" cy="64.7" r="0.45"/><circle cx="383.0" cy="93.3" r="0.45"/><circle cx="367.0" cy="84.7" r="0.45"/><circle cx="384.7" cy="51.6" r="0.45"/><circle cx="380.8" cy="78.2" r="0.45"/><circle cx="377.1" cy="111.4" r="0.45"/><circle cx="366.3" cy="111.1" r="0.45"/><circle cx="363.9" cy="57.1" r="0.45"/><circle cx="365.1" cy="66.9" r="0.45"/><circle cx="378.8" cy="94.9" r="0.45"/><circle cx="382.1" cy="48.7" r="0.45"/><circle cx="374.3" cy="53.2" r="0.45"/><circle cx="377.2" cy="50.3" r="0.45"/><circle cx="369.3" cy="81.0" r="0.45"/><circle cx="364.5" cy="46.8" r="0.45"/><circle cx="383.2" cy="46.7" r="0.45"/><circle cx="384.6" cy="116.5" r="0.45"/><circle cx="374.1" cy="115.0" r="0.45"/><circle cx="368.1" cy="105.8" r="0.45"/><circle cx="368.0" cy="46.9" r="0.45"/><circle cx="382.0" cy="50.7" r="0.45"/><circle cx="380.9" cy="61.1" r="0.45"/><circle cx="377.5" cy="108.2" r="0.45"/><circle cx="364.4" cy="91.9" r="0.45"/><circle cx="369.4" cy="45.6" r="0.45"/><circle cx="377.9" cy="64.9" r="0.45"/><circle cx="368.2" cy="113.5" r="0.45"/><circle cx="368.1" cy="50.8" r="0.45"/></g>
<line x1="351.6" y1="35" x2="351.6" y2="120" stroke="#7a7a7a" stroke-width="0.7"/>
<line x1="374.2" y1="38.6" x2="374.2" y2="120" stroke="#7a7a7a" stroke-width="0.7"/>
<path d="M352.10,74.00 L352.50,74.96 L352.90,75.92 L353.30,76.89 L353.70,77.85 L354.11,78.81 L354.51,79.78 L355.12,80.74 L355.79,81.70 L356.46,82.66 L357.14,83.62 L357.81,84.59 L358.38,85.55 L358.86,86.51 L359.34,87.47 L359.82,88.44 L360.30,89.40 L360.67,90.36 L360.84,91.33 L361.02,92.29 L361.20,93.25 L361.37,94.21 L361.55,95.17 L361.68,96.14 L361.54,97.10 L361.39,98.06 L361.25,99.03 L361.10,99.99 L360.53,100.95 L359.95,101.91 L359.38,102.88 L358.80,103.84 L358.22,104.80 L357.49,105.76 L356.72,106.72 L355.95,107.69 L355.18,108.65 L354.41,109.61 L353.62,110.58 L352.81,111.54 L352.00,112.50 L351.20,112.50 L350.39,111.54 L349.58,110.58 L348.79,109.61 L348.02,108.65 L347.25,107.69 L346.48,106.72 L345.71,105.76 L344.98,104.80 L344.40,103.84 L343.83,102.88 L343.25,101.91 L342.67,100.95 L342.10,99.99 L341.95,99.03 L341.81,98.06 L341.67,97.10 L341.52,96.14 L341.65,95.17 L341.83,94.21 L342.00,93.25 L342.18,92.29 L342.36,91.33 L342.53,90.36 L342.90,89.40 L343.38,88.44 L343.86,87.47 L344.34,86.51 L344.83,85.55 L345.39,84.59 L346.06,83.62 L346.74,82.66 L347.41,81.70 L348.08,80.74 L348.69,79.78 L349.09,78.81 L349.50,77.85 L349.90,76.89 L350.30,75.92 L350.70,74.96 L351.10,74.00Z" fill="#e4e4e4" stroke="#8c8c8c" stroke-width="0.6"/>
<path d="M374.70,67.00 L374.97,67.80 L375.24,68.60 L375.52,69.40 L375.79,70.20 L376.06,71.00 L376.33,71.80 L376.82,72.60 L377.38,73.40 L377.94,74.20 L378.50,75.00 L379.06,75.80 L379.65,76.60 L380.25,77.40 L380.85,78.20 L381.45,79.00 L382.05,79.80 L382.50,80.60 L382.90,81.40 L383.30,82.20 L383.70,83.00 L384.10,83.80 L384.20,84.60 L384.20,85.40 L384.20,86.20 L383.80,87.00 L383.16,87.80 L382.52,88.60 L381.80,89.40 L381.00,90.20 L380.20,91.00 L379.40,91.80 L378.70,92.60 L378.03,93.40 L377.37,94.20 L376.70,95.00 L376.30,95.80 L375.90,96.60 L375.50,97.40 L375.10,98.20 L374.70,99.00 L373.70,99.00 L373.30,98.20 L372.90,97.40 L372.50,96.60 L372.10,95.80 L371.70,95.00 L371.03,94.20 L370.37,93.40 L369.70,92.60 L369.00,91.80 L368.20,91.00 L367.40,90.20 L366.60,89.40 L365.88,88.60 L365.24,87.80 L364.60,87.00 L364.20,86.20 L364.20,85.40 L364.20,84.60 L364.30,83.80 L364.70,83.00 L365.10,82.20 L365.50,81.40 L365.90,80.60 L366.35,79.80 L366.95,79.00 L367.55,78.20 L368.15,77.40 L368.75,76.60 L369.34,75.80 L369.90,75.00 L370.46,74.20 L371.02,73.40 L371.58,72.60 L372.07,71.80 L372.34,71.00 L372.61,70.20 L372.88,69.40 L373.16,68.60 L373.43,67.80 L373.70,67.00Z" fill="#cc1a1a" stroke="#b01515" stroke-width="0.6"/>
<line x1="346.6" y1="95.8" x2="356.6" y2="95.8" stroke="#111" stroke-width="2.1"/>
<line x1="369.2" y1="85.5" x2="379.2" y2="85.5" stroke="#111" stroke-width="2.1"/>
<path d="M338.5,32 L338.5,123.3 L387,123.3" fill="none" stroke="#231f20" stroke-width="1"/>
<line x1="363.4" y1="123.3" x2="363.4" y2="125.89999999999999" stroke="#231f20" stroke-width="0.8"/>
<line x1="334.5" y1="46.2" x2="338.5" y2="46.2" stroke="#231f20" stroke-width="0.9"/>
<text x="332.4" y="49.0" font-size="8" fill="#231f20" stroke="#231f20" stroke-width="0.22" text-anchor="end" font-weight="normal" >1.0</text>
<line x1="334.5" y1="72.1" x2="338.5" y2="72.1" stroke="#231f20" stroke-width="0.9"/>
<text x="332.4" y="74.89999999999999" font-size="8" fill="#231f20" stroke="#231f20" stroke-width="0.22" text-anchor="end" font-weight="normal" >0.5</text>
<line x1="334.5" y1="97.6" x2="338.5" y2="97.6" stroke="#231f20" stroke-width="0.9"/>
<text x="332.4" y="100.39999999999999" font-size="8" fill="#231f20" stroke="#231f20" stroke-width="0.22" text-anchor="end" font-weight="normal" >0.0</text>
<line x1="334.5" y1="123.3" x2="338.5" y2="123.3" stroke="#231f20" stroke-width="0.9"/>
<text x="332.4" y="126.1" font-size="8" fill="#231f20" stroke="#231f20" stroke-width="0.22" text-anchor="end" font-weight="normal" >−0.5</text>
<text x="337.6" y="26.2" font-size="8.3" fill="#231f20" stroke="#231f20" stroke-width="0.22" text-anchor="start" font-weight="normal" textLength="51.2" lengthAdjust="spacingAndGlyphs" >HSC signature</text>
<text x="340.4" y="135.4" font-size="8.2" fill="#231f20" stroke="#231f20" stroke-width="0.22" text-anchor="start" font-weight="normal" textLength="44.6" lengthAdjust="spacingAndGlyphs" ><tspan font-style="italic">P</tspan> = 1.1e-131</text>
<text transform="translate(311.2,77.1) rotate(-90)" font-size="8.6" fill="#231f20" stroke="#231f20" stroke-width="0.2" text-anchor="middle" textLength="51.8" lengthAdjust="spacingAndGlyphs">Signature score</text>
<defs><linearGradient id="cl3" x1="0" y1="200" x2="0" y2="254" gradientUnits="userSpaceOnUse"><stop offset="0.000" stop-color="#606060" stop-opacity="0.0"/><stop offset="0.093" stop-color="#606060" stop-opacity="0.12"/><stop offset="0.222" stop-color="#606060" stop-opacity="0.5"/><stop offset="0.370" stop-color="#606060" stop-opacity="0.7"/><stop offset="0.926" stop-color="#606060" stop-opacity="0.65"/><stop offset="1.000" stop-color="#606060" stop-opacity="0.05"/></linearGradient></defs>
<rect x="341.1" y="200" width="21.0" height="54" fill="url(#cl3)"/>
<g fill="#8a8a8a" fill-opacity="0.55"><circle cx="353.5" cy="248.2" r="0.45"/><circle cx="350.4" cy="207.0" r="0.45"/><circle cx="356.0" cy="201.3" r="0.45"/><circle cx="356.2" cy="204.6" r="0.45"/><circle cx="341.9" cy="206.2" r="0.45"/><circle cx="349.8" cy="252.7" r="0.45"/><circle cx="345.2" cy="252.6" r="0.45"/><circle cx="345.2" cy="204.1" r="0.45"/><circle cx="352.2" cy="211.7" r="0.45"/><circle cx="358.2" cy="209.2" r="0.45"/><circle cx="348.1" cy="205.9" r="0.45"/><circle cx="352.5" cy="204.2" r="0.45"/><circle cx="349.0" cy="238.8" r="0.45"/><circle cx="359.3" cy="242.4" r="0.45"/><circle cx="355.8" cy="222.8" r="0.45"/><circle cx="359.5" cy="248.5" r="0.45"/><circle cx="346.6" cy="204.8" r="0.45"/><circle cx="343.6" cy="206.0" r="0.45"/><circle cx="342.0" cy="253.1" r="0.45"/><circle cx="358.7" cy="219.6" r="0.45"/><circle cx="360.3" cy="215.8" r="0.45"/><circle cx="353.9" cy="209.9" r="0.45"/><circle cx="359.1" cy="207.2" r="0.45"/><circle cx="349.1" cy="253.0" r="0.45"/><circle cx="356.3" cy="202.1" r="0.45"/><circle cx="350.1" cy="203.2" r="0.45"/><circle cx="354.2" cy="252.2" r="0.45"/><circle cx="349.3" cy="203.1" r="0.45"/><circle cx="353.4" cy="232.5" r="0.45"/><circle cx="351.0" cy="206.6" r="0.45"/><circle cx="347.6" cy="207.9" r="0.45"/><circle cx="347.1" cy="252.8" r="0.45"/><circle cx="357.7" cy="252.0" r="0.45"/><circle cx="358.5" cy="252.4" r="0.45"/><circle cx="357.8" cy="204.3" r="0.45"/><circle cx="359.5" cy="253.6" r="0.45"/><circle cx="358.3" cy="239.5" r="0.45"/><circle cx="357.8" cy="234.4" r="0.45"/><circle cx="355.2" cy="204.4" r="0.45"/><circle cx="344.0" cy="243.0" r="0.45"/><circle cx="348.6" cy="206.9" r="0.45"/><circle cx="348.9" cy="205.4" r="0.45"/><circle cx="346.3" cy="208.6" r="0.45"/><circle cx="361.9" cy="202.1" r="0.45"/><circle cx="354.5" cy="208.2" r="0.45"/><circle cx="350.1" cy="218.2" r="0.45"/><circle cx="359.1" cy="251.0" r="0.45"/><circle cx="352.2" cy="207.8" r="0.45"/><circle cx="347.4" cy="200.6" r="0.45"/><circle cx="348.5" cy="204.4" r="0.45"/><circle cx="353.9" cy="214.8" r="0.45"/><circle cx="354.3" cy="213.3" r="0.45"/><circle cx="356.4" cy="253.1" r="0.45"/><circle cx="347.7" cy="202.8" r="0.45"/><circle cx="342.4" cy="242.7" r="0.45"/><circle cx="350.2" cy="206.2" r="0.45"/><circle cx="351.1" cy="234.6" r="0.45"/><circle cx="361.9" cy="231.1" r="0.45"/><circle cx="345.4" cy="242.7" r="0.45"/><circle cx="349.6" cy="220.9" r="0.45"/><circle cx="344.8" cy="210.9" r="0.45"/><circle cx="345.6" cy="202.3" r="0.45"/><circle cx="348.9" cy="238.9" r="0.45"/><circle cx="349.7" cy="239.8" r="0.45"/><circle cx="359.3" cy="233.9" r="0.45"/><circle cx="345.2" cy="207.2" r="0.45"/><circle cx="344.0" cy="204.5" r="0.45"/><circle cx="355.1" cy="202.5" r="0.45"/><circle cx="354.2" cy="200.4" r="0.45"/><circle cx="349.5" cy="245.9" r="0.45"/><circle cx="357.8" cy="226.3" r="0.45"/><circle cx="351.9" cy="211.9" r="0.45"/><circle cx="353.0" cy="206.0" r="0.45"/><circle cx="349.3" cy="202.8" r="0.45"/><circle cx="358.0" cy="248.7" r="0.45"/><circle cx="359.2" cy="208.9" r="0.45"/><circle cx="352.4" cy="201.3" r="0.45"/><circle cx="354.6" cy="204.0" r="0.45"/><circle cx="353.0" cy="247.2" r="0.45"/><circle cx="356.9" cy="208.9" r="0.45"/><circle cx="343.7" cy="209.7" r="0.45"/><circle cx="356.5" cy="237.3" r="0.45"/><circle cx="354.2" cy="204.8" r="0.45"/><circle cx="362.1" cy="201.1" r="0.45"/><circle cx="347.8" cy="208.1" r="0.45"/><circle cx="356.8" cy="212.5" r="0.45"/><circle cx="341.5" cy="207.6" r="0.45"/><circle cx="346.1" cy="201.2" r="0.45"/><circle cx="353.5" cy="201.2" r="0.45"/><circle cx="359.0" cy="206.2" r="0.45"/><circle cx="359.7" cy="204.3" r="0.45"/><circle cx="351.9" cy="208.7" r="0.45"/><circle cx="342.2" cy="203.8" r="0.45"/><circle cx="349.0" cy="202.7" r="0.45"/><circle cx="350.5" cy="203.3" r="0.45"/><circle cx="345.2" cy="245.5" r="0.45"/><circle cx="360.8" cy="248.6" r="0.45"/><circle cx="347.4" cy="242.3" r="0.45"/><circle cx="347.3" cy="204.8" r="0.45"/><circle cx="348.4" cy="202.4" r="0.45"/><circle cx="347.1" cy="201.0" r="0.45"/><circle cx="360.7" cy="218.0" r="0.45"/><circle cx="354.9" cy="252.5" r="0.45"/><circle cx="361.8" cy="202.4" r="0.45"/><circle cx="359.0" cy="253.8" r="0.45"/><circle cx="348.3" cy="207.4" r="0.45"/><circle cx="344.7" cy="207.3" r="0.45"/><circle cx="342.6" cy="203.6" r="0.45"/><circle cx="346.9" cy="212.6" r="0.45"/><circle cx="351.7" cy="250.1" r="0.45"/><circle cx="356.3" cy="202.1" r="0.45"/><circle cx="359.8" cy="225.0" r="0.45"/><circle cx="342.3" cy="230.3" r="0.45"/><circle cx="341.9" cy="252.8" r="0.45"/><circle cx="347.0" cy="244.0" r="0.45"/><circle cx="346.1" cy="237.0" r="0.45"/><circle cx="350.7" cy="206.3" r="0.45"/><circle cx="358.1" cy="246.0" r="0.45"/><circle cx="347.1" cy="231.1" r="0.45"/><circle cx="354.8" cy="203.4" r="0.45"/></g>
<defs><linearGradient id="cl4" x1="0" y1="176" x2="0" y2="254" gradientUnits="userSpaceOnUse"><stop offset="0.000" stop-color="#606060" stop-opacity="0.02"/><stop offset="0.308" stop-color="#606060" stop-opacity="0.06"/><stop offset="0.410" stop-color="#606060" stop-opacity="0.2"/><stop offset="0.500" stop-color="#606060" stop-opacity="0.55"/><stop offset="0.590" stop-color="#606060" stop-opacity="0.7"/><stop offset="0.949" stop-color="#606060" stop-opacity="0.65"/><stop offset="1.000" stop-color="#606060" stop-opacity="0.05"/></linearGradient></defs>
<rect x="363.7" y="176" width="21.0" height="78" fill="url(#cl4)"/>
<g fill="#8a8a8a" fill-opacity="0.55"><circle cx="372.0" cy="192.4" r="0.45"/><circle cx="365.2" cy="253.4" r="0.45"/><circle cx="364.2" cy="217.7" r="0.45"/><circle cx="374.1" cy="245.8" r="0.45"/><circle cx="370.3" cy="182.3" r="0.45"/><circle cx="383.4" cy="216.6" r="0.45"/><circle cx="378.3" cy="195.8" r="0.45"/><circle cx="368.2" cy="208.8" r="0.45"/><circle cx="379.2" cy="204.8" r="0.45"/><circle cx="371.7" cy="205.7" r="0.45"/><circle cx="364.4" cy="185.3" r="0.45"/><circle cx="373.0" cy="225.6" r="0.45"/><circle cx="382.9" cy="206.4" r="0.45"/><circle cx="384.1" cy="187.1" r="0.45"/><circle cx="373.1" cy="202.7" r="0.45"/><circle cx="379.7" cy="183.9" r="0.45"/><circle cx="365.9" cy="194.9" r="0.45"/><circle cx="367.0" cy="184.3" r="0.45"/><circle cx="378.1" cy="216.4" r="0.45"/><circle cx="368.5" cy="222.6" r="0.45"/><circle cx="376.3" cy="186.7" r="0.45"/><circle cx="366.7" cy="193.4" r="0.45"/><circle cx="369.7" cy="188.8" r="0.45"/><circle cx="365.8" cy="185.4" r="0.45"/><circle cx="382.6" cy="181.9" r="0.45"/><circle cx="373.8" cy="221.9" r="0.45"/><circle cx="380.0" cy="235.4" r="0.45"/><circle cx="370.4" cy="203.3" r="0.45"/><circle cx="379.0" cy="211.2" r="0.45"/><circle cx="363.8" cy="189.5" r="0.45"/><circle cx="369.7" cy="184.4" r="0.45"/><circle cx="371.9" cy="203.6" r="0.45"/><circle cx="372.8" cy="184.7" r="0.45"/><circle cx="367.5" cy="197.6" r="0.45"/><circle cx="375.6" cy="209.1" r="0.45"/><circle cx="376.6" cy="182.1" r="0.45"/><circle cx="378.3" cy="206.6" r="0.45"/><circle cx="369.0" cy="205.2" r="0.45"/><circle cx="381.9" cy="187.3" r="0.45"/><circle cx="383.4" cy="193.6" r="0.45"/><circle cx="382.1" cy="184.8" r="0.45"/><circle cx="374.7" cy="179.7" r="0.45"/><circle cx="369.1" cy="183.7" r="0.45"/><circle cx="378.5" cy="253.9" r="0.45"/><circle cx="373.7" cy="220.5" r="0.45"/><circle cx="372.1" cy="192.0" r="0.45"/><circle cx="364.5" cy="231.6" r="0.45"/><circle cx="375.8" cy="252.5" r="0.45"/><circle cx="377.0" cy="220.7" r="0.45"/><circle cx="367.3" cy="208.7" r="0.45"/><circle cx="371.9" cy="176.3" r="0.45"/><circle cx="364.5" cy="180.9" r="0.45"/><circle cx="369.1" cy="177.4" r="0.45"/><circle cx="365.4" cy="189.0" r="0.45"/><circle cx="370.0" cy="188.5" r="0.45"/><circle cx="383.9" cy="208.3" r="0.45"/><circle cx="380.3" cy="241.6" r="0.45"/><circle cx="377.3" cy="207.2" r="0.45"/><circle cx="379.1" cy="208.3" r="0.45"/><circle cx="365.9" cy="200.5" r="0.45"/><circle cx="382.7" cy="241.9" r="0.45"/><circle cx="372.8" cy="219.0" r="0.45"/><circle cx="364.9" cy="207.4" r="0.45"/><circle cx="374.1" cy="203.4" r="0.45"/><circle cx="373.6" cy="209.7" r="0.45"/><circle cx="366.7" cy="213.0" r="0.45"/><circle cx="368.2" cy="232.9" r="0.45"/><circle cx="382.9" cy="176.8" r="0.45"/><circle cx="379.1" cy="182.5" r="0.45"/><circle cx="383.2" cy="210.6" r="0.45"/><circle cx="371.2" cy="253.1" r="0.45"/><circle cx="364.9" cy="196.6" r="0.45"/><circle cx="382.7" cy="251.3" r="0.45"/><circle cx="364.2" cy="180.9" r="0.45"/><circle cx="383.3" cy="178.4" r="0.45"/><circle cx="384.2" cy="226.8" r="0.45"/><circle cx="376.6" cy="191.9" r="0.45"/><circle cx="382.1" cy="224.6" r="0.45"/><circle cx="372.2" cy="234.6" r="0.45"/><circle cx="370.7" cy="199.1" r="0.45"/><circle cx="371.5" cy="243.3" r="0.45"/><circle cx="377.5" cy="201.0" r="0.45"/><circle cx="373.2" cy="182.6" r="0.45"/><circle cx="383.8" cy="249.5" r="0.45"/><circle cx="381.7" cy="177.7" r="0.45"/><circle cx="367.0" cy="218.8" r="0.45"/><circle cx="371.2" cy="208.7" r="0.45"/><circle cx="366.1" cy="191.2" r="0.45"/><circle cx="375.6" cy="225.2" r="0.45"/><circle cx="365.6" cy="185.9" r="0.45"/><circle cx="368.3" cy="178.2" r="0.45"/><circle cx="377.2" cy="253.6" r="0.45"/><circle cx="380.8" cy="199.5" r="0.45"/><circle cx="370.9" cy="178.8" r="0.45"/><circle cx="367.8" cy="196.3" r="0.45"/><circle cx="379.7" cy="190.7" r="0.45"/><circle cx="382.0" cy="229.9" r="0.45"/><circle cx="378.0" cy="177.5" r="0.45"/><circle cx="377.8" cy="230.7" r="0.45"/><circle cx="374.5" cy="229.8" r="0.45"/><circle cx="377.3" cy="187.8" r="0.45"/><circle cx="371.6" cy="202.5" r="0.45"/><circle cx="363.8" cy="219.7" r="0.45"/><circle cx="365.9" cy="202.4" r="0.45"/><circle cx="368.4" cy="200.8" r="0.45"/><circle cx="372.6" cy="206.8" r="0.45"/><circle cx="369.0" cy="181.8" r="0.45"/><circle cx="374.1" cy="191.2" r="0.45"/><circle cx="384.5" cy="185.2" r="0.45"/><circle cx="368.6" cy="176.5" r="0.45"/><circle cx="366.1" cy="200.1" r="0.45"/><circle cx="383.6" cy="184.2" r="0.45"/><circle cx="364.1" cy="223.4" r="0.45"/><circle cx="369.8" cy="192.8" r="0.45"/><circle cx="364.6" cy="229.2" r="0.45"/><circle cx="366.9" cy="180.1" r="0.45"/><circle cx="376.2" cy="191.0" r="0.45"/><circle cx="366.3" cy="201.0" r="0.45"/><circle cx="383.2" cy="181.3" r="0.45"/><circle cx="368.6" cy="199.0" r="0.45"/></g>
<line x1="351.6" y1="196" x2="351.6" y2="253" stroke="#7a7a7a" stroke-width="0.7"/>
<line x1="374.2" y1="170" x2="374.2" y2="251" stroke="#7a7a7a" stroke-width="0.7"/>
<path d="M352.20,212.00 L352.68,213.03 L353.16,214.05 L353.68,215.07 L354.70,216.10 L355.73,217.12 L356.73,218.15 L357.63,219.18 L358.53,220.20 L359.42,221.22 L360.18,222.25 L360.48,223.28 L360.79,224.30 L361.10,225.32 L361.41,226.35 L361.55,227.38 L361.43,228.40 L361.30,229.43 L361.17,230.45 L360.68,231.47 L359.79,232.50 L358.89,233.53 L357.99,234.55 L357.23,235.57 L356.58,236.60 L356.06,237.62 L356.51,238.65 L356.96,239.68 L357.66,240.70 L358.48,241.72 L359.06,242.75 L358.92,243.78 L358.77,244.80 L358.62,245.82 L357.86,246.85 L356.96,247.88 L356.06,248.90 L355.17,249.93 L354.12,250.95 L353.06,251.97 L352.00,253.00 L351.20,253.00 L350.14,251.97 L349.08,250.95 L348.03,249.93 L347.14,248.90 L346.24,247.88 L345.34,246.85 L344.58,245.82 L344.43,244.80 L344.28,243.78 L344.14,242.75 L344.72,241.72 L345.54,240.70 L346.24,239.68 L346.69,238.65 L347.15,237.62 L346.62,236.60 L345.97,235.57 L345.21,234.55 L344.31,233.53 L343.41,232.50 L342.52,231.47 L342.03,230.45 L341.90,229.43 L341.78,228.40 L341.65,227.38 L341.80,226.35 L342.10,225.32 L342.41,224.30 L342.72,223.28 L343.03,222.25 L343.78,221.22 L344.68,220.20 L345.57,219.18 L346.47,218.15 L347.48,217.12 L348.50,216.10 L349.53,215.07 L350.04,214.05 L350.52,213.03 L351.00,212.00Z" fill="#e4e4e4" stroke="#8c8c8c" stroke-width="0.6"/>
<path d="M374.70,218.00 L374.76,218.74 L374.81,219.47 L374.87,220.21 L374.92,220.95 L374.98,221.69 L375.03,222.43 L375.09,223.16 L375.14,223.90 L375.20,224.64 L375.25,225.38 L375.33,226.11 L375.53,226.85 L375.74,227.59 L375.94,228.32 L376.14,229.06 L376.34,229.80 L376.76,230.54 L377.25,231.28 L377.74,232.01 L378.23,232.75 L378.82,233.49 L379.45,234.22 L380.08,234.96 L380.71,235.70 L381.35,236.44 L381.92,237.18 L382.49,237.91 L383.05,238.65 L383.62,239.39 L384.19,240.12 L384.04,240.86 L383.48,241.60 L382.91,242.34 L382.25,243.07 L380.77,243.81 L379.30,244.55 L377.82,245.29 L376.66,246.03 L375.63,246.76 L374.60,247.50 L373.80,247.50 L372.77,246.76 L371.74,246.03 L370.57,245.29 L369.10,244.55 L367.62,243.81 L366.15,243.07 L365.49,242.34 L364.92,241.60 L364.36,240.86 L364.21,240.12 L364.78,239.39 L365.35,238.65 L365.91,237.91 L366.48,237.18 L367.05,236.44 L367.69,235.70 L368.32,234.96 L368.95,234.22 L369.58,233.49 L370.17,232.75 L370.66,232.01 L371.15,231.28 L371.64,230.54 L372.06,229.80 L372.26,229.06 L372.46,228.32 L372.66,227.59 L372.87,226.85 L373.07,226.11 L373.15,225.38 L373.20,224.64 L373.26,223.90 L373.31,223.16 L373.37,222.43 L373.42,221.69 L373.48,220.95 L373.53,220.21 L373.59,219.47 L373.64,218.74 L373.70,218.00Z" fill="#cc1a1a" stroke="#b01515" stroke-width="0.6"/>
<line x1="346.6" y1="231.2" x2="356.6" y2="231.2" stroke="#111" stroke-width="2.1"/>
<line x1="369.2" y1="240.2" x2="379.2" y2="240.2" stroke="#111" stroke-width="2.1"/>
<path d="M338.5,165.4 L338.5,257.2 L387,257.2" fill="none" stroke="#231f20" stroke-width="1"/>
<line x1="363.4" y1="257.2" x2="363.4" y2="259.8" stroke="#231f20" stroke-width="0.8"/>
<line x1="334.5" y1="174" x2="338.5" y2="174" stroke="#231f20" stroke-width="0.9"/>
<text x="332.4" y="176.8" font-size="8" fill="#231f20" stroke="#231f20" stroke-width="0.22" text-anchor="end" font-weight="normal" >2.0</text>
<line x1="334.5" y1="190.8" x2="338.5" y2="190.8" stroke="#231f20" stroke-width="0.9"/>
<text x="332.4" y="193.60000000000002" font-size="8" fill="#231f20" stroke="#231f20" stroke-width="0.22" text-anchor="end" font-weight="normal" >1.5</text>
<line x1="334.5" y1="207.3" x2="338.5" y2="207.3" stroke="#231f20" stroke-width="0.9"/>
<text x="332.4" y="210.10000000000002" font-size="8" fill="#231f20" stroke="#231f20" stroke-width="0.22" text-anchor="end" font-weight="normal" >1.0</text>
<line x1="334.5" y1="224" x2="338.5" y2="224" stroke="#231f20" stroke-width="0.9"/>
<text x="332.4" y="226.8" font-size="8" fill="#231f20" stroke="#231f20" stroke-width="0.22" text-anchor="end" font-weight="normal" >0.5</text>
<line x1="334.5" y1="240.4" x2="338.5" y2="240.4" stroke="#231f20" stroke-width="0.9"/>
<text x="332.4" y="243.20000000000002" font-size="8" fill="#231f20" stroke="#231f20" stroke-width="0.22" text-anchor="end" font-weight="normal" >0.0</text>
<line x1="334.5" y1="256.7" x2="338.5" y2="256.7" stroke="#231f20" stroke-width="0.9"/>
<text x="332.4" y="259.5" font-size="8" fill="#231f20" stroke="#231f20" stroke-width="0.22" text-anchor="end" font-weight="normal" >−0.5</text>
<text x="327.9" y="160.6" font-size="8.3" fill="#231f20" stroke="#231f20" stroke-width="0.22" text-anchor="start" font-weight="normal" textLength="71.1" lengthAdjust="spacingAndGlyphs" >Monocyte signature</text>
<text x="342.6" y="270.5" font-size="8.2" fill="#231f20" stroke="#231f20" stroke-width="0.22" text-anchor="start" font-weight="normal" textLength="41.5" lengthAdjust="spacingAndGlyphs" ><tspan font-style="italic">P</tspan> = 2.8e-36</text>
<text transform="translate(311.2,211.3) rotate(-90)" font-size="8.6" fill="#231f20" stroke="#231f20" stroke-width="0.2" text-anchor="middle" textLength="51.8" lengthAdjust="spacingAndGlyphs">Signature score</text>
<defs><linearGradient id="cl5" x1="0" y1="330" x2="0" y2="396" gradientUnits="userSpaceOnUse"><stop offset="0.000" stop-color="#606060" stop-opacity="0.0"/><stop offset="0.106" stop-color="#606060" stop-opacity="0.3"/><stop offset="0.227" stop-color="#606060" stop-opacity="0.6"/><stop offset="0.833" stop-color="#606060" stop-opacity="0.6"/><stop offset="0.909" stop-color="#606060" stop-opacity="0.15"/><stop offset="1.000" stop-color="#606060" stop-opacity="0.02"/></linearGradient></defs>
<rect x="341.1" y="330" width="21.0" height="66" fill="url(#cl5)"/>
<g fill="#8a8a8a" fill-opacity="0.55"><circle cx="354.1" cy="375.0" r="0.45"/><circle cx="347.2" cy="336.0" r="0.45"/><circle cx="345.6" cy="332.2" r="0.45"/><circle cx="354.9" cy="357.5" r="0.45"/><circle cx="353.3" cy="390.1" r="0.45"/><circle cx="344.4" cy="331.5" r="0.45"/><circle cx="356.2" cy="389.2" r="0.45"/><circle cx="347.0" cy="390.5" r="0.45"/><circle cx="352.8" cy="333.2" r="0.45"/><circle cx="343.0" cy="330.2" r="0.45"/><circle cx="351.7" cy="334.2" r="0.45"/><circle cx="346.9" cy="390.5" r="0.45"/><circle cx="356.9" cy="367.2" r="0.45"/><circle cx="341.2" cy="393.8" r="0.45"/><circle cx="350.4" cy="331.8" r="0.45"/><circle cx="350.5" cy="362.1" r="0.45"/><circle cx="342.0" cy="332.4" r="0.45"/><circle cx="356.6" cy="369.2" r="0.45"/><circle cx="361.0" cy="351.1" r="0.45"/><circle cx="351.1" cy="371.1" r="0.45"/><circle cx="356.6" cy="353.7" r="0.45"/><circle cx="352.6" cy="381.6" r="0.45"/><circle cx="346.3" cy="392.7" r="0.45"/><circle cx="358.3" cy="374.5" r="0.45"/><circle cx="352.0" cy="381.5" r="0.45"/><circle cx="346.2" cy="390.6" r="0.45"/><circle cx="357.7" cy="368.7" r="0.45"/><circle cx="351.5" cy="365.0" r="0.45"/><circle cx="358.9" cy="353.9" r="0.45"/><circle cx="343.1" cy="376.2" r="0.45"/><circle cx="345.9" cy="363.0" r="0.45"/><circle cx="346.9" cy="373.2" r="0.45"/><circle cx="351.6" cy="384.7" r="0.45"/><circle cx="344.5" cy="382.2" r="0.45"/><circle cx="360.4" cy="374.3" r="0.45"/><circle cx="353.4" cy="377.4" r="0.45"/><circle cx="344.7" cy="330.4" r="0.45"/><circle cx="353.7" cy="340.4" r="0.45"/><circle cx="361.4" cy="337.5" r="0.45"/><circle cx="361.7" cy="378.3" r="0.45"/><circle cx="348.5" cy="395.5" r="0.45"/><circle cx="358.3" cy="337.7" r="0.45"/><circle cx="353.5" cy="338.0" r="0.45"/><circle cx="354.1" cy="391.3" r="0.45"/><circle cx="344.2" cy="335.6" r="0.45"/><circle cx="358.5" cy="367.3" r="0.45"/><circle cx="346.2" cy="381.9" r="0.45"/><circle cx="353.1" cy="395.6" r="0.45"/><circle cx="359.0" cy="393.2" r="0.45"/><circle cx="352.0" cy="354.5" r="0.45"/><circle cx="352.4" cy="363.1" r="0.45"/><circle cx="355.3" cy="394.9" r="0.45"/><circle cx="359.8" cy="337.1" r="0.45"/><circle cx="357.2" cy="335.0" r="0.45"/><circle cx="361.8" cy="389.3" r="0.45"/><circle cx="352.0" cy="395.3" r="0.45"/><circle cx="345.7" cy="395.8" r="0.45"/><circle cx="349.7" cy="330.3" r="0.45"/><circle cx="356.6" cy="391.2" r="0.45"/><circle cx="348.5" cy="332.0" r="0.45"/><circle cx="343.2" cy="337.1" r="0.45"/><circle cx="352.4" cy="355.2" r="0.45"/><circle cx="359.1" cy="392.7" r="0.45"/><circle cx="355.6" cy="330.3" r="0.45"/><circle cx="346.9" cy="337.4" r="0.45"/><circle cx="345.5" cy="371.3" r="0.45"/><circle cx="348.0" cy="392.9" r="0.45"/><circle cx="346.3" cy="390.9" r="0.45"/><circle cx="355.6" cy="330.7" r="0.45"/><circle cx="349.8" cy="332.4" r="0.45"/><circle cx="354.2" cy="338.3" r="0.45"/><circle cx="361.1" cy="336.6" r="0.45"/><circle cx="348.4" cy="356.6" r="0.45"/><circle cx="360.5" cy="392.0" r="0.45"/><circle cx="353.7" cy="358.8" r="0.45"/><circle cx="344.1" cy="344.9" r="0.45"/><circle cx="358.2" cy="360.2" r="0.45"/><circle cx="345.5" cy="336.2" r="0.45"/><circle cx="350.7" cy="389.9" r="0.45"/><circle cx="353.5" cy="336.8" r="0.45"/><circle cx="360.4" cy="389.1" r="0.45"/><circle cx="360.7" cy="374.8" r="0.45"/><circle cx="345.3" cy="369.9" r="0.45"/><circle cx="359.3" cy="368.7" r="0.45"/><circle cx="351.8" cy="335.3" r="0.45"/><circle cx="361.3" cy="390.1" r="0.45"/><circle cx="344.9" cy="389.4" r="0.45"/><circle cx="345.2" cy="388.4" r="0.45"/><circle cx="344.5" cy="368.9" r="0.45"/><circle cx="353.3" cy="347.2" r="0.45"/><circle cx="360.8" cy="388.1" r="0.45"/><circle cx="345.7" cy="351.2" r="0.45"/><circle cx="359.5" cy="384.7" r="0.45"/><circle cx="346.9" cy="349.0" r="0.45"/><circle cx="346.8" cy="370.9" r="0.45"/><circle cx="350.9" cy="337.7" r="0.45"/><circle cx="343.8" cy="347.2" r="0.45"/><circle cx="360.8" cy="395.9" r="0.45"/><circle cx="346.9" cy="333.6" r="0.45"/><circle cx="344.9" cy="347.4" r="0.45"/><circle cx="358.7" cy="376.1" r="0.45"/><circle cx="361.0" cy="362.3" r="0.45"/><circle cx="349.7" cy="336.3" r="0.45"/><circle cx="356.9" cy="390.5" r="0.45"/><circle cx="355.1" cy="358.1" r="0.45"/><circle cx="360.0" cy="383.1" r="0.45"/><circle cx="351.8" cy="335.0" r="0.45"/><circle cx="360.8" cy="382.2" r="0.45"/><circle cx="361.8" cy="348.2" r="0.45"/><circle cx="348.6" cy="372.5" r="0.45"/><circle cx="354.8" cy="393.9" r="0.45"/><circle cx="345.9" cy="388.1" r="0.45"/><circle cx="349.9" cy="364.4" r="0.45"/><circle cx="357.9" cy="331.6" r="0.45"/><circle cx="355.1" cy="341.2" r="0.45"/><circle cx="354.4" cy="336.0" r="0.45"/><circle cx="357.9" cy="332.3" r="0.45"/><circle cx="349.7" cy="343.4" r="0.45"/><circle cx="358.1" cy="391.5" r="0.45"/><circle cx="356.0" cy="392.7" r="0.45"/></g>
<defs><linearGradient id="cl6" x1="0" y1="333" x2="0" y2="398" gradientUnits="userSpaceOnUse"><stop offset="0.000" stop-color="#606060" stop-opacity="0.0"/><stop offset="0.108" stop-color="#606060" stop-opacity="0.3"/><stop offset="0.231" stop-color="#606060" stop-opacity="0.6"/><stop offset="0.831" stop-color="#606060" stop-opacity="0.6"/><stop offset="0.908" stop-color="#606060" stop-opacity="0.15"/><stop offset="1.000" stop-color="#606060" stop-opacity="0.02"/></linearGradient></defs>
<rect x="363.7" y="333" width="21.0" height="65" fill="url(#cl6)"/>
<g fill="#8a8a8a" fill-opacity="0.55"><circle cx="366.1" cy="347.6" r="0.45"/><circle cx="374.5" cy="333.6" r="0.45"/><circle cx="365.2" cy="373.1" r="0.45"/><circle cx="384.1" cy="340.0" r="0.45"/><circle cx="373.7" cy="335.3" r="0.45"/><circle cx="369.1" cy="392.6" r="0.45"/><circle cx="377.8" cy="349.1" r="0.45"/><circle cx="368.4" cy="335.8" r="0.45"/><circle cx="367.9" cy="397.7" r="0.45"/><circle cx="381.3" cy="340.2" r="0.45"/><circle cx="372.8" cy="372.4" r="0.45"/><circle cx="366.3" cy="336.1" r="0.45"/><circle cx="369.5" cy="350.7" r="0.45"/><circle cx="365.1" cy="395.5" r="0.45"/><circle cx="383.5" cy="337.7" r="0.45"/><circle cx="373.0" cy="375.7" r="0.45"/><circle cx="369.4" cy="369.4" r="0.45"/><circle cx="383.5" cy="359.8" r="0.45"/><circle cx="370.2" cy="380.8" r="0.45"/><circle cx="371.9" cy="334.0" r="0.45"/><circle cx="383.0" cy="353.0" r="0.45"/><circle cx="365.3" cy="340.6" r="0.45"/><circle cx="372.7" cy="393.1" r="0.45"/><circle cx="369.2" cy="350.9" r="0.45"/><circle cx="380.3" cy="390.9" r="0.45"/><circle cx="372.7" cy="335.7" r="0.45"/><circle cx="383.5" cy="335.1" r="0.45"/><circle cx="380.6" cy="361.4" r="0.45"/><circle cx="374.1" cy="389.9" r="0.45"/><circle cx="369.8" cy="333.4" r="0.45"/><circle cx="380.4" cy="394.3" r="0.45"/><circle cx="367.1" cy="337.7" r="0.45"/><circle cx="364.1" cy="395.6" r="0.45"/><circle cx="368.5" cy="394.4" r="0.45"/><circle cx="364.3" cy="390.4" r="0.45"/><circle cx="379.0" cy="333.7" r="0.45"/><circle cx="380.4" cy="374.5" r="0.45"/><circle cx="377.8" cy="393.3" r="0.45"/><circle cx="374.7" cy="367.6" r="0.45"/><circle cx="369.1" cy="392.7" r="0.45"/><circle cx="378.3" cy="338.6" r="0.45"/><circle cx="364.0" cy="334.7" r="0.45"/><circle cx="367.7" cy="333.9" r="0.45"/><circle cx="377.0" cy="335.5" r="0.45"/><circle cx="379.7" cy="343.3" r="0.45"/><circle cx="379.1" cy="395.6" r="0.45"/><circle cx="376.6" cy="391.9" r="0.45"/><circle cx="368.7" cy="397.2" r="0.45"/><circle cx="384.3" cy="334.4" r="0.45"/><circle cx="382.8" cy="370.0" r="0.45"/><circle cx="365.5" cy="338.1" r="0.45"/><circle cx="364.2" cy="391.7" r="0.45"/><circle cx="374.0" cy="333.8" r="0.45"/><circle cx="377.2" cy="333.0" r="0.45"/><circle cx="367.4" cy="353.0" r="0.45"/><circle cx="370.0" cy="361.1" r="0.45"/><circle cx="371.7" cy="340.5" r="0.45"/><circle cx="374.6" cy="334.3" r="0.45"/><circle cx="365.3" cy="396.1" r="0.45"/><circle cx="366.4" cy="378.1" r="0.45"/><circle cx="370.9" cy="349.6" r="0.45"/><circle cx="379.4" cy="366.2" r="0.45"/><circle cx="371.5" cy="335.3" r="0.45"/><circle cx="371.5" cy="395.7" r="0.45"/><circle cx="364.5" cy="394.1" r="0.45"/><circle cx="377.8" cy="335.0" r="0.45"/><circle cx="380.1" cy="346.5" r="0.45"/><circle cx="364.7" cy="376.3" r="0.45"/><circle cx="366.1" cy="373.5" r="0.45"/><circle cx="365.9" cy="385.7" r="0.45"/><circle cx="369.7" cy="335.1" r="0.45"/><circle cx="378.8" cy="349.1" r="0.45"/><circle cx="378.4" cy="336.8" r="0.45"/><circle cx="366.7" cy="392.1" r="0.45"/><circle cx="363.9" cy="386.7" r="0.45"/><circle cx="372.8" cy="390.2" r="0.45"/><circle cx="368.1" cy="364.9" r="0.45"/><circle cx="374.5" cy="341.1" r="0.45"/><circle cx="381.4" cy="392.3" r="0.45"/><circle cx="365.0" cy="366.0" r="0.45"/><circle cx="378.2" cy="364.2" r="0.45"/><circle cx="381.0" cy="391.8" r="0.45"/><circle cx="372.0" cy="340.2" r="0.45"/><circle cx="381.4" cy="339.8" r="0.45"/><circle cx="367.1" cy="396.7" r="0.45"/><circle cx="372.4" cy="337.4" r="0.45"/><circle cx="379.4" cy="336.0" r="0.45"/><circle cx="378.1" cy="397.8" r="0.45"/><circle cx="372.4" cy="337.0" r="0.45"/><circle cx="365.2" cy="338.5" r="0.45"/><circle cx="368.7" cy="366.7" r="0.45"/><circle cx="375.6" cy="333.1" r="0.45"/><circle cx="366.9" cy="335.3" r="0.45"/><circle cx="380.7" cy="397.7" r="0.45"/><circle cx="371.0" cy="388.6" r="0.45"/><circle cx="378.8" cy="391.7" r="0.45"/><circle cx="374.9" cy="396.7" r="0.45"/><circle cx="368.9" cy="378.1" r="0.45"/><circle cx="374.1" cy="351.1" r="0.45"/><circle cx="363.9" cy="339.6" r="0.45"/><circle cx="380.4" cy="337.5" r="0.45"/><circle cx="375.5" cy="361.4" r="0.45"/><circle cx="367.2" cy="374.9" r="0.45"/><circle cx="376.7" cy="354.0" r="0.45"/><circle cx="377.9" cy="333.3" r="0.45"/><circle cx="382.8" cy="397.9" r="0.45"/><circle cx="382.6" cy="384.6" r="0.45"/><circle cx="365.0" cy="395.8" r="0.45"/><circle cx="379.3" cy="338.2" r="0.45"/><circle cx="371.5" cy="392.1" r="0.45"/><circle cx="370.4" cy="337.9" r="0.45"/><circle cx="372.1" cy="351.4" r="0.45"/><circle cx="382.8" cy="396.2" r="0.45"/><circle cx="373.5" cy="391.7" r="0.45"/><circle cx="373.3" cy="397.3" r="0.45"/><circle cx="382.2" cy="338.6" r="0.45"/><circle cx="383.4" cy="366.5" r="0.45"/><circle cx="381.7" cy="341.1" r="0.45"/><circle cx="383.5" cy="359.3" r="0.45"/><circle cx="370.0" cy="356.0" r="0.45"/></g>
<line x1="351.6" y1="313.1" x2="351.6" y2="395.3" stroke="#7a7a7a" stroke-width="0.7"/>
<line x1="374.2" y1="325.3" x2="374.2" y2="397" stroke="#7a7a7a" stroke-width="0.7"/>
<path d="M352.10,344.00 L352.25,344.98 L352.39,345.95 L352.54,346.93 L352.69,347.90 L352.83,348.88 L352.98,349.85 L353.40,350.82 L353.86,351.80 L354.33,352.77 L354.80,353.75 L355.27,354.73 L355.89,355.70 L356.57,356.68 L357.25,357.65 L357.94,358.62 L358.62,359.60 L359.20,360.57 L359.71,361.55 L360.23,362.52 L360.74,363.50 L361.08,364.48 L361.24,365.45 L361.40,366.43 L361.44,367.40 L361.29,368.38 L361.15,369.35 L361.00,370.32 L360.73,371.30 L360.17,372.27 L359.61,373.25 L359.05,374.23 L358.43,375.20 L357.57,376.18 L356.72,377.15 L355.87,378.12 L355.00,379.10 L354.03,380.07 L353.05,381.05 L352.39,382.02 L352.00,383.00 L351.20,383.00 L350.81,382.02 L350.15,381.05 L349.18,380.07 L348.20,379.10 L347.33,378.12 L346.48,377.15 L345.63,376.18 L344.78,375.20 L344.15,374.23 L343.59,373.25 L343.03,372.27 L342.47,371.30 L342.20,370.32 L342.05,369.35 L341.91,368.38 L341.76,367.40 L341.80,366.43 L341.96,365.45 L342.12,364.48 L342.46,363.50 L342.97,362.52 L343.49,361.55 L344.00,360.57 L344.58,359.60 L345.26,358.62 L345.95,357.65 L346.63,356.68 L347.31,355.70 L347.93,354.73 L348.40,353.75 L348.87,352.77 L349.34,351.80 L349.80,350.82 L350.22,349.85 L350.37,348.88 L350.52,347.90 L350.66,346.93 L350.81,345.95 L350.95,344.98 L351.10,344.00Z" fill="#e4e4e4" stroke="#8c8c8c" stroke-width="0.6"/>
<path d="M374.70,346.00 L374.92,347.11 L375.14,348.22 L375.37,349.33 L375.59,350.44 L375.87,351.55 L376.20,352.66 L376.53,353.77 L376.86,354.88 L377.20,355.99 L377.64,357.10 L378.08,358.21 L378.53,359.32 L378.97,360.43 L379.47,361.54 L380.02,362.65 L380.58,363.76 L381.13,364.87 L381.69,365.98 L382.18,367.09 L382.66,368.20 L383.15,369.31 L383.64,370.42 L384.13,371.53 L383.76,372.64 L383.23,373.75 L382.71,374.86 L382.19,375.97 L381.65,377.08 L380.99,378.19 L380.32,379.30 L379.65,380.41 L378.99,381.52 L378.31,382.63 L377.61,383.74 L376.92,384.85 L376.23,385.96 L375.81,387.07 L375.41,388.18 L375.00,389.29 L374.60,390.40 L373.80,390.40 L373.40,389.29 L372.99,388.18 L372.59,387.07 L372.17,385.96 L371.48,384.85 L370.79,383.74 L370.09,382.63 L369.41,381.52 L368.75,380.41 L368.08,379.30 L367.41,378.19 L366.75,377.08 L366.21,375.97 L365.69,374.86 L365.17,373.75 L364.64,372.64 L364.27,371.53 L364.76,370.42 L365.25,369.31 L365.74,368.20 L366.22,367.09 L366.71,365.98 L367.26,364.87 L367.82,363.76 L368.38,362.65 L368.93,361.54 L369.43,360.43 L369.87,359.32 L370.32,358.21 L370.76,357.10 L371.20,355.99 L371.54,354.88 L371.87,353.77 L372.20,352.66 L372.53,351.55 L372.81,350.44 L373.03,349.33 L373.26,348.22 L373.48,347.11 L373.70,346.00Z" fill="#cc1a1a" stroke="#b01515" stroke-width="0.6"/>
<line x1="346.6" y1="366.8" x2="356.6" y2="366.8" stroke="#111" stroke-width="2.1"/>
<line x1="369.2" y1="371.7" x2="379.2" y2="371.7" stroke="#111" stroke-width="2.1"/>
<path d="M338.5,309 L338.5,401.2 L387,401.2" fill="none" stroke="#231f20" stroke-width="1"/>
<line x1="363.4" y1="401.2" x2="363.4" y2="403.8" stroke="#231f20" stroke-width="0.8"/>
<line x1="334.5" y1="318.5" x2="338.5" y2="318.5" stroke="#231f20" stroke-width="0.9"/>
<text x="332.4" y="321.3" font-size="8" fill="#231f20" stroke="#231f20" stroke-width="0.22" text-anchor="end" font-weight="normal" >0.3</text>
<line x1="334.5" y1="337" x2="338.5" y2="337" stroke="#231f20" stroke-width="0.9"/>
<text x="332.4" y="339.8" font-size="8" fill="#231f20" stroke="#231f20" stroke-width="0.22" text-anchor="end" font-weight="normal" >0.2</text>
<line x1="334.5" y1="354.7" x2="338.5" y2="354.7" stroke="#231f20" stroke-width="0.9"/>
<text x="332.4" y="357.5" font-size="8" fill="#231f20" stroke="#231f20" stroke-width="0.22" text-anchor="end" font-weight="normal" >0.1</text>
<line x1="334.5" y1="372.7" x2="338.5" y2="372.7" stroke="#231f20" stroke-width="0.9"/>
<text x="332.4" y="375.5" font-size="8" fill="#231f20" stroke="#231f20" stroke-width="0.22" text-anchor="end" font-weight="normal" >0.0</text>
<line x1="334.5" y1="390.5" x2="338.5" y2="390.5" stroke="#231f20" stroke-width="0.9"/>
<text x="332.4" y="393.3" font-size="8" fill="#231f20" stroke="#231f20" stroke-width="0.22" text-anchor="end" font-weight="normal" >−0.1</text>
<text x="347" y="295" font-size="8.3" fill="#231f20" stroke="#231f20" stroke-width="0.22" text-anchor="start" font-weight="normal" textLength="32" lengthAdjust="spacingAndGlyphs" >MECOM</text>
<text x="337.3" y="304.6" font-size="8.3" fill="#231f20" stroke="#231f20" stroke-width="0.22" text-anchor="start" font-weight="normal" textLength="52.4" lengthAdjust="spacingAndGlyphs" >Gene Network</text>
<text x="342.6" y="414" font-size="8.2" fill="#231f20" stroke="#231f20" stroke-width="0.22" text-anchor="start" font-weight="normal" textLength="41.5" lengthAdjust="spacingAndGlyphs" ><tspan font-style="italic">P</tspan> = 3.3e-49</text>
<text transform="translate(311.2,354.6) rotate(-90)" font-size="8.6" fill="#231f20" stroke="#231f20" stroke-width="0.2" text-anchor="middle" textLength="51.8" lengthAdjust="spacingAndGlyphs">Signature score</text>
<rect x="408.6" y="20.2" width="8.2" height="36.3" fill="#2b2f7e"/>
<text transform="translate(415.2,38.4) rotate(-90)" font-size="6.4" fill="#fff" stroke="#fff" stroke-width="0.15" text-anchor="middle" textLength="19.3" lengthAdjust="spacingAndGlyphs">MLLT3</text>
<rect x="408.6" y="61.5" width="8.2" height="24.2" fill="#2e8b3a"/>
<text transform="translate(415.2,73.6) rotate(-90)" font-size="6.4" fill="#fff" stroke="#fff" stroke-width="0.15" text-anchor="middle" textLength="19.3" lengthAdjust="spacingAndGlyphs">MLLT4</text>
<rect x="408.6" y="89.2" width="8.2" height="30.2" fill="#7e2a90"/>
<text transform="translate(415.2,104.3) rotate(-90)" font-size="6.4" fill="#fff" stroke="#fff" stroke-width="0.15" text-anchor="middle" textLength="23" lengthAdjust="spacingAndGlyphs">MLLT10</text>
<rect x="408.6" y="121.8" width="8.2" height="36.4" fill="#ee8a1e"/>
<text transform="translate(415.2,140.0) rotate(-90)" font-size="6.4" fill="#fff" stroke="#fff" stroke-width="0.15" text-anchor="middle" textLength="29.8" lengthAdjust="spacingAndGlyphs">Other MLL</text>
<rect x="421.4" y="20.2" width="7.5" height="7.3" fill="#b5140f"/>
<circle cx="436.7" cy="23.8" r="2.35" fill="#1f6fc5"/>
<text x="442.5" y="26.3" font-size="7.9" fill="#231f20" stroke="#231f20" stroke-width="0.22" text-anchor="start" font-weight="normal" textLength="40.6" lengthAdjust="spacingAndGlyphs" >PAVJXG (1)</text>
<rect x="421.4" y="30.1" width="7.5" height="7.3" fill="#b5140f"/>
<circle cx="436.7" cy="33.7" r="2.35" fill="#2b3590"/>
<text x="442.5" y="36.2" font-size="7.9" fill="#231f20" stroke="#231f20" stroke-width="0.22" text-anchor="start" font-weight="normal" textLength="44.4" lengthAdjust="spacingAndGlyphs" >PAWNYX (2)</text>
<rect x="421.4" y="39.6" width="7.5" height="7.3" fill="#b5140f"/>
<circle cx="436.7" cy="43.2" r="2.35" fill="#b3d3dc"/>
<text x="442.5" y="45.7" font-size="7.9" fill="#231f20" stroke="#231f20" stroke-width="0.22" text-anchor="start" font-weight="normal" textLength="42.5" lengthAdjust="spacingAndGlyphs" >PAWRVC (3)</text>
<rect x="421.4" y="49.3" width="7.5" height="7.3" fill="#d6d6d6"/>
<circle cx="436.7" cy="52.9" r="2.35" fill="#1b6a7a"/>
<text x="442.5" y="55.4" font-size="7.9" fill="#231f20" stroke="#231f20" stroke-width="0.22" text-anchor="start" font-weight="normal" textLength="42" lengthAdjust="spacingAndGlyphs" >PAWTSD (4)</text>
<rect x="421.4" y="64.6" width="7.5" height="7.3" fill="#b5140f"/>
<circle cx="436.7" cy="68.2" r="2.35" fill="#1e8a3e"/>
<text x="442.5" y="70.7" font-size="7.9" fill="#231f20" stroke="#231f20" stroke-width="0.22" text-anchor="start" font-weight="normal" textLength="43.5" lengthAdjust="spacingAndGlyphs" >PAUWUZ (5)</text>
<rect x="421.4" y="74.4" width="7.5" height="7.3" fill="#b5140f"/>
<circle cx="436.7" cy="78.0" r="2.35" fill="#8ab52e"/>
<text x="442.5" y="80.5" font-size="7.9" fill="#231f20" stroke="#231f20" stroke-width="0.22" text-anchor="start" font-weight="normal" textLength="40" lengthAdjust="spacingAndGlyphs" >PAVDYE (6)</text>
<rect x="421.4" y="96.1" width="7.5" height="7.3" fill="#d6d6d6"/>
<circle cx="436.7" cy="99.7" r="2.35" fill="#b0457a"/>
<text x="442.5" y="102.2" font-size="7.9" fill="#231f20" stroke="#231f20" stroke-width="0.22" text-anchor="start" font-weight="normal" textLength="43" lengthAdjust="spacingAndGlyphs" >PAWUAE (7)</text>
<rect x="421.4" y="105.6" width="7.5" height="7.3" fill="#d6d6d6"/>
<circle cx="436.7" cy="109.2" r="2.35" fill="#5b4a6e"/>
<text x="442.5" y="111.7" font-size="7.9" fill="#231f20" stroke="#231f20" stroke-width="0.22" text-anchor="start" font-weight="normal" textLength="47" lengthAdjust="spacingAndGlyphs" >PAWWCW (8)</text>
<rect x="421.4" y="125.4" width="7.5" height="7.3" fill="#d6d6d6"/>
<circle cx="436.7" cy="129.0" r="2.35" fill="#f29422"/>
<text x="442.5" y="131.5" font-size="7.9" fill="#231f20" stroke="#231f20" stroke-width="0.22" text-anchor="start" font-weight="normal" textLength="42.5" lengthAdjust="spacingAndGlyphs" >PAWHKK (9)</text>
<rect x="421.4" y="135.3" width="7.5" height="7.3" fill="#d6d6d6"/>
<circle cx="436.7" cy="138.9" r="2.35" fill="#f5c52a"/>
<text x="442.5" y="141.4" font-size="7.9" fill="#231f20" stroke="#231f20" stroke-width="0.22" text-anchor="start" font-weight="normal" textLength="46" lengthAdjust="spacingAndGlyphs" >PAWNPU (10)</text>
<rect x="421.4" y="145.5" width="7.5" height="7.3" fill="#d6d6d6"/>
<circle cx="436.7" cy="149.1" r="2.35" fill="#a3172b"/>
<text x="442.5" y="151.6" font-size="7.9" fill="#231f20" stroke="#231f20" stroke-width="0.22" text-anchor="start" font-weight="normal" textLength="40.5" lengthAdjust="spacingAndGlyphs" >PAULSL (11)</text>
<rect x="408.6" y="164.1" width="8.4" height="7.9" fill="#b5140f"/>
<text x="420.9" y="170.9" font-size="8.1" fill="#231f20" stroke="#231f20" stroke-width="0.22" text-anchor="start" font-weight="normal" textLength="71.9" lengthAdjust="spacingAndGlyphs" >MECOM expression</text>
<rect x="408.6" y="175.1" width="8.4" height="7.4" fill="#d6d6d6"/>
<text x="420.9" y="182.1" font-size="8.1" fill="#231f20" stroke="#231f20" stroke-width="0.22" text-anchor="start" font-weight="normal" textLength="85.2" lengthAdjust="spacingAndGlyphs" >No MECOM expression</text>
<circle cx="413" cy="201" r="2.3" fill="#e3a02e"/>
<text x="420.9" y="203.8" font-size="8.1" fill="#231f20" stroke="#231f20" stroke-width="0.22" text-anchor="start" font-weight="normal" textLength="71.3" lengthAdjust="spacingAndGlyphs" >HSC signature gene</text>
<circle cx="413" cy="214.8" r="2.3" fill="#3a6fc0"/>
<text x="420.9" y="217.60000000000002" font-size="8.1" fill="#231f20" stroke="#231f20" stroke-width="0.22" text-anchor="start" font-weight="normal" textLength="92" lengthAdjust="spacingAndGlyphs" >Monocyte signature gene</text>
<circle cx="413" cy="228.1" r="2.3" fill="#cf1f1f"/>
<text x="420.9" y="230.9" font-size="8.1" fill="#231f20" stroke="#231f20" stroke-width="0.22" text-anchor="start" font-weight="normal" textLength="83.1" lengthAdjust="spacingAndGlyphs" >MECOM gene network</text>
<text x="409" y="263.3" font-size="8.1" fill="#231f20" stroke="#231f20" stroke-width="0.22" text-anchor="start" font-weight="normal" textLength="63.1" lengthAdjust="spacingAndGlyphs" >Difference in cells</text>
<text x="409" y="271.3" font-size="8.1" fill="#231f20" stroke="#231f20" stroke-width="0.22" text-anchor="start" font-weight="normal" textLength="58.7" lengthAdjust="spacingAndGlyphs" >expressing gene</text>
<circle cx="411.2" cy="282" r="1.7" fill="#111"/>
<text x="417.7" y="284.7" font-size="8.1" fill="#231f20" stroke="#231f20" stroke-width="0.22" text-anchor="start" font-weight="normal" textLength="14.7" lengthAdjust="spacingAndGlyphs" >10%</text>
<circle cx="411.2" cy="297.3" r="2.2" fill="#111"/>
<text x="417.7" y="300.0" font-size="8.1" fill="#231f20" stroke="#231f20" stroke-width="0.22" text-anchor="start" font-weight="normal" textLength="14.7" lengthAdjust="spacingAndGlyphs" >30%</text>
<circle cx="411.2" cy="312.3" r="2.7" fill="#111"/>
<text x="417.7" y="315.0" font-size="8.1" fill="#231f20" stroke="#231f20" stroke-width="0.22" text-anchor="start" font-weight="normal" textLength="14.7" lengthAdjust="spacingAndGlyphs" >50%</text>
<defs><filter id="bl2" x="-50%" y="-50%" width="200%" height="200%"><feGaussianBlur stdDeviation="2"/></filter><filter id="bl4" x="-50%" y="-50%" width="200%" height="200%"><feGaussianBlur stdDeviation="4"/></filter></defs>
<g filter="url(#bl4)"><path d="M94,505 L99,505 L140,572 L65,572Z" fill="#f3f3f3"/></g>
<g filter="url(#bl2)"><path d="M95,535 L102.5,537 L124,572 L79,572Z" fill="#dedede"/><path d="M94.5,533 L98,533 L102.5,572 L82,572Z" fill="#b2b2b2"/><ellipse cx="99.5" cy="571.2" rx="20.5" ry="1.8" fill="#b2b2b2"/></g>
<g fill="#9a9a9a" fill-opacity="0.25"><circle cx="95.0" cy="567.6" r="0.6"/><circle cx="82.4" cy="556.3" r="0.6"/><circle cx="98.2" cy="565.4" r="0.6"/><circle cx="94.7" cy="569.7" r="0.6"/><circle cx="86.3" cy="556.2" r="0.6"/><circle cx="74.3" cy="572.7" r="0.6"/><circle cx="96.3" cy="569.6" r="0.6"/><circle cx="110.0" cy="568.3" r="0.6"/><circle cx="98.1" cy="573.3" r="0.6"/><circle cx="102.6" cy="558.6" r="0.6"/><circle cx="105.7" cy="564.7" r="0.6"/><circle cx="114.8" cy="572.5" r="0.6"/><circle cx="96.5" cy="567.7" r="0.6"/><circle cx="96.4" cy="561.1" r="0.6"/><circle cx="103.5" cy="572.0" r="0.6"/><circle cx="121.1" cy="561.1" r="0.6"/><circle cx="110.6" cy="571.4" r="0.6"/><circle cx="92.8" cy="566.6" r="0.6"/><circle cx="113.6" cy="572.0" r="0.6"/><circle cx="92.3" cy="553.1" r="0.6"/><circle cx="93.5" cy="560.0" r="0.6"/><circle cx="107.2" cy="572.3" r="0.6"/><circle cx="105.7" cy="572.5" r="0.6"/><circle cx="99.7" cy="567.9" r="0.6"/><circle cx="90.9" cy="573.4" r="0.6"/><circle cx="86.1" cy="571.2" r="0.6"/><circle cx="87.6" cy="563.2" r="0.6"/><circle cx="97.2" cy="569.5" r="0.6"/><circle cx="122.9" cy="566.1" r="0.6"/><circle cx="108.1" cy="573.3" r="0.6"/><circle cx="97.1" cy="565.1" r="0.6"/><circle cx="94.4" cy="564.1" r="0.6"/><circle cx="94.6" cy="570.7" r="0.6"/><circle cx="95.2" cy="573.1" r="0.6"/><circle cx="103.9" cy="572.2" r="0.6"/><circle cx="94.1" cy="565.0" r="0.6"/><circle cx="102.9" cy="557.5" r="0.6"/><circle cx="92.1" cy="570.8" r="0.6"/><circle cx="96.9" cy="569.0" r="0.6"/><circle cx="91.2" cy="565.2" r="0.6"/><circle cx="97.7" cy="563.9" r="0.6"/><circle cx="94.4" cy="556.0" r="0.6"/><circle cx="86.7" cy="572.8" r="0.6"/><circle cx="105.6" cy="558.4" r="0.6"/><circle cx="109.4" cy="570.9" r="0.6"/><circle cx="89.1" cy="571.2" r="0.6"/><circle cx="98.1" cy="571.1" r="0.6"/><circle cx="100.5" cy="572.4" r="0.6"/><circle cx="102.3" cy="566.4" r="0.6"/><circle cx="95.8" cy="573.1" r="0.6"/><circle cx="91.0" cy="547.6" r="0.6"/><circle cx="93.4" cy="571.8" r="0.6"/><circle cx="101.7" cy="568.0" r="0.6"/><circle cx="84.5" cy="570.1" r="0.6"/><circle cx="98.8" cy="573.1" r="0.6"/><circle cx="94.5" cy="569.3" r="0.6"/><circle cx="106.5" cy="562.5" r="0.6"/><circle cx="104.8" cy="555.5" r="0.6"/><circle cx="97.2" cy="567.5" r="0.6"/><circle cx="90.6" cy="570.0" r="0.6"/><circle cx="101.8" cy="572.4" r="0.6"/><circle cx="87.9" cy="569.8" r="0.6"/><circle cx="106.1" cy="562.0" r="0.6"/><circle cx="94.1" cy="569.4" r="0.6"/><circle cx="87.5" cy="565.6" r="0.6"/><circle cx="97.3" cy="570.3" r="0.6"/><circle cx="69.4" cy="572.5" r="0.6"/><circle cx="110.6" cy="554.2" r="0.6"/><circle cx="86.0" cy="567.5" r="0.6"/><circle cx="96.0" cy="572.8" r="0.6"/><circle cx="100.9" cy="571.5" r="0.6"/><circle cx="72.5" cy="570.7" r="0.6"/><circle cx="98.4" cy="564.2" r="0.6"/><circle cx="79.6" cy="566.9" r="0.6"/><circle cx="85.6" cy="564.9" r="0.6"/><circle cx="110.3" cy="571.4" r="0.6"/><circle cx="98.2" cy="569.4" r="0.6"/><circle cx="77.6" cy="571.3" r="0.6"/><circle cx="90.1" cy="556.0" r="0.6"/><circle cx="82.5" cy="573.3" r="0.6"/><circle cx="95.9" cy="568.7" r="0.6"/><circle cx="113.3" cy="569.7" r="0.6"/><circle cx="85.6" cy="563.3" r="0.6"/><circle cx="78.9" cy="570.8" r="0.6"/><circle cx="94.4" cy="567.2" r="0.6"/><circle cx="73.6" cy="570.8" r="0.6"/><circle cx="105.9" cy="562.3" r="0.6"/><circle cx="89.2" cy="551.1" r="0.6"/><circle cx="87.3" cy="554.7" r="0.6"/><circle cx="94.3" cy="572.3" r="0.6"/><circle cx="106.0" cy="562.6" r="0.6"/><circle cx="91.4" cy="566.4" r="0.6"/><circle cx="95.2" cy="565.8" r="0.6"/><circle cx="89.9" cy="564.3" r="0.6"/><circle cx="90.1" cy="568.2" r="0.6"/><circle cx="86.1" cy="567.6" r="0.6"/><circle cx="85.5" cy="564.5" r="0.6"/><circle cx="80.7" cy="573.2" r="0.6"/><circle cx="79.2" cy="572.4" r="0.6"/><circle cx="102.4" cy="571.9" r="0.6"/><circle cx="93.9" cy="566.5" r="0.6"/><circle cx="93.5" cy="569.6" r="0.6"/><circle cx="102.2" cy="571.9" r="0.6"/><circle cx="98.2" cy="571.1" r="0.6"/><circle cx="97.2" cy="572.2" r="0.6"/><circle cx="98.9" cy="569.7" r="0.6"/><circle cx="83.9" cy="570.5" r="0.6"/><circle cx="85.4" cy="571.8" r="0.6"/><circle cx="104.7" cy="559.4" r="0.6"/><circle cx="96.1" cy="571.4" r="0.6"/><circle cx="112.7" cy="570.2" r="0.6"/><circle cx="110.8" cy="570.6" r="0.6"/><circle cx="91.7" cy="573.2" r="0.6"/><circle cx="92.7" cy="568.7" r="0.6"/><circle cx="69.6" cy="570.9" r="0.6"/><circle cx="84.1" cy="563.2" r="0.6"/><circle cx="102.5" cy="570.2" r="0.6"/><circle cx="80.2" cy="570.6" r="0.6"/><circle cx="82.8" cy="572.5" r="0.6"/><circle cx="90.8" cy="554.6" r="0.6"/><circle cx="91.2" cy="552.8" r="0.6"/><circle cx="90.9" cy="560.0" r="0.6"/><circle cx="108.8" cy="573.4" r="0.6"/><circle cx="104.9" cy="567.7" r="0.6"/><circle cx="78.0" cy="572.5" r="0.6"/><circle cx="77.8" cy="570.6" r="0.6"/><circle cx="97.4" cy="570.0" r="0.6"/><circle cx="101.2" cy="551.9" r="0.6"/><circle cx="121.5" cy="570.5" r="0.6"/><circle cx="90.1" cy="568.0" r="0.6"/><circle cx="110.2" cy="571.6" r="0.6"/><circle cx="94.4" cy="570.2" r="0.6"/><circle cx="109.9" cy="571.1" r="0.6"/><circle cx="94.6" cy="571.4" r="0.6"/><circle cx="107.6" cy="569.5" r="0.6"/><circle cx="107.3" cy="569.9" r="0.6"/><circle cx="100.5" cy="571.3" r="0.6"/><circle cx="72.7" cy="573.3" r="0.6"/><circle cx="92.0" cy="568.9" r="0.6"/><circle cx="119.2" cy="564.3" r="0.6"/><circle cx="95.2" cy="571.7" r="0.6"/><circle cx="98.7" cy="546.5" r="0.6"/><circle cx="85.3" cy="571.3" r="0.6"/><circle cx="88.2" cy="567.2" r="0.6"/><circle cx="95.8" cy="567.9" r="0.6"/><circle cx="90.9" cy="564.9" r="0.6"/><circle cx="85.3" cy="571.3" r="0.6"/><circle cx="93.7" cy="571.3" r="0.6"/><circle cx="85.5" cy="568.9" r="0.6"/><circle cx="98.2" cy="565.2" r="0.6"/><circle cx="104.3" cy="568.1" r="0.6"/><circle cx="98.0" cy="569.8" r="0.6"/><circle cx="103.9" cy="558.6" r="0.6"/><circle cx="85.7" cy="573.3" r="0.6"/><circle cx="84.2" cy="564.4" r="0.6"/><circle cx="102.0" cy="566.0" r="0.6"/><circle cx="72.0" cy="567.4" r="0.6"/><circle cx="99.0" cy="570.5" r="0.6"/><circle cx="100.7" cy="570.4" r="0.6"/><circle cx="89.6" cy="571.3" r="0.6"/><circle cx="112.7" cy="562.8" r="0.6"/><circle cx="104.1" cy="566.3" r="0.6"/><circle cx="91.4" cy="570.0" r="0.6"/><circle cx="110.3" cy="559.0" r="0.6"/><circle cx="80.4" cy="572.5" r="0.6"/><circle cx="98.0" cy="569.3" r="0.6"/><circle cx="105.1" cy="571.0" r="0.6"/><circle cx="106.6" cy="563.4" r="0.6"/><circle cx="98.9" cy="573.0" r="0.6"/><circle cx="114.2" cy="564.0" r="0.6"/><circle cx="113.1" cy="566.9" r="0.6"/><circle cx="97.5" cy="550.4" r="0.6"/><circle cx="95.9" cy="535.2" r="0.6"/><circle cx="93.2" cy="562.4" r="0.6"/><circle cx="77.5" cy="571.9" r="0.6"/><circle cx="75.5" cy="566.0" r="0.6"/><circle cx="88.6" cy="572.5" r="0.6"/><circle cx="122.8" cy="572.4" r="0.6"/><circle cx="90.4" cy="567.8" r="0.6"/><circle cx="99.4" cy="567.6" r="0.6"/><circle cx="105.6" cy="573.1" r="0.6"/><circle cx="103.7" cy="573.0" r="0.6"/><circle cx="77.5" cy="573.0" r="0.6"/><circle cx="89.3" cy="560.8" r="0.6"/><circle cx="86.1" cy="572.5" r="0.6"/><circle cx="100.0" cy="567.9" r="0.6"/><circle cx="106.3" cy="569.4" r="0.6"/><circle cx="91.4" cy="573.1" r="0.6"/><circle cx="104.7" cy="566.3" r="0.6"/><circle cx="109.2" cy="569.2" r="0.6"/><circle cx="85.0" cy="559.0" r="0.6"/><circle cx="90.3" cy="571.6" r="0.6"/><circle cx="95.5" cy="568.6" r="0.6"/><circle cx="115.0" cy="569.1" r="0.6"/><circle cx="97.2" cy="572.5" r="0.6"/><circle cx="105.9" cy="565.4" r="0.6"/><circle cx="91.9" cy="572.2" r="0.6"/><circle cx="78.1" cy="572.9" r="0.6"/><circle cx="100.7" cy="566.8" r="0.6"/><circle cx="99.1" cy="568.0" r="0.6"/><circle cx="106.0" cy="571.8" r="0.6"/><circle cx="86.4" cy="571.1" r="0.6"/><circle cx="111.6" cy="563.9" r="0.6"/><circle cx="99.7" cy="573.1" r="0.6"/><circle cx="114.0" cy="572.4" r="0.6"/><circle cx="90.5" cy="571.9" r="0.6"/><circle cx="114.2" cy="572.7" r="0.6"/><circle cx="93.6" cy="563.1" r="0.6"/><circle cx="87.7" cy="572.5" r="0.6"/><circle cx="87.9" cy="571.8" r="0.6"/><circle cx="87.6" cy="571.0" r="0.6"/><circle cx="88.8" cy="570.5" r="0.6"/><circle cx="104.8" cy="572.5" r="0.6"/><circle cx="83.6" cy="563.6" r="0.6"/><circle cx="104.4" cy="570.0" r="0.6"/><circle cx="85.2" cy="568.0" r="0.6"/><circle cx="95.3" cy="568.3" r="0.6"/><circle cx="83.4" cy="572.8" r="0.6"/><circle cx="97.1" cy="573.2" r="0.6"/><circle cx="98.4" cy="560.3" r="0.6"/><circle cx="96.0" cy="569.5" r="0.6"/><circle cx="95.7" cy="569.6" r="0.6"/><circle cx="89.2" cy="560.2" r="0.6"/><circle cx="87.6" cy="569.7" r="0.6"/><circle cx="100.2" cy="572.8" r="0.6"/><circle cx="101.8" cy="570.6" r="0.6"/><circle cx="101.0" cy="570.5" r="0.6"/><circle cx="91.2" cy="571.6" r="0.6"/><circle cx="101.3" cy="571.5" r="0.6"/><circle cx="104.6" cy="571.8" r="0.6"/><circle cx="121.7" cy="569.5" r="0.6"/><circle cx="101.4" cy="570.6" r="0.6"/><circle cx="91.6" cy="556.8" r="0.6"/><circle cx="80.0" cy="569.6" r="0.6"/><circle cx="104.3" cy="556.0" r="0.6"/><circle cx="108.2" cy="571.3" r="0.6"/><circle cx="95.2" cy="566.7" r="0.6"/><circle cx="88.7" cy="572.1" r="0.6"/><circle cx="96.6" cy="573.2" r="0.6"/><circle cx="100.7" cy="570.3" r="0.6"/><circle cx="92.4" cy="551.7" r="0.6"/><circle cx="103.6" cy="569.6" r="0.6"/><circle cx="93.9" cy="571.4" r="0.6"/><circle cx="76.4" cy="572.3" r="0.6"/><circle cx="82.3" cy="571.8" r="0.6"/><circle cx="73.2" cy="567.2" r="0.6"/><circle cx="97.3" cy="570.0" r="0.6"/><circle cx="95.8" cy="573.0" r="0.6"/><circle cx="93.4" cy="564.4" r="0.6"/><circle cx="97.8" cy="568.6" r="0.6"/><circle cx="91.8" cy="546.1" r="0.6"/><circle cx="94.6" cy="572.8" r="0.6"/><circle cx="107.8" cy="573.0" r="0.6"/><circle cx="90.6" cy="557.0" r="0.6"/><circle cx="96.2" cy="573.1" r="0.6"/><circle cx="99.8" cy="570.4" r="0.6"/><circle cx="95.6" cy="573.0" r="0.6"/><circle cx="108.3" cy="571.2" r="0.6"/><circle cx="128.8" cy="573.1" r="0.6"/></g>
<circle cx="114" cy="521.6" r="2.2" fill="#eba21f"/>
<circle cx="110.2" cy="525.2" r="1.8" fill="#eba21f"/>
<circle cx="97.3" cy="541.6" r="1.5" fill="#eba21f"/>
<circle cx="98.7" cy="545.2" r="2" fill="#eba21f"/>
<circle cx="107.1" cy="543.2" r="1.3" fill="#eba21f"/>
<circle cx="108.7" cy="546.5" r="2" fill="#eba21f"/>
<circle cx="107.7" cy="556.3" r="2" fill="#eba21f"/>
<circle cx="117.2" cy="556.6" r="1.8" fill="#eba21f"/>
<circle cx="106.3" cy="562.8" r="1.6" fill="#eba21f"/>
<circle cx="109" cy="565.8" r="1.5" fill="#eba21f"/>
<circle cx="90.2" cy="568.9" r="1.8" fill="#eba21f"/>
<circle cx="85.3" cy="571" r="1.2" fill="#eba21f"/>
<circle cx="96" cy="570.5" r="1.5" fill="#eba21f"/>
<circle cx="103.3" cy="571.8" r="1.8" fill="#eba21f"/>
<circle cx="98.9" cy="571" r="1.3" fill="#eba21f"/>
<circle cx="82.9" cy="565.3" r="1" fill="#eba21f"/>
<circle cx="133.2" cy="507.7" r="2.2" fill="#a51c24"/>
<text x="114.19999999999999" y="502.4" font-size="8.2" fill="#9e2a30" stroke="#9e2a30" stroke-width="0.22" text-anchor="start" font-weight="normal" textLength="31.8" lengthAdjust="spacingAndGlyphs" >MECOM</text>
<path d="M49.2,461.5 L49.2,578.3 L157.7,578.3" fill="none" stroke="#231f20" stroke-width="1.1"/>
<line x1="45.2" y1="466.7" x2="49.2" y2="466.7" stroke="#231f20" stroke-width="0.9"/>
<text x="43.6" y="469.3" font-size="7.8" fill="#231f20" stroke="#231f20" stroke-width="0.22" text-anchor="end" font-weight="normal" textLength="13.2" lengthAdjust="spacingAndGlyphs" >250</text>
<line x1="45.2" y1="488.0" x2="49.2" y2="488.0" stroke="#231f20" stroke-width="0.9"/>
<text x="43.6" y="490.6" font-size="7.8" fill="#231f20" stroke="#231f20" stroke-width="0.22" text-anchor="end" font-weight="normal" textLength="13.2" lengthAdjust="spacingAndGlyphs" >200</text>
<line x1="45.2" y1="509.4" x2="49.2" y2="509.4" stroke="#231f20" stroke-width="0.9"/>
<text x="43.6" y="512.0" font-size="7.8" fill="#231f20" stroke="#231f20" stroke-width="0.22" text-anchor="end" font-weight="normal" textLength="13.2" lengthAdjust="spacingAndGlyphs" >150</text>
<line x1="45.2" y1="530.7" x2="49.2" y2="530.7" stroke="#231f20" stroke-width="0.9"/>
<text x="43.6" y="533.3" font-size="7.8" fill="#231f20" stroke="#231f20" stroke-width="0.22" text-anchor="end" font-weight="normal" textLength="13.2" lengthAdjust="spacingAndGlyphs" >100</text>
<line x1="45.2" y1="552.1" x2="49.2" y2="552.1" stroke="#231f20" stroke-width="0.9"/>
<text x="43.6" y="554.7" font-size="7.8" fill="#231f20" stroke="#231f20" stroke-width="0.22" text-anchor="end" font-weight="normal" textLength="9" lengthAdjust="spacingAndGlyphs" >50</text>
<line x1="45.2" y1="573.4" x2="49.2" y2="573.4" stroke="#231f20" stroke-width="0.9"/>
<text x="43.6" y="576.0" font-size="7.8" fill="#231f20" stroke="#231f20" stroke-width="0.22" text-anchor="end" font-weight="normal" textLength="4" lengthAdjust="spacingAndGlyphs" >0</text>
<line x1="54.0" y1="578.3" x2="54.0" y2="581.3" stroke="#231f20" stroke-width="0.9"/>
<text x="54.0" y="591.2" font-size="8" fill="#231f20" stroke="#231f20" stroke-width="0.22" text-anchor="middle" font-weight="normal" >−10</text>
<line x1="78.8" y1="578.3" x2="78.8" y2="581.3" stroke="#231f20" stroke-width="0.9"/>
<text x="78.8" y="591.2" font-size="8" fill="#231f20" stroke="#231f20" stroke-width="0.22" text-anchor="middle" font-weight="normal" >−5</text>
<line x1="103.5" y1="578.3" x2="103.5" y2="581.3" stroke="#231f20" stroke-width="0.9"/>
<text x="103.5" y="591.2" font-size="8" fill="#231f20" stroke="#231f20" stroke-width="0.22" text-anchor="middle" font-weight="normal" >0</text>
<line x1="128.2" y1="578.3" x2="128.2" y2="581.3" stroke="#231f20" stroke-width="0.9"/>
<text x="128.2" y="591.2" font-size="8" fill="#231f20" stroke="#231f20" stroke-width="0.22" text-anchor="middle" font-weight="normal" >5</text>
<line x1="153.0" y1="578.3" x2="153.0" y2="581.3" stroke="#231f20" stroke-width="0.9"/>
<text x="153.0" y="591.2" font-size="8" fill="#231f20" stroke="#231f20" stroke-width="0.22" text-anchor="middle" font-weight="normal" >10</text>
<text x="72.7" y="456" font-size="10" fill="#231f20" stroke="#231f20" stroke-width="0.22" text-anchor="start" font-weight="normal" textLength="60.8" lengthAdjust="spacingAndGlyphs" >HSC signature</text>
<g filter="url(#bl4)"><path d="M241,500 L246,500 L287,572 L209,572Z" fill="#f5f5f5"/></g>
<g filter="url(#bl2)"><path d="M242,530 L249.5,532 L271,572 L223,572Z" fill="#e6e6e6"/><path d="M241.5,528 L245,528 L249.5,572 L226,572Z" fill="#cfcfcf"/><ellipse cx="245.0" cy="571.2" rx="22.0" ry="1.8" fill="#cfcfcf"/></g>
<g fill="#9a9a9a" fill-opacity="0.25"><circle cx="238.6" cy="569.7" r="0.6"/><circle cx="246.6" cy="561.4" r="0.6"/><circle cx="215.8" cy="573.4" r="0.6"/><circle cx="242.5" cy="572.9" r="0.6"/><circle cx="240.6" cy="568.6" r="0.6"/><circle cx="240.7" cy="570.6" r="0.6"/><circle cx="226.8" cy="566.1" r="0.6"/><circle cx="248.9" cy="572.4" r="0.6"/><circle cx="254.2" cy="571.8" r="0.6"/><circle cx="249.2" cy="558.0" r="0.6"/><circle cx="244.7" cy="568.1" r="0.6"/><circle cx="233.0" cy="565.2" r="0.6"/><circle cx="238.2" cy="572.8" r="0.6"/><circle cx="258.1" cy="565.7" r="0.6"/><circle cx="250.9" cy="570.1" r="0.6"/><circle cx="248.1" cy="572.0" r="0.6"/><circle cx="246.0" cy="571.4" r="0.6"/><circle cx="237.5" cy="560.4" r="0.6"/><circle cx="251.2" cy="560.8" r="0.6"/><circle cx="246.8" cy="569.4" r="0.6"/><circle cx="218.4" cy="573.3" r="0.6"/><circle cx="255.4" cy="572.7" r="0.6"/><circle cx="253.6" cy="568.0" r="0.6"/><circle cx="250.9" cy="559.9" r="0.6"/><circle cx="248.1" cy="572.0" r="0.6"/><circle cx="243.2" cy="568.8" r="0.6"/><circle cx="255.8" cy="573.3" r="0.6"/><circle cx="247.9" cy="558.2" r="0.6"/><circle cx="229.5" cy="570.1" r="0.6"/><circle cx="253.7" cy="572.8" r="0.6"/><circle cx="250.2" cy="568.2" r="0.6"/><circle cx="251.6" cy="554.4" r="0.6"/><circle cx="226.8" cy="573.1" r="0.6"/><circle cx="237.2" cy="572.4" r="0.6"/><circle cx="285.8" cy="571.5" r="0.6"/><circle cx="241.6" cy="572.6" r="0.6"/><circle cx="250.4" cy="566.1" r="0.6"/><circle cx="240.5" cy="567.8" r="0.6"/><circle cx="230.4" cy="573.1" r="0.6"/><circle cx="255.4" cy="568.1" r="0.6"/><circle cx="251.0" cy="564.5" r="0.6"/><circle cx="247.4" cy="561.5" r="0.6"/><circle cx="232.2" cy="568.2" r="0.6"/><circle cx="244.6" cy="547.9" r="0.6"/><circle cx="262.9" cy="568.3" r="0.6"/><circle cx="245.5" cy="571.0" r="0.6"/><circle cx="245.9" cy="570.0" r="0.6"/><circle cx="255.7" cy="571.1" r="0.6"/><circle cx="239.0" cy="572.8" r="0.6"/><circle cx="239.6" cy="564.2" r="0.6"/><circle cx="247.4" cy="573.2" r="0.6"/><circle cx="222.5" cy="569.3" r="0.6"/><circle cx="243.2" cy="566.0" r="0.6"/><circle cx="262.2" cy="570.1" r="0.6"/><circle cx="255.1" cy="571.8" r="0.6"/><circle cx="240.3" cy="570.6" r="0.6"/><circle cx="233.7" cy="561.7" r="0.6"/><circle cx="256.5" cy="572.3" r="0.6"/><circle cx="242.8" cy="562.3" r="0.6"/><circle cx="245.0" cy="551.3" r="0.6"/><circle cx="277.2" cy="572.3" r="0.6"/><circle cx="232.3" cy="567.8" r="0.6"/><circle cx="251.1" cy="573.3" r="0.6"/><circle cx="246.0" cy="570.5" r="0.6"/><circle cx="253.1" cy="567.7" r="0.6"/><circle cx="240.6" cy="572.5" r="0.6"/><circle cx="246.1" cy="568.5" r="0.6"/><circle cx="246.6" cy="568.5" r="0.6"/><circle cx="253.6" cy="566.3" r="0.6"/><circle cx="247.6" cy="566.1" r="0.6"/><circle cx="227.3" cy="564.8" r="0.6"/><circle cx="260.4" cy="572.3" r="0.6"/><circle cx="245.9" cy="565.9" r="0.6"/><circle cx="219.5" cy="569.3" r="0.6"/><circle cx="257.7" cy="572.8" r="0.6"/><circle cx="247.6" cy="572.3" r="0.6"/><circle cx="259.5" cy="567.5" r="0.6"/><circle cx="253.8" cy="571.9" r="0.6"/><circle cx="249.3" cy="573.3" r="0.6"/><circle cx="254.1" cy="568.5" r="0.6"/><circle cx="249.3" cy="570.5" r="0.6"/><circle cx="250.6" cy="555.9" r="0.6"/><circle cx="245.6" cy="568.8" r="0.6"/><circle cx="242.7" cy="543.6" r="0.6"/><circle cx="232.7" cy="560.3" r="0.6"/><circle cx="239.2" cy="568.8" r="0.6"/><circle cx="254.1" cy="559.0" r="0.6"/><circle cx="249.5" cy="568.7" r="0.6"/><circle cx="240.0" cy="571.3" r="0.6"/><circle cx="223.2" cy="572.7" r="0.6"/><circle cx="231.2" cy="566.2" r="0.6"/><circle cx="246.6" cy="567.3" r="0.6"/><circle cx="233.3" cy="573.1" r="0.6"/><circle cx="237.8" cy="560.8" r="0.6"/><circle cx="251.8" cy="571.8" r="0.6"/><circle cx="227.1" cy="567.5" r="0.6"/><circle cx="254.8" cy="560.9" r="0.6"/><circle cx="246.3" cy="567.7" r="0.6"/><circle cx="239.6" cy="566.6" r="0.6"/><circle cx="245.6" cy="572.1" r="0.6"/><circle cx="244.7" cy="567.8" r="0.6"/><circle cx="247.0" cy="570.8" r="0.6"/><circle cx="240.4" cy="569.6" r="0.6"/><circle cx="242.5" cy="564.5" r="0.6"/><circle cx="243.3" cy="571.0" r="0.6"/><circle cx="242.1" cy="555.0" r="0.6"/><circle cx="275.3" cy="568.1" r="0.6"/><circle cx="238.9" cy="562.7" r="0.6"/><circle cx="237.7" cy="572.7" r="0.6"/><circle cx="248.9" cy="564.4" r="0.6"/><circle cx="244.1" cy="572.1" r="0.6"/><circle cx="249.0" cy="572.6" r="0.6"/><circle cx="250.4" cy="556.8" r="0.6"/><circle cx="241.5" cy="565.3" r="0.6"/><circle cx="232.0" cy="569.6" r="0.6"/><circle cx="241.6" cy="567.4" r="0.6"/><circle cx="242.4" cy="571.8" r="0.6"/><circle cx="257.9" cy="572.1" r="0.6"/><circle cx="245.3" cy="569.9" r="0.6"/><circle cx="242.1" cy="572.7" r="0.6"/><circle cx="250.0" cy="563.8" r="0.6"/><circle cx="245.5" cy="562.0" r="0.6"/><circle cx="243.7" cy="567.8" r="0.6"/><circle cx="247.2" cy="571.5" r="0.6"/><circle cx="253.2" cy="571.3" r="0.6"/><circle cx="217.2" cy="564.2" r="0.6"/><circle cx="258.9" cy="559.5" r="0.6"/><circle cx="235.9" cy="558.3" r="0.6"/><circle cx="247.8" cy="552.9" r="0.6"/><circle cx="249.0" cy="571.7" r="0.6"/><circle cx="232.8" cy="567.9" r="0.6"/><circle cx="243.5" cy="562.6" r="0.6"/><circle cx="245.4" cy="570.4" r="0.6"/><circle cx="252.0" cy="569.7" r="0.6"/><circle cx="232.2" cy="567.8" r="0.6"/><circle cx="237.5" cy="572.2" r="0.6"/><circle cx="239.7" cy="570.3" r="0.6"/><circle cx="249.2" cy="568.7" r="0.6"/><circle cx="238.7" cy="572.2" r="0.6"/><circle cx="225.3" cy="572.5" r="0.6"/><circle cx="236.7" cy="567.5" r="0.6"/><circle cx="253.3" cy="567.8" r="0.6"/><circle cx="255.3" cy="564.8" r="0.6"/><circle cx="229.6" cy="572.0" r="0.6"/><circle cx="241.9" cy="568.7" r="0.6"/><circle cx="244.9" cy="568.6" r="0.6"/><circle cx="249.9" cy="569.6" r="0.6"/><circle cx="236.7" cy="562.7" r="0.6"/><circle cx="257.8" cy="569.1" r="0.6"/><circle cx="254.2" cy="571.4" r="0.6"/><circle cx="244.5" cy="568.8" r="0.6"/><circle cx="243.5" cy="558.2" r="0.6"/><circle cx="247.5" cy="573.1" r="0.6"/><circle cx="249.0" cy="572.8" r="0.6"/><circle cx="256.9" cy="563.0" r="0.6"/><circle cx="242.5" cy="570.4" r="0.6"/><circle cx="238.3" cy="560.3" r="0.6"/><circle cx="242.8" cy="566.4" r="0.6"/><circle cx="241.7" cy="570.7" r="0.6"/><circle cx="253.3" cy="570.5" r="0.6"/><circle cx="224.1" cy="572.2" r="0.6"/><circle cx="228.3" cy="568.3" r="0.6"/><circle cx="242.0" cy="573.3" r="0.6"/><circle cx="240.9" cy="569.5" r="0.6"/><circle cx="234.2" cy="561.4" r="0.6"/><circle cx="223.0" cy="565.0" r="0.6"/><circle cx="251.3" cy="571.5" r="0.6"/><circle cx="252.2" cy="566.6" r="0.6"/><circle cx="233.1" cy="571.8" r="0.6"/><circle cx="260.3" cy="570.8" r="0.6"/><circle cx="218.5" cy="567.9" r="0.6"/><circle cx="234.8" cy="573.2" r="0.6"/><circle cx="246.3" cy="572.2" r="0.6"/><circle cx="224.6" cy="572.8" r="0.6"/><circle cx="246.8" cy="572.5" r="0.6"/><circle cx="253.4" cy="559.5" r="0.6"/><circle cx="248.5" cy="571.9" r="0.6"/><circle cx="260.1" cy="570.1" r="0.6"/><circle cx="265.0" cy="562.2" r="0.6"/><circle cx="242.8" cy="565.9" r="0.6"/><circle cx="262.4" cy="569.3" r="0.6"/><circle cx="251.0" cy="570.4" r="0.6"/><circle cx="222.8" cy="569.7" r="0.6"/><circle cx="221.5" cy="568.5" r="0.6"/><circle cx="246.4" cy="558.5" r="0.6"/><circle cx="241.9" cy="570.8" r="0.6"/><circle cx="245.5" cy="560.3" r="0.6"/><circle cx="210.6" cy="572.2" r="0.6"/><circle cx="255.9" cy="568.9" r="0.6"/><circle cx="237.5" cy="566.8" r="0.6"/><circle cx="244.0" cy="551.4" r="0.6"/><circle cx="245.8" cy="561.9" r="0.6"/><circle cx="249.5" cy="568.2" r="0.6"/><circle cx="264.8" cy="571.4" r="0.6"/><circle cx="242.0" cy="572.6" r="0.6"/><circle cx="246.1" cy="570.3" r="0.6"/><circle cx="218.1" cy="564.4" r="0.6"/><circle cx="252.3" cy="573.1" r="0.6"/><circle cx="253.0" cy="572.3" r="0.6"/><circle cx="255.7" cy="572.1" r="0.6"/><circle cx="229.0" cy="566.8" r="0.6"/><circle cx="241.2" cy="562.3" r="0.6"/><circle cx="248.0" cy="564.1" r="0.6"/><circle cx="239.8" cy="570.6" r="0.6"/><circle cx="238.4" cy="554.1" r="0.6"/><circle cx="248.7" cy="569.5" r="0.6"/><circle cx="253.2" cy="572.2" r="0.6"/><circle cx="228.5" cy="572.8" r="0.6"/><circle cx="237.8" cy="553.5" r="0.6"/><circle cx="241.9" cy="567.7" r="0.6"/><circle cx="242.3" cy="555.5" r="0.6"/><circle cx="244.7" cy="572.1" r="0.6"/><circle cx="232.3" cy="573.0" r="0.6"/><circle cx="241.6" cy="562.0" r="0.6"/><circle cx="256.7" cy="572.0" r="0.6"/><circle cx="244.3" cy="572.6" r="0.6"/><circle cx="244.2" cy="571.2" r="0.6"/><circle cx="249.8" cy="567.4" r="0.6"/><circle cx="235.4" cy="557.0" r="0.6"/><circle cx="255.5" cy="571.1" r="0.6"/><circle cx="241.1" cy="558.7" r="0.6"/><circle cx="242.2" cy="565.3" r="0.6"/><circle cx="245.3" cy="572.0" r="0.6"/><circle cx="243.5" cy="562.4" r="0.6"/><circle cx="234.6" cy="566.0" r="0.6"/><circle cx="253.5" cy="566.1" r="0.6"/><circle cx="237.6" cy="572.9" r="0.6"/><circle cx="231.5" cy="556.4" r="0.6"/><circle cx="229.5" cy="573.0" r="0.6"/><circle cx="238.1" cy="562.2" r="0.6"/><circle cx="229.7" cy="570.7" r="0.6"/><circle cx="221.3" cy="570.8" r="0.6"/><circle cx="245.4" cy="569.1" r="0.6"/><circle cx="242.0" cy="551.6" r="0.6"/><circle cx="233.4" cy="571.2" r="0.6"/><circle cx="245.2" cy="563.9" r="0.6"/><circle cx="242.9" cy="568.9" r="0.6"/><circle cx="238.8" cy="560.7" r="0.6"/><circle cx="240.1" cy="563.1" r="0.6"/><circle cx="235.2" cy="571.6" r="0.6"/><circle cx="269.5" cy="569.8" r="0.6"/><circle cx="254.6" cy="570.3" r="0.6"/><circle cx="247.3" cy="555.1" r="0.6"/><circle cx="256.0" cy="563.8" r="0.6"/><circle cx="241.1" cy="567.2" r="0.6"/><circle cx="244.1" cy="570.0" r="0.6"/><circle cx="273.0" cy="570.4" r="0.6"/><circle cx="236.5" cy="554.6" r="0.6"/><circle cx="243.7" cy="550.0" r="0.6"/><circle cx="245.6" cy="571.3" r="0.6"/><circle cx="255.2" cy="573.4" r="0.6"/><circle cx="254.0" cy="572.1" r="0.6"/><circle cx="236.5" cy="567.8" r="0.6"/><circle cx="246.6" cy="552.6" r="0.6"/><circle cx="254.2" cy="572.2" r="0.6"/><circle cx="234.1" cy="566.9" r="0.6"/><circle cx="242.2" cy="572.5" r="0.6"/><circle cx="217.1" cy="572.1" r="0.6"/><circle cx="235.5" cy="569.6" r="0.6"/><circle cx="233.5" cy="565.1" r="0.6"/></g>
<circle cx="234.7" cy="527.2" r="2.2" fill="#3565b5"/>
<circle cx="241.8" cy="541.6" r="2.1" fill="#3565b5"/>
<circle cx="242.9" cy="548.9" r="2" fill="#3565b5"/>
<circle cx="245" cy="549.8" r="1.3" fill="#3565b5"/>
<circle cx="243.7" cy="553.8" r="2.2" fill="#3565b5"/>
<circle cx="238.2" cy="555.2" r="1.8" fill="#3565b5"/>
<circle cx="243.4" cy="558.7" r="2" fill="#3565b5"/>
<circle cx="249.5" cy="559.2" r="1.6" fill="#3565b5"/>
<circle cx="231.6" cy="562" r="1.4" fill="#3565b5"/>
<circle cx="245" cy="562.5" r="2" fill="#3565b5"/>
<circle cx="246.7" cy="564.5" r="2" fill="#3565b5"/>
<circle cx="241.3" cy="565.6" r="1.6" fill="#3565b5"/>
<circle cx="252.7" cy="566.4" r="1.4" fill="#3565b5"/>
<circle cx="245.9" cy="567.7" r="2" fill="#3565b5"/>
<circle cx="220.5" cy="568.1" r="1.3" fill="#3565b5"/>
<circle cx="249.5" cy="572.6" r="1.4" fill="#3565b5"/>
<circle cx="251.6" cy="573.1" r="1" fill="#3565b5"/>
<circle cx="258.1" cy="573.1" r="1" fill="#3565b5"/>
<circle cx="262.2" cy="573" r="0.8" fill="#3565b5"/>
<circle cx="280.4" cy="507.7" r="2.2" fill="#a51c24"/>
<text x="261.4" y="502.4" font-size="8.2" fill="#9e2a30" stroke="#9e2a30" stroke-width="0.22" text-anchor="start" font-weight="normal" textLength="31.8" lengthAdjust="spacingAndGlyphs" >MECOM</text>
<path d="M196.2,461.5 L196.2,578.3 L304.7,578.3" fill="none" stroke="#231f20" stroke-width="1.1"/>
<line x1="192.2" y1="466.7" x2="196.2" y2="466.7" stroke="#231f20" stroke-width="0.9"/>
<text x="190.6" y="469.3" font-size="7.8" fill="#231f20" stroke="#231f20" stroke-width="0.22" text-anchor="end" font-weight="normal" textLength="13.2" lengthAdjust="spacingAndGlyphs" >250</text>
<line x1="192.2" y1="488.0" x2="196.2" y2="488.0" stroke="#231f20" stroke-width="0.9"/>
<text x="190.6" y="490.6" font-size="7.8" fill="#231f20" stroke="#231f20" stroke-width="0.22" text-anchor="end" font-weight="normal" textLength="13.2" lengthAdjust="spacingAndGlyphs" >200</text>
<line x1="192.2" y1="509.4" x2="196.2" y2="509.4" stroke="#231f20" stroke-width="0.9"/>
<text x="190.6" y="512.0" font-size="7.8" fill="#231f20" stroke="#231f20" stroke-width="0.22" text-anchor="end" font-weight="normal" textLength="13.2" lengthAdjust="spacingAndGlyphs" >150</text>
<line x1="192.2" y1="530.7" x2="196.2" y2="530.7" stroke="#231f20" stroke-width="0.9"/>
<text x="190.6" y="533.3" font-size="7.8" fill="#231f20" stroke="#231f20" stroke-width="0.22" text-anchor="end" font-weight="normal" textLength="13.2" lengthAdjust="spacingAndGlyphs" >100</text>
<line x1="192.2" y1="552.1" x2="196.2" y2="552.1" stroke="#231f20" stroke-width="0.9"/>
<text x="190.6" y="554.7" font-size="7.8" fill="#231f20" stroke="#231f20" stroke-width="0.22" text-anchor="end" font-weight="normal" textLength="9" lengthAdjust="spacingAndGlyphs" >50</text>
<line x1="192.2" y1="573.4" x2="196.2" y2="573.4" stroke="#231f20" stroke-width="0.9"/>
<text x="190.6" y="576.0" font-size="7.8" fill="#231f20" stroke="#231f20" stroke-width="0.22" text-anchor="end" font-weight="normal" textLength="4" lengthAdjust="spacingAndGlyphs" >0</text>
<line x1="201.2" y1="578.3" x2="201.2" y2="581.3" stroke="#231f20" stroke-width="0.9"/>
<text x="201.2" y="591.2" font-size="8" fill="#231f20" stroke="#231f20" stroke-width="0.22" text-anchor="middle" font-weight="normal" >−10</text>
<line x1="225.9" y1="578.3" x2="225.9" y2="581.3" stroke="#231f20" stroke-width="0.9"/>
<text x="225.9" y="591.2" font-size="8" fill="#231f20" stroke="#231f20" stroke-width="0.22" text-anchor="middle" font-weight="normal" >−5</text>
<line x1="250.7" y1="578.3" x2="250.7" y2="581.3" stroke="#231f20" stroke-width="0.9"/>
<text x="250.7" y="591.2" font-size="8" fill="#231f20" stroke="#231f20" stroke-width="0.22" text-anchor="middle" font-weight="normal" >0</text>
<line x1="275.4" y1="578.3" x2="275.4" y2="581.3" stroke="#231f20" stroke-width="0.9"/>
<text x="275.4" y="591.2" font-size="8" fill="#231f20" stroke="#231f20" stroke-width="0.22" text-anchor="middle" font-weight="normal" >5</text>
<line x1="300.2" y1="578.3" x2="300.2" y2="581.3" stroke="#231f20" stroke-width="0.9"/>
<text x="300.2" y="591.2" font-size="8" fill="#231f20" stroke="#231f20" stroke-width="0.22" text-anchor="middle" font-weight="normal" >10</text>
<text x="207.4" y="456" font-size="10" fill="#231f20" stroke="#231f20" stroke-width="0.22" text-anchor="start" font-weight="normal" textLength="86.9" lengthAdjust="spacingAndGlyphs" >Monocyte signature</text>
<g filter="url(#bl4)"><path d="M389,504 L394,504 L430,572 L360,572Z" fill="#f7f7f7"/></g>
<g filter="url(#bl2)"><path d="M390,534 L398.5,536 L414,572 L374,572Z" fill="#ececec"/><path d="M389.5,532 L393,532 L398.5,572 L377,572Z" fill="#e0e0e0"/><ellipse cx="392.0" cy="571.2" rx="18.0" ry="1.8" fill="#e0e0e0"/></g>
<g fill="#9a9a9a" fill-opacity="0.25"><circle cx="383.7" cy="571.6" r="0.6"/><circle cx="378.0" cy="562.1" r="0.6"/><circle cx="391.8" cy="572.2" r="0.6"/><circle cx="397.9" cy="571.9" r="0.6"/><circle cx="399.7" cy="565.5" r="0.6"/><circle cx="402.1" cy="572.0" r="0.6"/><circle cx="370.0" cy="571.3" r="0.6"/><circle cx="399.8" cy="567.8" r="0.6"/><circle cx="389.8" cy="573.3" r="0.6"/><circle cx="396.0" cy="561.1" r="0.6"/><circle cx="397.3" cy="563.5" r="0.6"/><circle cx="372.9" cy="565.2" r="0.6"/><circle cx="392.6" cy="555.6" r="0.6"/><circle cx="384.1" cy="562.1" r="0.6"/><circle cx="391.5" cy="569.4" r="0.6"/><circle cx="375.9" cy="570.0" r="0.6"/><circle cx="381.6" cy="570.7" r="0.6"/><circle cx="395.6" cy="572.7" r="0.6"/><circle cx="399.4" cy="563.2" r="0.6"/><circle cx="361.4" cy="566.4" r="0.6"/><circle cx="390.9" cy="568.6" r="0.6"/><circle cx="385.2" cy="566.7" r="0.6"/><circle cx="394.5" cy="569.9" r="0.6"/><circle cx="397.9" cy="569.0" r="0.6"/><circle cx="374.9" cy="571.7" r="0.6"/><circle cx="395.1" cy="570.4" r="0.6"/><circle cx="381.9" cy="572.6" r="0.6"/><circle cx="391.5" cy="571.8" r="0.6"/><circle cx="387.8" cy="572.1" r="0.6"/><circle cx="394.1" cy="567.1" r="0.6"/><circle cx="382.1" cy="555.0" r="0.6"/><circle cx="399.1" cy="557.3" r="0.6"/><circle cx="405.4" cy="573.1" r="0.6"/><circle cx="404.4" cy="562.5" r="0.6"/><circle cx="397.1" cy="567.3" r="0.6"/><circle cx="398.9" cy="561.3" r="0.6"/><circle cx="393.0" cy="560.4" r="0.6"/><circle cx="385.1" cy="561.9" r="0.6"/><circle cx="389.7" cy="570.6" r="0.6"/><circle cx="387.6" cy="552.2" r="0.6"/><circle cx="389.7" cy="567.9" r="0.6"/><circle cx="383.5" cy="567.7" r="0.6"/><circle cx="382.1" cy="568.2" r="0.6"/><circle cx="385.7" cy="565.6" r="0.6"/><circle cx="389.0" cy="570.9" r="0.6"/><circle cx="397.1" cy="566.5" r="0.6"/><circle cx="391.7" cy="572.7" r="0.6"/><circle cx="395.1" cy="567.2" r="0.6"/><circle cx="387.9" cy="568.5" r="0.6"/><circle cx="390.1" cy="569.9" r="0.6"/><circle cx="391.8" cy="570.9" r="0.6"/><circle cx="391.1" cy="536.5" r="0.6"/><circle cx="387.9" cy="572.6" r="0.6"/><circle cx="399.3" cy="568.0" r="0.6"/><circle cx="379.2" cy="572.9" r="0.6"/><circle cx="392.7" cy="562.7" r="0.6"/><circle cx="383.4" cy="573.4" r="0.6"/><circle cx="397.6" cy="552.5" r="0.6"/><circle cx="374.2" cy="569.1" r="0.6"/><circle cx="393.9" cy="571.3" r="0.6"/><circle cx="363.2" cy="573.2" r="0.6"/><circle cx="390.8" cy="565.4" r="0.6"/><circle cx="381.5" cy="571.6" r="0.6"/><circle cx="369.3" cy="571.6" r="0.6"/><circle cx="385.9" cy="568.1" r="0.6"/><circle cx="398.1" cy="571.4" r="0.6"/><circle cx="389.0" cy="572.0" r="0.6"/><circle cx="393.7" cy="570.4" r="0.6"/><circle cx="391.9" cy="572.9" r="0.6"/><circle cx="373.8" cy="573.4" r="0.6"/><circle cx="395.2" cy="564.5" r="0.6"/><circle cx="403.0" cy="568.6" r="0.6"/><circle cx="387.9" cy="571.0" r="0.6"/><circle cx="403.9" cy="572.5" r="0.6"/><circle cx="404.0" cy="561.5" r="0.6"/><circle cx="405.8" cy="571.9" r="0.6"/><circle cx="388.6" cy="571.2" r="0.6"/><circle cx="393.1" cy="572.6" r="0.6"/><circle cx="368.2" cy="570.7" r="0.6"/><circle cx="394.3" cy="546.0" r="0.6"/><circle cx="384.5" cy="573.1" r="0.6"/><circle cx="389.9" cy="563.7" r="0.6"/><circle cx="402.8" cy="571.1" r="0.6"/><circle cx="381.2" cy="572.6" r="0.6"/><circle cx="391.3" cy="573.4" r="0.6"/><circle cx="416.0" cy="572.4" r="0.6"/><circle cx="383.6" cy="569.5" r="0.6"/><circle cx="397.5" cy="563.7" r="0.6"/><circle cx="387.4" cy="572.0" r="0.6"/><circle cx="379.6" cy="557.0" r="0.6"/><circle cx="401.8" cy="569.0" r="0.6"/><circle cx="385.2" cy="568.3" r="0.6"/><circle cx="403.5" cy="567.6" r="0.6"/><circle cx="368.4" cy="572.7" r="0.6"/><circle cx="368.7" cy="572.5" r="0.6"/><circle cx="386.6" cy="568.8" r="0.6"/><circle cx="400.9" cy="571.3" r="0.6"/><circle cx="388.5" cy="572.9" r="0.6"/><circle cx="411.0" cy="573.1" r="0.6"/><circle cx="394.8" cy="572.7" r="0.6"/><circle cx="418.8" cy="565.9" r="0.6"/><circle cx="362.1" cy="563.5" r="0.6"/><circle cx="375.0" cy="570.1" r="0.6"/><circle cx="377.2" cy="565.9" r="0.6"/><circle cx="391.4" cy="571.3" r="0.6"/><circle cx="385.2" cy="571.2" r="0.6"/><circle cx="388.8" cy="540.2" r="0.6"/><circle cx="392.4" cy="564.2" r="0.6"/><circle cx="393.8" cy="569.8" r="0.6"/><circle cx="391.1" cy="571.6" r="0.6"/><circle cx="399.4" cy="571.0" r="0.6"/><circle cx="388.3" cy="562.1" r="0.6"/><circle cx="365.6" cy="561.9" r="0.6"/><circle cx="407.2" cy="564.8" r="0.6"/><circle cx="390.1" cy="569.4" r="0.6"/><circle cx="400.5" cy="559.5" r="0.6"/><circle cx="394.8" cy="568.8" r="0.6"/><circle cx="401.5" cy="569.5" r="0.6"/><circle cx="388.1" cy="572.1" r="0.6"/><circle cx="389.9" cy="563.1" r="0.6"/><circle cx="404.2" cy="572.2" r="0.6"/><circle cx="400.7" cy="571.2" r="0.6"/><circle cx="380.2" cy="560.5" r="0.6"/><circle cx="391.2" cy="562.7" r="0.6"/><circle cx="390.5" cy="572.0" r="0.6"/><circle cx="374.0" cy="570.1" r="0.6"/><circle cx="404.8" cy="554.3" r="0.6"/><circle cx="394.4" cy="572.5" r="0.6"/><circle cx="392.8" cy="562.5" r="0.6"/><circle cx="394.1" cy="569.3" r="0.6"/><circle cx="390.6" cy="557.9" r="0.6"/><circle cx="403.8" cy="567.8" r="0.6"/><circle cx="389.3" cy="571.7" r="0.6"/><circle cx="390.7" cy="569.8" r="0.6"/><circle cx="387.2" cy="564.9" r="0.6"/><circle cx="398.5" cy="573.1" r="0.6"/><circle cx="370.0" cy="566.2" r="0.6"/><circle cx="401.1" cy="565.3" r="0.6"/><circle cx="415.9" cy="572.8" r="0.6"/><circle cx="379.5" cy="563.3" r="0.6"/><circle cx="384.6" cy="562.8" r="0.6"/><circle cx="375.4" cy="566.8" r="0.6"/><circle cx="390.7" cy="568.1" r="0.6"/><circle cx="396.6" cy="565.7" r="0.6"/><circle cx="405.9" cy="568.0" r="0.6"/><circle cx="396.5" cy="567.8" r="0.6"/><circle cx="394.7" cy="569.1" r="0.6"/><circle cx="367.0" cy="570.5" r="0.6"/><circle cx="378.3" cy="563.3" r="0.6"/><circle cx="391.1" cy="570.2" r="0.6"/><circle cx="372.7" cy="557.2" r="0.6"/><circle cx="401.1" cy="570.9" r="0.6"/><circle cx="404.9" cy="566.7" r="0.6"/><circle cx="381.6" cy="570.6" r="0.6"/><circle cx="378.1" cy="572.9" r="0.6"/><circle cx="392.4" cy="563.3" r="0.6"/><circle cx="401.8" cy="564.2" r="0.6"/><circle cx="389.9" cy="570.2" r="0.6"/><circle cx="391.0" cy="568.4" r="0.6"/><circle cx="386.0" cy="571.9" r="0.6"/><circle cx="386.3" cy="572.5" r="0.6"/><circle cx="396.0" cy="552.8" r="0.6"/><circle cx="400.4" cy="572.0" r="0.6"/><circle cx="386.8" cy="572.0" r="0.6"/><circle cx="393.6" cy="551.5" r="0.6"/><circle cx="394.2" cy="572.6" r="0.6"/><circle cx="384.4" cy="573.0" r="0.6"/><circle cx="396.6" cy="572.4" r="0.6"/><circle cx="389.7" cy="573.3" r="0.6"/><circle cx="387.3" cy="571.8" r="0.6"/><circle cx="403.3" cy="568.4" r="0.6"/><circle cx="380.7" cy="566.0" r="0.6"/><circle cx="397.0" cy="566.2" r="0.6"/><circle cx="367.7" cy="572.4" r="0.6"/><circle cx="379.9" cy="573.1" r="0.6"/><circle cx="381.5" cy="569.0" r="0.6"/><circle cx="398.2" cy="564.3" r="0.6"/><circle cx="407.3" cy="570.1" r="0.6"/><circle cx="391.3" cy="570.1" r="0.6"/><circle cx="400.1" cy="568.2" r="0.6"/><circle cx="398.6" cy="568.6" r="0.6"/><circle cx="386.3" cy="565.9" r="0.6"/><circle cx="386.7" cy="572.8" r="0.6"/><circle cx="386.5" cy="561.8" r="0.6"/><circle cx="390.7" cy="553.3" r="0.6"/><circle cx="413.3" cy="571.9" r="0.6"/><circle cx="401.4" cy="571.2" r="0.6"/><circle cx="399.2" cy="572.7" r="0.6"/><circle cx="381.2" cy="566.1" r="0.6"/><circle cx="386.0" cy="566.0" r="0.6"/><circle cx="385.3" cy="571.8" r="0.6"/><circle cx="401.5" cy="573.4" r="0.6"/><circle cx="394.5" cy="560.4" r="0.6"/><circle cx="393.4" cy="563.8" r="0.6"/><circle cx="381.4" cy="563.2" r="0.6"/><circle cx="395.2" cy="572.5" r="0.6"/><circle cx="381.6" cy="573.4" r="0.6"/><circle cx="389.8" cy="572.4" r="0.6"/><circle cx="399.0" cy="559.3" r="0.6"/><circle cx="392.2" cy="565.1" r="0.6"/><circle cx="404.2" cy="565.2" r="0.6"/><circle cx="402.5" cy="568.4" r="0.6"/><circle cx="409.4" cy="567.5" r="0.6"/><circle cx="384.1" cy="567.9" r="0.6"/><circle cx="378.2" cy="564.6" r="0.6"/><circle cx="391.6" cy="563.2" r="0.6"/><circle cx="389.4" cy="567.6" r="0.6"/><circle cx="392.4" cy="564.1" r="0.6"/><circle cx="382.1" cy="570.9" r="0.6"/><circle cx="395.0" cy="568.6" r="0.6"/><circle cx="399.0" cy="570.3" r="0.6"/><circle cx="377.9" cy="568.5" r="0.6"/><circle cx="379.5" cy="564.3" r="0.6"/><circle cx="395.6" cy="565.1" r="0.6"/><circle cx="390.1" cy="565.7" r="0.6"/><circle cx="367.3" cy="568.5" r="0.6"/><circle cx="394.2" cy="568.6" r="0.6"/><circle cx="399.1" cy="570.0" r="0.6"/><circle cx="393.7" cy="569.3" r="0.6"/><circle cx="388.9" cy="570.8" r="0.6"/><circle cx="371.6" cy="565.3" r="0.6"/><circle cx="397.2" cy="572.4" r="0.6"/><circle cx="379.1" cy="564.6" r="0.6"/><circle cx="397.8" cy="573.0" r="0.6"/><circle cx="397.3" cy="570.3" r="0.6"/><circle cx="373.7" cy="568.4" r="0.6"/><circle cx="408.7" cy="570.1" r="0.6"/><circle cx="395.4" cy="569.9" r="0.6"/><circle cx="382.9" cy="565.7" r="0.6"/><circle cx="385.1" cy="561.0" r="0.6"/><circle cx="396.1" cy="572.6" r="0.6"/><circle cx="390.3" cy="552.6" r="0.6"/><circle cx="366.3" cy="568.1" r="0.6"/><circle cx="399.7" cy="569.1" r="0.6"/><circle cx="410.1" cy="569.2" r="0.6"/><circle cx="398.2" cy="567.3" r="0.6"/><circle cx="400.7" cy="571.8" r="0.6"/><circle cx="396.4" cy="557.1" r="0.6"/><circle cx="388.6" cy="561.2" r="0.6"/><circle cx="391.6" cy="562.8" r="0.6"/><circle cx="389.3" cy="572.1" r="0.6"/><circle cx="383.0" cy="553.6" r="0.6"/><circle cx="396.4" cy="572.4" r="0.6"/><circle cx="371.5" cy="573.3" r="0.6"/><circle cx="386.2" cy="568.4" r="0.6"/><circle cx="401.3" cy="554.0" r="0.6"/><circle cx="376.4" cy="566.8" r="0.6"/><circle cx="391.6" cy="571.7" r="0.6"/><circle cx="404.8" cy="569.6" r="0.6"/><circle cx="404.4" cy="573.0" r="0.6"/><circle cx="397.3" cy="568.9" r="0.6"/><circle cx="405.7" cy="573.1" r="0.6"/><circle cx="376.7" cy="573.2" r="0.6"/><circle cx="381.1" cy="560.3" r="0.6"/><circle cx="396.9" cy="566.6" r="0.6"/><circle cx="390.8" cy="567.5" r="0.6"/><circle cx="393.7" cy="567.4" r="0.6"/><circle cx="397.0" cy="571.8" r="0.6"/><circle cx="395.2" cy="569.0" r="0.6"/><circle cx="373.8" cy="568.3" r="0.6"/></g>
<path d="M389,558.5 L391.5,558.5 L394.5,565 L398.5,573.6 L386,573.6 L387.2,565Z" fill="#cf1f1f"/>
<circle cx="392.4" cy="528.2" r="1.9" fill="#cf1f1f"/>
<circle cx="379.1" cy="544.7" r="2" fill="#cf1f1f"/>
<circle cx="383.2" cy="546.4" r="2" fill="#cf1f1f"/>
<circle cx="391" cy="548.5" r="2" fill="#cf1f1f"/>
<circle cx="410.2" cy="545" r="2" fill="#cf1f1f"/>
<circle cx="393.3" cy="555" r="1.8" fill="#cf1f1f"/>
<circle cx="386.9" cy="556.8" r="1.6" fill="#cf1f1f"/>
<circle cx="394.1" cy="556.2" r="1.6" fill="#cf1f1f"/>
<circle cx="376" cy="562" r="1.4" fill="#cf1f1f"/>
<circle cx="382.4" cy="562.3" r="1.5" fill="#cf1f1f"/>
<circle cx="390.7" cy="559.7" r="2" fill="#cf1f1f"/>
<circle cx="388.4" cy="562.3" r="1.6" fill="#cf1f1f"/>
<circle cx="385.5" cy="569.2" r="1.3" fill="#cf1f1f"/>
<circle cx="401.6" cy="566.6" r="1" fill="#cf1f1f"/>
<circle cx="405.4" cy="571" r="1.3" fill="#cf1f1f"/>
<circle cx="410.6" cy="569.2" r="1.2" fill="#cf1f1f"/>
<circle cx="411.4" cy="572.7" r="1" fill="#cf1f1f"/>
<circle cx="401.9" cy="572.7" r="1.3" fill="#cf1f1f"/>
<circle cx="387.2" cy="573.6" r="1.3" fill="#cf1f1f"/>
<circle cx="389" cy="565" r="1.6" fill="#cf1f1f"/>
<circle cx="392" cy="566" r="1.7" fill="#cf1f1f"/>
<circle cx="395" cy="568" r="1.7" fill="#cf1f1f"/>
<circle cx="391" cy="570" r="1.7" fill="#cf1f1f"/>
<circle cx="394" cy="571.5" r="1.7" fill="#cf1f1f"/>
<circle cx="397" cy="572.5" r="1.6" fill="#cf1f1f"/>
<circle cx="390" cy="573" r="1.6" fill="#cf1f1f"/>
<circle cx="388" cy="571" r="1.4" fill="#cf1f1f"/>
<circle cx="396" cy="569.5" r="1.5" fill="#cf1f1f"/>
<circle cx="393" cy="563.5" r="1.5" fill="#cf1f1f"/>
<circle cx="427.7" cy="507.7" r="2.2" fill="#a51c24"/>
<text x="408.7" y="502.4" font-size="8.2" fill="#9e2a30" stroke="#9e2a30" stroke-width="0.22" text-anchor="start" font-weight="normal" textLength="31.8" lengthAdjust="spacingAndGlyphs" >MECOM</text>
<path d="M343.8,461.5 L343.8,578.3 L452.3,578.3" fill="none" stroke="#231f20" stroke-width="1.1"/>
<line x1="339.8" y1="466.7" x2="343.8" y2="466.7" stroke="#231f20" stroke-width="0.9"/>
<text x="338.2" y="469.3" font-size="7.8" fill="#231f20" stroke="#231f20" stroke-width="0.22" text-anchor="end" font-weight="normal" textLength="13.2" lengthAdjust="spacingAndGlyphs" >250</text>
<line x1="339.8" y1="488.0" x2="343.8" y2="488.0" stroke="#231f20" stroke-width="0.9"/>
<text x="338.2" y="490.6" font-size="7.8" fill="#231f20" stroke="#231f20" stroke-width="0.22" text-anchor="end" font-weight="normal" textLength="13.2" lengthAdjust="spacingAndGlyphs" >200</text>
<line x1="339.8" y1="509.4" x2="343.8" y2="509.4" stroke="#231f20" stroke-width="0.9"/>
<text x="338.2" y="512.0" font-size="7.8" fill="#231f20" stroke="#231f20" stroke-width="0.22" text-anchor="end" font-weight="normal" textLength="13.2" lengthAdjust="spacingAndGlyphs" >150</text>
<line x1="339.8" y1="530.7" x2="343.8" y2="530.7" stroke="#231f20" stroke-width="0.9"/>
<text x="338.2" y="533.3" font-size="7.8" fill="#231f20" stroke="#231f20" stroke-width="0.22" text-anchor="end" font-weight="normal" textLength="13.2" lengthAdjust="spacingAndGlyphs" >100</text>
<line x1="339.8" y1="552.1" x2="343.8" y2="552.1" stroke="#231f20" stroke-width="0.9"/>
<text x="338.2" y="554.7" font-size="7.8" fill="#231f20" stroke="#231f20" stroke-width="0.22" text-anchor="end" font-weight="normal" textLength="9" lengthAdjust="spacingAndGlyphs" >50</text>
<line x1="339.8" y1="573.4" x2="343.8" y2="573.4" stroke="#231f20" stroke-width="0.9"/>
<text x="338.2" y="576.0" font-size="7.8" fill="#231f20" stroke="#231f20" stroke-width="0.22" text-anchor="end" font-weight="normal" textLength="4" lengthAdjust="spacingAndGlyphs" >0</text>
<line x1="348.5" y1="578.3" x2="348.5" y2="581.3" stroke="#231f20" stroke-width="0.9"/>
<text x="348.5" y="591.2" font-size="8" fill="#231f20" stroke="#231f20" stroke-width="0.22" text-anchor="middle" font-weight="normal" >−10</text>
<line x1="373.2" y1="578.3" x2="373.2" y2="581.3" stroke="#231f20" stroke-width="0.9"/>
<text x="373.2" y="591.2" font-size="8" fill="#231f20" stroke="#231f20" stroke-width="0.22" text-anchor="middle" font-weight="normal" >−5</text>
<line x1="398.0" y1="578.3" x2="398.0" y2="581.3" stroke="#231f20" stroke-width="0.9"/>
<text x="398.0" y="591.2" font-size="8" fill="#231f20" stroke="#231f20" stroke-width="0.22" text-anchor="middle" font-weight="normal" >0</text>
<line x1="422.8" y1="578.3" x2="422.8" y2="581.3" stroke="#231f20" stroke-width="0.9"/>
<text x="422.8" y="591.2" font-size="8" fill="#231f20" stroke="#231f20" stroke-width="0.22" text-anchor="middle" font-weight="normal" >5</text>
<line x1="447.5" y1="578.3" x2="447.5" y2="581.3" stroke="#231f20" stroke-width="0.9"/>
<text x="447.5" y="591.2" font-size="8" fill="#231f20" stroke="#231f20" stroke-width="0.22" text-anchor="middle" font-weight="normal" >10</text>
<text x="345.3" y="456" font-size="10" fill="#231f20" stroke="#231f20" stroke-width="0.22" text-anchor="start" font-weight="normal" textLength="105.3" lengthAdjust="spacingAndGlyphs" >MECOM Gene Network</text>
<text transform="translate(23.6,520) rotate(-90)" font-size="9.2" fill="#231f20" stroke="#231f20" stroke-width="0.2" text-anchor="middle" textLength="81" lengthAdjust="spacingAndGlyphs">-log10 adjusted <tspan font-style="italic">P</tspan>-value</text>
<text x="208" y="604.6" font-size="9.6" fill="#231f20" stroke="#231f20" stroke-width="0.22" text-anchor="start" font-weight="normal" textLength="86" lengthAdjust="spacingAndGlyphs" >Average log2 fold change</text>
<rect x="0.5" y="0.5" width="519" height="613" fill="none" stroke="#3a3a3a" stroke-width="1.2"/>
</svg></body></html>
